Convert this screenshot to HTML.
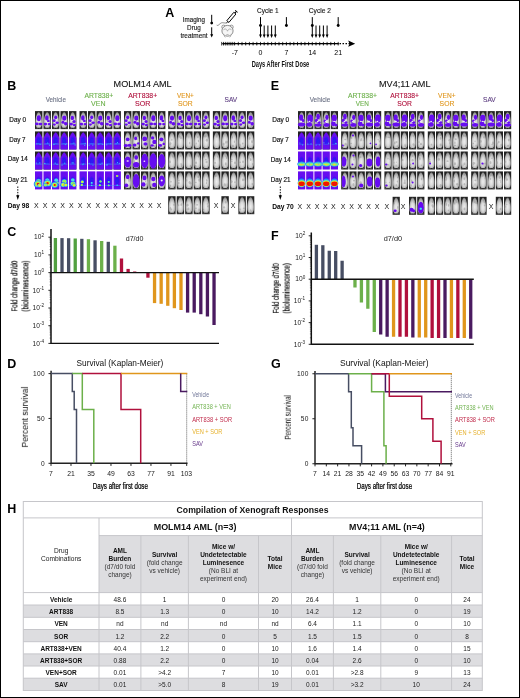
<!DOCTYPE html>
<html><head><meta charset="utf-8"><style>
html,body{margin:0;padding:0;background:#fff;}
svg{display:block;font-family:"Liberation Sans", sans-serif;will-change:transform;}
</style></head><body>
<svg width="520" height="698" viewBox="0 0 520 698">
<defs><radialGradient id="gm" cx="50%" cy="60%" r="60%"><stop offset="0" stop-color="#eeeeee"/><stop offset="0.45" stop-color="#d8d8d8"/><stop offset="0.8" stop-color="#a8a8a8"/><stop offset="1" stop-color="#6a6a6a"/></radialGradient><radialGradient id="gh" cx="50%" cy="50%" r="50%"><stop offset="0" stop-color="#2a1cf2"/><stop offset="0.6" stop-color="#3018f2"/><stop offset="1" stop-color="#3018f2" stop-opacity="0"/></radialGradient><clipPath id="cm"><path d="M3.5,0.8 C4.7,0.8 5.4,3.2 6.0,5.6 C6.6,8.2 6.7,11.5 6.55,13.5 C6.35,15.2 5.6,16.3 4.8,16.6 L2.2,16.6 C1.4,16.3 0.65,15.2 0.45,13.5 C0.3,11.5 0.4,8.2 1.0,5.6 C1.6,3.2 2.3,0.8 3.5,0.8 Z"/></clipPath><filter id="soft" x="-2%" y="-2%" width="104%" height="104%"><feGaussianBlur stdDeviation="0.3"/></filter></defs>
<rect x="0" y="0" width="520" height="698" fill="#fff"/>
<text x="165.20" y="17.40" font-size="12.5" font-weight="bold" fill="#000" >A</text>
<text transform="translate(182.80,21.90) scale(0.8628,1)" font-size="7.2" fill="#1a1a1a" stroke="#1a1a1a" stroke-width="0.15">Imaging</text>
<text transform="translate(187.10,30.20) scale(0.8778,1)" font-size="7.2" fill="#1a1a1a" stroke="#1a1a1a" stroke-width="0.15">Drug</text>
<text transform="translate(180.40,37.60) scale(0.8976,1)" font-size="7.2" fill="#1a1a1a" stroke="#1a1a1a" stroke-width="0.15">treatment</text>
<line x1="211.70" y1="14.80" x2="211.70" y2="23.10" stroke="#000" stroke-width="1.0" />
<circle cx="211.7" cy="23.1" r="1.4" fill="#000"/>
<line x1="211.70" y1="27.30" x2="211.70" y2="35.50" stroke="#000" stroke-width="1.0" />
<path d="M210.2,34.3 L211.7,37.6 L213.2,34.3 Z" fill="#000"/>
<path d="M216.7,25.1 C218.5,26.6 220,22.5 222.5,22.7 C224.5,22.9 225.2,23.2 226.8,22.8" fill="none" stroke="#444" stroke-width="0.6"/>
<circle cx="223.6" cy="27.0" r="1.9" fill="#f4f4f4" stroke="#666" stroke-width="0.6"/><circle cx="231.4" cy="27.0" r="1.9" fill="#f4f4f4" stroke="#666" stroke-width="0.6"/>
<ellipse cx="227.5" cy="30.8" rx="5.6" ry="5.4" fill="#f6f6f6" stroke="#6a6a6a" stroke-width="0.75"/>
<path d="M223.2,30.2 C224.8,28.2 226.6,28.8 227.5,31.2 C228.4,28.8 230.2,28.2 231.8,30.2" fill="none" stroke="#888" stroke-width="0.6"/>
<path d="M223.8,35.6 L225.3,37.4 M231.2,35.6 L229.7,37.4 M226.4,34.6 L228.6,34.6" stroke="#888" stroke-width="0.6"/>
<g transform="translate(226.8,22.8) rotate(-50)"><rect x="1.6" y="-1.35" width="11" height="2.7" fill="#fff" stroke="#000" stroke-width="0.9"/><line x1="-0.5" y1="0" x2="1.6" y2="0" stroke="#000" stroke-width="0.7"/><line x1="12.6" y1="0" x2="15" y2="0" stroke="#000" stroke-width="1"/><line x1="15" y1="-1.6" x2="15" y2="1.6" stroke="#000" stroke-width="0.9"/></g>
<line x1="222.30" y1="43.70" x2="338.00" y2="43.70" stroke="#000" stroke-width="1.2" />
<line x1="339.50" y1="43.70" x2="350.00" y2="43.70" stroke="#000" stroke-width="1.2" stroke-dasharray="1.5,1.5"/>
<path d="M348.2,40.6 L355.2,43.7 L348.2,46.8 L349.5,43.7 Z" fill="#000"/>
<line x1="223.50" y1="41.90" x2="223.50" y2="45.50" stroke="#000" stroke-width="0.75" />
<circle cx="223.50" cy="43.7" r="0.8" fill="#000"/>
<line x1="227.20" y1="41.90" x2="227.20" y2="45.50" stroke="#000" stroke-width="0.75" />
<circle cx="227.20" cy="43.7" r="0.8" fill="#000"/>
<line x1="230.90" y1="41.90" x2="230.90" y2="45.50" stroke="#000" stroke-width="0.75" />
<circle cx="230.90" cy="43.7" r="0.8" fill="#000"/>
<line x1="234.60" y1="41.90" x2="234.60" y2="45.50" stroke="#000" stroke-width="0.75" />
<circle cx="234.60" cy="43.7" r="0.8" fill="#000"/>
<line x1="238.30" y1="41.90" x2="238.30" y2="45.50" stroke="#000" stroke-width="0.75" />
<circle cx="238.30" cy="43.7" r="0.8" fill="#000"/>
<line x1="242.00" y1="41.90" x2="242.00" y2="45.50" stroke="#000" stroke-width="0.75" />
<circle cx="242.00" cy="43.7" r="0.8" fill="#000"/>
<line x1="245.70" y1="41.90" x2="245.70" y2="45.50" stroke="#000" stroke-width="0.75" />
<circle cx="245.70" cy="43.7" r="0.8" fill="#000"/>
<line x1="249.40" y1="41.90" x2="249.40" y2="45.50" stroke="#000" stroke-width="0.75" />
<circle cx="249.40" cy="43.7" r="0.8" fill="#000"/>
<line x1="253.10" y1="41.90" x2="253.10" y2="45.50" stroke="#000" stroke-width="0.75" />
<circle cx="253.10" cy="43.7" r="0.8" fill="#000"/>
<line x1="256.80" y1="41.90" x2="256.80" y2="45.50" stroke="#000" stroke-width="0.75" />
<circle cx="256.80" cy="43.7" r="0.8" fill="#000"/>
<line x1="260.50" y1="41.90" x2="260.50" y2="45.50" stroke="#000" stroke-width="0.75" />
<circle cx="260.50" cy="43.7" r="0.8" fill="#000"/>
<line x1="264.20" y1="41.90" x2="264.20" y2="45.50" stroke="#000" stroke-width="0.75" />
<circle cx="264.20" cy="43.7" r="0.8" fill="#000"/>
<line x1="267.90" y1="41.90" x2="267.90" y2="45.50" stroke="#000" stroke-width="0.75" />
<circle cx="267.90" cy="43.7" r="0.8" fill="#000"/>
<line x1="271.60" y1="41.90" x2="271.60" y2="45.50" stroke="#000" stroke-width="0.75" />
<circle cx="271.60" cy="43.7" r="0.8" fill="#000"/>
<line x1="275.30" y1="41.90" x2="275.30" y2="45.50" stroke="#000" stroke-width="0.75" />
<circle cx="275.30" cy="43.7" r="0.8" fill="#000"/>
<line x1="279.00" y1="41.90" x2="279.00" y2="45.50" stroke="#000" stroke-width="0.75" />
<circle cx="279.00" cy="43.7" r="0.8" fill="#000"/>
<line x1="282.70" y1="41.90" x2="282.70" y2="45.50" stroke="#000" stroke-width="0.75" />
<circle cx="282.70" cy="43.7" r="0.8" fill="#000"/>
<line x1="286.40" y1="41.90" x2="286.40" y2="45.50" stroke="#000" stroke-width="0.75" />
<circle cx="286.40" cy="43.7" r="0.8" fill="#000"/>
<line x1="290.10" y1="41.90" x2="290.10" y2="45.50" stroke="#000" stroke-width="0.75" />
<circle cx="290.10" cy="43.7" r="0.8" fill="#000"/>
<line x1="293.80" y1="41.90" x2="293.80" y2="45.50" stroke="#000" stroke-width="0.75" />
<circle cx="293.80" cy="43.7" r="0.8" fill="#000"/>
<line x1="297.50" y1="41.90" x2="297.50" y2="45.50" stroke="#000" stroke-width="0.75" />
<circle cx="297.50" cy="43.7" r="0.8" fill="#000"/>
<line x1="301.20" y1="41.90" x2="301.20" y2="45.50" stroke="#000" stroke-width="0.75" />
<circle cx="301.20" cy="43.7" r="0.8" fill="#000"/>
<line x1="304.90" y1="41.90" x2="304.90" y2="45.50" stroke="#000" stroke-width="0.75" />
<circle cx="304.90" cy="43.7" r="0.8" fill="#000"/>
<line x1="308.60" y1="41.90" x2="308.60" y2="45.50" stroke="#000" stroke-width="0.75" />
<circle cx="308.60" cy="43.7" r="0.8" fill="#000"/>
<line x1="312.30" y1="41.90" x2="312.30" y2="45.50" stroke="#000" stroke-width="0.75" />
<circle cx="312.30" cy="43.7" r="0.8" fill="#000"/>
<line x1="316.00" y1="41.90" x2="316.00" y2="45.50" stroke="#000" stroke-width="0.75" />
<circle cx="316.00" cy="43.7" r="0.8" fill="#000"/>
<line x1="319.70" y1="41.90" x2="319.70" y2="45.50" stroke="#000" stroke-width="0.75" />
<circle cx="319.70" cy="43.7" r="0.8" fill="#000"/>
<line x1="323.40" y1="41.90" x2="323.40" y2="45.50" stroke="#000" stroke-width="0.75" />
<circle cx="323.40" cy="43.7" r="0.8" fill="#000"/>
<line x1="327.10" y1="41.90" x2="327.10" y2="45.50" stroke="#000" stroke-width="0.75" />
<circle cx="327.10" cy="43.7" r="0.8" fill="#000"/>
<line x1="330.80" y1="41.90" x2="330.80" y2="45.50" stroke="#000" stroke-width="0.75" />
<circle cx="330.80" cy="43.7" r="0.8" fill="#000"/>
<line x1="334.50" y1="41.90" x2="334.50" y2="45.50" stroke="#000" stroke-width="0.75" />
<circle cx="334.50" cy="43.7" r="0.8" fill="#000"/>
<line x1="338.20" y1="41.90" x2="338.20" y2="45.50" stroke="#000" stroke-width="0.75" />
<circle cx="338.20" cy="43.7" r="0.8" fill="#000"/>
<line x1="221.65" y1="41.90" x2="221.65" y2="45.50" stroke="#000" stroke-width="0.75" />
<line x1="225.35" y1="41.90" x2="225.35" y2="45.50" stroke="#000" stroke-width="0.75" />
<line x1="229.05" y1="41.90" x2="229.05" y2="45.50" stroke="#000" stroke-width="0.75" />
<line x1="232.75" y1="41.90" x2="232.75" y2="45.50" stroke="#000" stroke-width="0.75" />
<text x="234.90" y="54.50" font-size="7.0" text-anchor="middle" fill="#000" >-7</text>
<text x="260.50" y="54.50" font-size="7.0" text-anchor="middle" fill="#000" >0</text>
<text x="286.40" y="54.50" font-size="7.0" text-anchor="middle" fill="#000" >7</text>
<text x="312.30" y="54.50" font-size="7.0" text-anchor="middle" fill="#000" >14</text>
<text x="338.20" y="54.50" font-size="7.0" text-anchor="middle" fill="#000" >21</text>
<text x="251.70" y="66.60" font-size="8.8" font-weight="bold" fill="#111" textLength="57.5" lengthAdjust="spacingAndGlyphs" >Days After First Dose</text>
<text transform="translate(257.00,12.90) scale(0.8754,1)" font-size="7.4" fill="#1a1a1a" stroke="#1a1a1a" stroke-width="0.15">Cycle 1</text>
<text transform="translate(308.80,12.90) scale(0.8997,1)" font-size="7.4" fill="#1a1a1a" stroke="#1a1a1a" stroke-width="0.15">Cycle 2</text>
<line x1="260.50" y1="17.10" x2="260.50" y2="25.50" stroke="#000" stroke-width="1.0" />
<circle cx="260.50" cy="25.5" r="1.45" fill="#000"/>
<line x1="286.40" y1="17.10" x2="286.40" y2="25.50" stroke="#000" stroke-width="1.0" />
<circle cx="286.40" cy="25.5" r="1.45" fill="#000"/>
<line x1="312.30" y1="17.10" x2="312.30" y2="25.50" stroke="#000" stroke-width="1.0" />
<circle cx="312.30" cy="25.5" r="1.45" fill="#000"/>
<line x1="338.20" y1="17.10" x2="338.20" y2="25.50" stroke="#000" stroke-width="1.0" />
<circle cx="338.20" cy="25.5" r="1.45" fill="#000"/>
<line x1="260.50" y1="25.50" x2="260.50" y2="35.50" stroke="#000" stroke-width="1.0" />
<path d="M259.05,34.4 L260.50,38.1 L261.95,34.4 Z" fill="#000"/>
<line x1="264.20" y1="25.50" x2="264.20" y2="35.50" stroke="#000" stroke-width="1.0" />
<path d="M262.75,34.4 L264.20,38.1 L265.65,34.4 Z" fill="#000"/>
<line x1="267.90" y1="25.50" x2="267.90" y2="35.50" stroke="#000" stroke-width="1.0" />
<path d="M266.45,34.4 L267.90,38.1 L269.35,34.4 Z" fill="#000"/>
<line x1="271.60" y1="25.50" x2="271.60" y2="35.50" stroke="#000" stroke-width="1.0" />
<path d="M270.15,34.4 L271.60,38.1 L273.05,34.4 Z" fill="#000"/>
<line x1="275.30" y1="25.50" x2="275.30" y2="35.50" stroke="#000" stroke-width="1.0" />
<path d="M273.85,34.4 L275.30,38.1 L276.75,34.4 Z" fill="#000"/>
<line x1="312.30" y1="25.50" x2="312.30" y2="35.50" stroke="#000" stroke-width="1.0" />
<path d="M310.85,34.4 L312.30,38.1 L313.75,34.4 Z" fill="#000"/>
<line x1="316.00" y1="25.50" x2="316.00" y2="35.50" stroke="#000" stroke-width="1.0" />
<path d="M314.55,34.4 L316.00,38.1 L317.45,34.4 Z" fill="#000"/>
<line x1="319.70" y1="25.50" x2="319.70" y2="35.50" stroke="#000" stroke-width="1.0" />
<path d="M318.25,34.4 L319.70,38.1 L321.15,34.4 Z" fill="#000"/>
<line x1="323.40" y1="25.50" x2="323.40" y2="35.50" stroke="#000" stroke-width="1.0" />
<path d="M321.95,34.4 L323.40,38.1 L324.85,34.4 Z" fill="#000"/>
<line x1="327.10" y1="25.50" x2="327.10" y2="35.50" stroke="#000" stroke-width="1.0" />
<path d="M325.65,34.4 L327.10,38.1 L328.55,34.4 Z" fill="#000"/>
<text x="7.30" y="90.10" font-size="12.5" font-weight="bold" fill="#000" >B</text>
<text transform="translate(113.60,86.70) scale(0.9276,1)" font-size="9.8" fill="#111" stroke="#111" stroke-width="0.1">MOLM14 AML</text>
<text transform="translate(45.75,102.10) scale(0.8263,1)" font-size="7.6" fill="#6a7084" stroke="#6a7084" stroke-width="0.12">Vehicle</text>
<text transform="translate(84.40,98.00) scale(0.9011,1)" font-size="7.6" fill="#6cb04a" stroke="#6cb04a" stroke-width="0.12">ART838+</text>
<text transform="translate(91.00,106.00) scale(0.9279,1)" font-size="7.6" fill="#6cb04a" stroke="#6cb04a" stroke-width="0.12">VEN</text>
<text transform="translate(128.20,98.00) scale(0.9011,1)" font-size="7.6" fill="#b0103c" stroke="#b0103c" stroke-width="0.12">ART838+</text>
<text transform="translate(135.00,106.00) scale(0.9351,1)" font-size="7.6" fill="#b0103c" stroke="#b0103c" stroke-width="0.12">SOR</text>
<text transform="translate(176.90,98.00) scale(0.8422,1)" font-size="7.6" fill="#e0961c" stroke="#e0961c" stroke-width="0.12">VEN+</text>
<text transform="translate(178.00,106.00) scale(0.8986,1)" font-size="7.6" fill="#e0961c" stroke="#e0961c" stroke-width="0.12">SOR</text>
<text transform="translate(224.50,102.10) scale(0.8672,1)" font-size="7.6" fill="#5d3e80" stroke="#5d3e80" stroke-width="0.12">SAV</text>
<text transform="translate(9.30,121.60) scale(0.9004,1)" font-size="7.1" fill="#111" stroke="#111" stroke-width="0.18">Day 0</text>
<text transform="translate(9.30,142.30) scale(0.8788,1)" font-size="7.1" fill="#111" stroke="#111" stroke-width="0.18">Day 7</text>
<text transform="translate(7.70,161.10) scale(0.8979,1)" font-size="7.1" fill="#111" stroke="#111" stroke-width="0.18">Day 14</text>
<text transform="translate(7.70,181.50) scale(0.8846,1)" font-size="7.1" fill="#111" stroke="#111" stroke-width="0.18">Day 21</text>
<text transform="translate(7.75,207.60) scale(0.9282,1)" font-size="7.2" font-weight="bold" fill="#000">Day 98</text>
<line x1="17.80" y1="186.50" x2="17.80" y2="196.00" stroke="#000" stroke-width="1.0" stroke-dasharray="1.4,1.3"/>
<path d="M16.2,195.3 L17.8,199.9 L19.4,195.3 Z" fill="#000"/>
<g filter="url(#soft)">
<g transform="translate(35.00,111.10) scale(1.0571,1.0000)"><rect width="7" height="18" fill="#242424"/><path d="M1.6,16.2 L1.0,17.6 M2.6,16.4 L2.4,17.7 M4.4,16.4 L4.6,17.7 M5.4,16.2 L6.0,17.6" stroke="#777" stroke-width="0.45"/><path d="M3.5,0.8 C4.7,0.8 5.4,3.2 6.0,5.6 C6.6,8.2 6.7,11.5 6.55,13.5 C6.35,15.2 5.6,16.3 4.8,16.6 L2.2,16.6 C1.4,16.3 0.65,15.2 0.45,13.5 C0.3,11.5 0.4,8.2 1.0,5.6 C1.6,3.2 2.3,0.8 3.5,0.8 Z" fill="url(#gm)"/><g clip-path="url(#cm)" fill="#8a8a8a" opacity="0.45"><ellipse cx="3.82" cy="13.02" rx="1.00" ry="1.52"/><ellipse cx="3.52" cy="7.70" rx="1.09" ry="1.32"/><ellipse cx="2.42" cy="8.06" rx="0.97" ry="0.95"/></g><ellipse cx="3.6" cy="7.2" rx="1.9" ry="3.0" fill="#6608f0"/><ellipse cx="1.7" cy="12.8" rx="1.7" ry="1.4" fill="#6608f0"/><ellipse cx="5.2" cy="12.9" rx="1.7" ry="1.3" fill="#6608f0"/></g>
<g transform="translate(43.50,111.10) scale(1.0571,1.0000)"><rect width="7" height="18" fill="#242424"/><path d="M1.6,16.2 L1.0,17.6 M2.6,16.4 L2.4,17.7 M4.4,16.4 L4.6,17.7 M5.4,16.2 L6.0,17.6" stroke="#777" stroke-width="0.45"/><path d="M3.5,0.8 C4.7,0.8 5.4,3.2 6.0,5.6 C6.6,8.2 6.7,11.5 6.55,13.5 C6.35,15.2 5.6,16.3 4.8,16.6 L2.2,16.6 C1.4,16.3 0.65,15.2 0.45,13.5 C0.3,11.5 0.4,8.2 1.0,5.6 C1.6,3.2 2.3,0.8 3.5,0.8 Z" fill="url(#gm)"/><g clip-path="url(#cm)" fill="#8a8a8a" opacity="0.45"><ellipse cx="5.59" cy="13.43" rx="0.79" ry="0.70"/><ellipse cx="4.27" cy="3.95" rx="0.94" ry="1.03"/><ellipse cx="5.62" cy="5.46" rx="1.03" ry="1.18"/></g><ellipse cx="3.2" cy="6.8" rx="1.7" ry="2.6" fill="#6608f0"/><ellipse cx="4.6" cy="9.8" rx="1.3" ry="1.2" fill="#6608f0"/><ellipse cx="1.8" cy="13" rx="1.6" ry="1.3" fill="#6608f0"/><ellipse cx="5.4" cy="13" rx="1.5" ry="1.2" fill="#6608f0"/></g>
<g transform="translate(52.00,111.10) scale(1.0571,1.0000)"><rect width="7" height="18" fill="#242424"/><path d="M1.6,16.2 L1.0,17.6 M2.6,16.4 L2.4,17.7 M4.4,16.4 L4.6,17.7 M5.4,16.2 L6.0,17.6" stroke="#777" stroke-width="0.45"/><path d="M3.5,0.8 C4.7,0.8 5.4,3.2 6.0,5.6 C6.6,8.2 6.7,11.5 6.55,13.5 C6.35,15.2 5.6,16.3 4.8,16.6 L2.2,16.6 C1.4,16.3 0.65,15.2 0.45,13.5 C0.3,11.5 0.4,8.2 1.0,5.6 C1.6,3.2 2.3,0.8 3.5,0.8 Z" fill="url(#gm)"/><g clip-path="url(#cm)" fill="#8a8a8a" opacity="0.45"><ellipse cx="1.24" cy="11.95" rx="0.58" ry="1.18"/><ellipse cx="3.26" cy="7.17" rx="0.99" ry="1.01"/><ellipse cx="4.60" cy="12.48" rx="0.54" ry="1.22"/></g><ellipse cx="3.5" cy="6.2" rx="1.4" ry="1.9" fill="#6608f0"/><ellipse cx="2.0" cy="9.6" rx="1.5" ry="1.4" fill="#6608f0"/><ellipse cx="4.9" cy="11.6" rx="1.6" ry="1.3" fill="#6608f0"/><ellipse cx="2.2" cy="13.5" rx="1.5" ry="1.1" fill="#6608f0"/></g>
<g transform="translate(60.50,111.10) scale(1.0571,1.0000)"><rect width="7" height="18" fill="#242424"/><path d="M1.6,16.2 L1.0,17.6 M2.6,16.4 L2.4,17.7 M4.4,16.4 L4.6,17.7 M5.4,16.2 L6.0,17.6" stroke="#777" stroke-width="0.45"/><path d="M3.5,0.8 C4.7,0.8 5.4,3.2 6.0,5.6 C6.6,8.2 6.7,11.5 6.55,13.5 C6.35,15.2 5.6,16.3 4.8,16.6 L2.2,16.6 C1.4,16.3 0.65,15.2 0.45,13.5 C0.3,11.5 0.4,8.2 1.0,5.6 C1.6,3.2 2.3,0.8 3.5,0.8 Z" fill="url(#gm)"/><g clip-path="url(#cm)" fill="#8a8a8a" opacity="0.45"><ellipse cx="3.92" cy="11.28" rx="0.75" ry="0.84"/><ellipse cx="1.24" cy="3.07" rx="1.08" ry="0.62"/><ellipse cx="2.40" cy="9.14" rx="0.63" ry="1.34"/></g><ellipse cx="3.6" cy="7.0" rx="2.0" ry="2.6" fill="#6608f0"/><ellipse cx="2.3" cy="11.2" rx="1.4" ry="1.5" fill="#6608f0"/><ellipse cx="5.0" cy="12.6" rx="1.7" ry="1.7" fill="#6608f0"/></g>
<g transform="translate(69.00,111.10) scale(1.0571,1.0000)"><rect width="7" height="18" fill="#242424"/><path d="M1.6,16.2 L1.0,17.6 M2.6,16.4 L2.4,17.7 M4.4,16.4 L4.6,17.7 M5.4,16.2 L6.0,17.6" stroke="#777" stroke-width="0.45"/><path d="M3.5,0.8 C4.7,0.8 5.4,3.2 6.0,5.6 C6.6,8.2 6.7,11.5 6.55,13.5 C6.35,15.2 5.6,16.3 4.8,16.6 L2.2,16.6 C1.4,16.3 0.65,15.2 0.45,13.5 C0.3,11.5 0.4,8.2 1.0,5.6 C1.6,3.2 2.3,0.8 3.5,0.8 Z" fill="url(#gm)"/><g clip-path="url(#cm)" fill="#8a8a8a" opacity="0.45"><ellipse cx="4.22" cy="12.88" rx="1.06" ry="1.57"/><ellipse cx="3.26" cy="11.43" rx="0.57" ry="1.46"/><ellipse cx="1.88" cy="7.06" rx="0.82" ry="0.75"/></g><ellipse cx="3.2" cy="6.8" rx="1.6" ry="2.2" fill="#6608f0"/><ellipse cx="4.8" cy="10.3" rx="1.5" ry="1.5" fill="#6608f0"/><ellipse cx="2.0" cy="13" rx="1.7" ry="1.3" fill="#6608f0"/><ellipse cx="5.1" cy="14" rx="1.6" ry="1.1" fill="#6608f0"/></g>
<g transform="translate(35.00,131.40) scale(1.0571,1.0000)"><rect width="7" height="18" fill="#242424"/><path d="M3.5,0.8 C4.6,1.2 5.8,3.8 7,6.6 L7,18 L0,18 L0,6.6 C1.2,3.8 2.4,1.2 3.5,0.8 Z" fill="#6608f0"/><ellipse cx="3.5" cy="9.5" rx="2.6" ry="5" fill="url(#gh)"/><circle cx="1.73" cy="12.36" r="0.6" fill="#40b8f8"/><circle cx="4.85" cy="13.12" r="0.6" fill="#40b8f8"/><ellipse cx="3.5" cy="12.5" rx="3.4" ry="0.55" fill="#3a8cf8" opacity="0.85"/></g>
<g transform="translate(43.50,131.40) scale(1.0571,1.0000)"><rect width="7" height="18" fill="#242424"/><path d="M3.5,0.8 C4.6,1.2 5.8,3.8 7,6.6 L7,18 L0,18 L0,6.6 C1.2,3.8 2.4,1.2 3.5,0.8 Z" fill="#6608f0"/><ellipse cx="3.5" cy="9.5" rx="2.6" ry="5" fill="url(#gh)"/><circle cx="3.91" cy="11.58" r="0.6" fill="#40b8f8"/><circle cx="5.83" cy="13.77" r="0.6" fill="#40b8f8"/><ellipse cx="3.5" cy="12.5" rx="3.4" ry="0.55" fill="#3a8cf8" opacity="0.85"/></g>
<g transform="translate(52.00,131.40) scale(1.0571,1.0000)"><rect width="7" height="18" fill="#242424"/><path d="M3.5,0.8 C4.6,1.2 5.8,3.8 7,6.6 L7,18 L0,18 L0,6.6 C1.2,3.8 2.4,1.2 3.5,0.8 Z" fill="#6608f0"/><ellipse cx="3.5" cy="9.5" rx="2.6" ry="5" fill="url(#gh)"/><circle cx="1.74" cy="12.85" r="0.6" fill="#40b8f8"/><circle cx="1.85" cy="13.14" r="0.6" fill="#40b8f8"/><ellipse cx="3.5" cy="12.5" rx="3.4" ry="0.55" fill="#3a8cf8" opacity="0.85"/></g>
<g transform="translate(60.50,131.40) scale(1.0571,1.0000)"><rect width="7" height="18" fill="#242424"/><path d="M3.5,0.8 C4.6,1.2 5.8,3.8 7,6.6 L7,18 L0,18 L0,6.6 C1.2,3.8 2.4,1.2 3.5,0.8 Z" fill="#6608f0"/><ellipse cx="3.5" cy="9.5" rx="2.6" ry="5" fill="url(#gh)"/><circle cx="5.90" cy="12.37" r="0.6" fill="#40b8f8"/><circle cx="4.59" cy="13.20" r="0.6" fill="#40b8f8"/><ellipse cx="3.5" cy="12.5" rx="3.4" ry="0.55" fill="#3a8cf8" opacity="0.85"/></g>
<g transform="translate(69.00,131.40) scale(1.0571,1.0000)"><rect width="7" height="18" fill="#242424"/><path d="M3.5,0.8 C4.6,1.2 5.8,3.8 7,6.6 L7,18 L0,18 L0,6.6 C1.2,3.8 2.4,1.2 3.5,0.8 Z" fill="#6608f0"/><ellipse cx="3.5" cy="9.5" rx="2.6" ry="5" fill="url(#gh)"/><circle cx="5.80" cy="13.62" r="0.6" fill="#40b8f8"/><circle cx="4.66" cy="11.68" r="0.6" fill="#40b8f8"/><ellipse cx="3.5" cy="12.5" rx="3.4" ry="0.55" fill="#3a8cf8" opacity="0.85"/></g>
<g transform="translate(35.00,151.50) scale(1.0571,1.0000)"><rect width="7" height="18" fill="#242424"/><path d="M3.5,0.8 C4.6,1.2 5.8,3.8 7,6.6 L7,18 L0,18 L0,6.6 C1.2,3.8 2.4,1.2 3.5,0.8 Z" fill="#6608f0"/><ellipse cx="3.5" cy="9.5" rx="2.6" ry="5" fill="url(#gh)"/><circle cx="1.23" cy="11.61" r="0.6" fill="#40b8f8"/><circle cx="4.55" cy="11.43" r="0.6" fill="#40b8f8"/><ellipse cx="3.5" cy="12.5" rx="3.4" ry="0.55" fill="#3a8cf8" opacity="0.85"/></g>
<g transform="translate(43.50,151.50) scale(1.0571,1.0000)"><rect width="7" height="18" fill="#242424"/><path d="M3.5,0.8 C4.6,1.2 5.8,3.8 7,6.6 L7,18 L0,18 L0,6.6 C1.2,3.8 2.4,1.2 3.5,0.8 Z" fill="#6608f0"/><ellipse cx="3.5" cy="9.5" rx="2.6" ry="5" fill="url(#gh)"/><circle cx="1.34" cy="11.98" r="0.6" fill="#40b8f8"/><circle cx="1.02" cy="11.85" r="0.6" fill="#40b8f8"/><ellipse cx="3.5" cy="12.5" rx="3.4" ry="0.55" fill="#3a8cf8" opacity="0.85"/></g>
<g transform="translate(52.00,151.50) scale(1.0571,1.0000)"><rect width="7" height="18" fill="#242424"/><path d="M3.5,0.8 C4.6,1.2 5.8,3.8 7,6.6 L7,18 L0,18 L0,6.6 C1.2,3.8 2.4,1.2 3.5,0.8 Z" fill="#6608f0"/><ellipse cx="3.5" cy="9.5" rx="2.6" ry="5" fill="url(#gh)"/><circle cx="4.82" cy="12.93" r="0.6" fill="#40b8f8"/><circle cx="3.05" cy="11.59" r="0.6" fill="#40b8f8"/><ellipse cx="3.5" cy="12.5" rx="3.4" ry="0.55" fill="#3a8cf8" opacity="0.85"/></g>
<g transform="translate(60.50,151.50) scale(1.0571,1.0000)"><rect width="7" height="18" fill="#242424"/><path d="M3.5,0.8 C4.6,1.2 5.8,3.8 7,6.6 L7,18 L0,18 L0,6.6 C1.2,3.8 2.4,1.2 3.5,0.8 Z" fill="#6608f0"/><ellipse cx="3.5" cy="9.5" rx="2.6" ry="5" fill="url(#gh)"/><circle cx="1.45" cy="13.53" r="0.6" fill="#40b8f8"/><circle cx="4.00" cy="11.64" r="0.6" fill="#40b8f8"/><ellipse cx="3.5" cy="12.5" rx="3.4" ry="0.55" fill="#3a8cf8" opacity="0.85"/></g>
<g transform="translate(69.00,151.50) scale(1.0571,1.0000)"><rect width="7" height="18" fill="#242424"/><path d="M3.5,0.8 C4.6,1.2 5.8,3.8 7,6.6 L7,18 L0,18 L0,6.6 C1.2,3.8 2.4,1.2 3.5,0.8 Z" fill="#6608f0"/><ellipse cx="3.5" cy="9.5" rx="2.6" ry="5" fill="url(#gh)"/><circle cx="2.98" cy="11.26" r="0.6" fill="#40b8f8"/><circle cx="3.92" cy="11.40" r="0.6" fill="#40b8f8"/><ellipse cx="3.5" cy="12.5" rx="3.4" ry="0.55" fill="#3a8cf8" opacity="0.85"/></g>
<g transform="translate(35.00,171.40) scale(1.0571,1.0000)"><rect width="7" height="18" fill="#6608f0"/><ellipse cx="3.5" cy="9.5" rx="2.6" ry="5" fill="url(#gh)"/><rect x="0" y="13.8" width="7" height="0.9" fill="#2a7cf8" opacity="0.8"/><ellipse cx="3.4" cy="10.0" rx="2.86" ry="2.60" fill="#2a6cf8"/><ellipse cx="3.4" cy="10.0" rx="2.37" ry="2.16" fill="#48e0e8"/><ellipse cx="3.4" cy="10.0" rx="1.89" ry="1.72" fill="#9cf050"/><ellipse cx="2.8" cy="12.6" rx="3.96" ry="3.60" fill="#2a6cf8"/><ellipse cx="2.8" cy="12.6" rx="3.29" ry="2.99" fill="#48e0e8"/><ellipse cx="2.8" cy="12.6" rx="2.61" ry="2.38" fill="#9cf050"/><ellipse cx="2.8" cy="12.6" rx="1.94" ry="1.76" fill="#f4f020"/><ellipse cx="2.8" cy="12.6" rx="1.27" ry="1.15" fill="#f01400"/><ellipse cx="4.4" cy="14.0" rx="2.20" ry="2.00" fill="#2a6cf8"/><ellipse cx="4.4" cy="14.0" rx="1.83" ry="1.66" fill="#48e0e8"/><ellipse cx="4.4" cy="14.0" rx="1.45" ry="1.32" fill="#9cf050"/><ellipse cx="4.4" cy="14.0" rx="1.08" ry="0.98" fill="#f4f020"/></g>
<g transform="translate(43.50,171.40) scale(1.0571,1.0000)"><rect width="7" height="18" fill="#6608f0"/><ellipse cx="3.5" cy="9.5" rx="2.6" ry="5" fill="url(#gh)"/><rect x="0" y="13.8" width="7" height="0.9" fill="#2a7cf8" opacity="0.8"/><ellipse cx="3.6" cy="9.0" rx="2.42" ry="2.20" fill="#2a6cf8"/><ellipse cx="3.6" cy="9.0" rx="2.01" ry="1.83" fill="#48e0e8"/><ellipse cx="3.8" cy="11.8" rx="3.85" ry="3.50" fill="#2a6cf8"/><ellipse cx="3.8" cy="11.8" rx="3.20" ry="2.90" fill="#48e0e8"/><ellipse cx="3.8" cy="11.8" rx="2.54" ry="2.31" fill="#9cf050"/><ellipse cx="3.8" cy="11.8" rx="1.89" ry="1.71" fill="#f4f020"/><ellipse cx="3.8" cy="11.8" rx="1.23" ry="1.12" fill="#f01400"/><ellipse cx="1.8" cy="13.5" rx="1.98" ry="1.80" fill="#2a6cf8"/><ellipse cx="1.8" cy="13.5" rx="1.64" ry="1.49" fill="#48e0e8"/><ellipse cx="1.8" cy="13.5" rx="1.31" ry="1.19" fill="#9cf050"/></g>
<g transform="translate(52.00,171.40) scale(1.0571,1.0000)"><rect width="7" height="18" fill="#6608f0"/><ellipse cx="3.5" cy="9.5" rx="2.6" ry="5" fill="url(#gh)"/><rect x="0" y="13.8" width="7" height="0.9" fill="#2a7cf8" opacity="0.8"/><ellipse cx="4.0" cy="8.8" rx="2.09" ry="1.90" fill="#2a6cf8"/><ellipse cx="4.0" cy="8.8" rx="1.73" ry="1.58" fill="#48e0e8"/><ellipse cx="4.6" cy="11.6" rx="2.20" ry="2.00" fill="#2a6cf8"/><ellipse cx="4.6" cy="11.6" rx="1.83" ry="1.66" fill="#48e0e8"/><ellipse cx="4.6" cy="11.6" rx="1.45" ry="1.32" fill="#9cf050"/><ellipse cx="2.6" cy="13.6" rx="3.30" ry="3.00" fill="#2a6cf8"/><ellipse cx="2.6" cy="13.6" rx="2.74" ry="2.49" fill="#48e0e8"/><ellipse cx="2.6" cy="13.6" rx="2.18" ry="1.98" fill="#9cf050"/><ellipse cx="2.6" cy="13.6" rx="1.62" ry="1.47" fill="#f4f020"/><ellipse cx="2.6" cy="13.6" rx="1.06" ry="0.96" fill="#f01400"/></g>
<g transform="translate(60.50,171.40) scale(1.0571,1.0000)"><rect width="7" height="18" fill="#6608f0"/><ellipse cx="3.5" cy="9.5" rx="2.6" ry="5" fill="url(#gh)"/><rect x="0" y="13.8" width="7" height="0.9" fill="#2a7cf8" opacity="0.8"/><ellipse cx="3.6" cy="10.0" rx="2.64" ry="2.40" fill="#2a6cf8"/><ellipse cx="3.6" cy="10.0" rx="2.19" ry="1.99" fill="#48e0e8"/><ellipse cx="3.6" cy="10.0" rx="1.74" ry="1.58" fill="#9cf050"/><ellipse cx="2.6" cy="13.4" rx="2.75" ry="2.50" fill="#2a6cf8"/><ellipse cx="2.6" cy="13.4" rx="2.28" ry="2.07" fill="#48e0e8"/><ellipse cx="2.6" cy="13.4" rx="1.81" ry="1.65" fill="#9cf050"/><ellipse cx="2.6" cy="13.4" rx="1.35" ry="1.23" fill="#f4f020"/><ellipse cx="5" cy="13.6" rx="2.09" ry="1.90" fill="#2a6cf8"/><ellipse cx="5" cy="13.6" rx="1.73" ry="1.58" fill="#48e0e8"/><ellipse cx="5" cy="13.6" rx="1.38" ry="1.25" fill="#9cf050"/><ellipse cx="5" cy="13.6" rx="1.02" ry="0.93" fill="#f4f020"/></g>
<g transform="translate(69.00,171.40) scale(1.0571,1.0000)"><rect width="7" height="18" fill="#6608f0"/><ellipse cx="3.5" cy="9.5" rx="2.6" ry="5" fill="url(#gh)"/><rect x="0" y="13.8" width="7" height="0.9" fill="#2a7cf8" opacity="0.8"/><ellipse cx="3.6" cy="8.6" rx="1.98" ry="1.80" fill="#2a6cf8"/><ellipse cx="3.6" cy="8.6" rx="1.64" ry="1.49" fill="#48e0e8"/><ellipse cx="3.8" cy="12.2" rx="2.75" ry="2.50" fill="#2a6cf8"/><ellipse cx="3.8" cy="12.2" rx="2.28" ry="2.07" fill="#48e0e8"/><ellipse cx="3.8" cy="12.2" rx="1.81" ry="1.65" fill="#9cf050"/><ellipse cx="4.8" cy="13.8" rx="1.98" ry="1.80" fill="#2a6cf8"/><ellipse cx="4.8" cy="13.8" rx="1.64" ry="1.49" fill="#48e0e8"/><ellipse cx="4.8" cy="13.8" rx="1.31" ry="1.19" fill="#9cf050"/><ellipse cx="4.8" cy="13.8" rx="0.97" ry="0.88" fill="#f4f020"/></g>
<g transform="translate(79.50,111.10) scale(1.0571,1.0000)"><rect width="7" height="18" fill="#242424"/><path d="M1.6,16.2 L1.0,17.6 M2.6,16.4 L2.4,17.7 M4.4,16.4 L4.6,17.7 M5.4,16.2 L6.0,17.6" stroke="#777" stroke-width="0.45"/><path d="M3.5,0.8 C4.7,0.8 5.4,3.2 6.0,5.6 C6.6,8.2 6.7,11.5 6.55,13.5 C6.35,15.2 5.6,16.3 4.8,16.6 L2.2,16.6 C1.4,16.3 0.65,15.2 0.45,13.5 C0.3,11.5 0.4,8.2 1.0,5.6 C1.6,3.2 2.3,0.8 3.5,0.8 Z" fill="url(#gm)"/><g clip-path="url(#cm)" fill="#8a8a8a" opacity="0.45"><ellipse cx="3.26" cy="14.37" rx="0.78" ry="1.37"/><ellipse cx="4.84" cy="14.21" rx="0.65" ry="1.40"/><ellipse cx="3.84" cy="4.67" rx="0.95" ry="0.79"/></g><ellipse cx="3.2" cy="6.8" rx="1.7" ry="2.6" fill="#6608f0"/><ellipse cx="4.6" cy="9.8" rx="1.3" ry="1.2" fill="#6608f0"/><ellipse cx="1.8" cy="13" rx="1.6" ry="1.3" fill="#6608f0"/><ellipse cx="5.4" cy="13" rx="1.5" ry="1.2" fill="#6608f0"/></g>
<g transform="translate(88.00,111.10) scale(1.0571,1.0000)"><rect width="7" height="18" fill="#242424"/><path d="M1.6,16.2 L1.0,17.6 M2.6,16.4 L2.4,17.7 M4.4,16.4 L4.6,17.7 M5.4,16.2 L6.0,17.6" stroke="#777" stroke-width="0.45"/><path d="M3.5,0.8 C4.7,0.8 5.4,3.2 6.0,5.6 C6.6,8.2 6.7,11.5 6.55,13.5 C6.35,15.2 5.6,16.3 4.8,16.6 L2.2,16.6 C1.4,16.3 0.65,15.2 0.45,13.5 C0.3,11.5 0.4,8.2 1.0,5.6 C1.6,3.2 2.3,0.8 3.5,0.8 Z" fill="url(#gm)"/><g clip-path="url(#cm)" fill="#8a8a8a" opacity="0.45"><ellipse cx="3.85" cy="13.00" rx="0.72" ry="1.07"/><ellipse cx="1.23" cy="3.32" rx="0.91" ry="1.15"/><ellipse cx="3.44" cy="12.06" rx="0.87" ry="1.30"/></g><ellipse cx="3.5" cy="6.2" rx="1.4" ry="1.9" fill="#6608f0"/><ellipse cx="2.0" cy="9.6" rx="1.5" ry="1.4" fill="#6608f0"/><ellipse cx="4.9" cy="11.6" rx="1.6" ry="1.3" fill="#6608f0"/><ellipse cx="2.2" cy="13.5" rx="1.5" ry="1.1" fill="#6608f0"/></g>
<g transform="translate(96.50,111.10) scale(1.0571,1.0000)"><rect width="7" height="18" fill="#242424"/><path d="M1.6,16.2 L1.0,17.6 M2.6,16.4 L2.4,17.7 M4.4,16.4 L4.6,17.7 M5.4,16.2 L6.0,17.6" stroke="#777" stroke-width="0.45"/><path d="M3.5,0.8 C4.7,0.8 5.4,3.2 6.0,5.6 C6.6,8.2 6.7,11.5 6.55,13.5 C6.35,15.2 5.6,16.3 4.8,16.6 L2.2,16.6 C1.4,16.3 0.65,15.2 0.45,13.5 C0.3,11.5 0.4,8.2 1.0,5.6 C1.6,3.2 2.3,0.8 3.5,0.8 Z" fill="url(#gm)"/><g clip-path="url(#cm)" fill="#8a8a8a" opacity="0.45"><ellipse cx="2.01" cy="6.34" rx="0.94" ry="1.37"/><ellipse cx="4.33" cy="10.36" rx="0.79" ry="1.33"/><ellipse cx="1.44" cy="12.46" rx="0.75" ry="1.48"/></g><ellipse cx="3.6" cy="7.0" rx="2.0" ry="2.6" fill="#6608f0"/><ellipse cx="2.3" cy="11.2" rx="1.4" ry="1.5" fill="#6608f0"/><ellipse cx="5.0" cy="12.6" rx="1.7" ry="1.7" fill="#6608f0"/></g>
<g transform="translate(105.00,111.10) scale(1.0571,1.0000)"><rect width="7" height="18" fill="#242424"/><path d="M1.6,16.2 L1.0,17.6 M2.6,16.4 L2.4,17.7 M4.4,16.4 L4.6,17.7 M5.4,16.2 L6.0,17.6" stroke="#777" stroke-width="0.45"/><path d="M3.5,0.8 C4.7,0.8 5.4,3.2 6.0,5.6 C6.6,8.2 6.7,11.5 6.55,13.5 C6.35,15.2 5.6,16.3 4.8,16.6 L2.2,16.6 C1.4,16.3 0.65,15.2 0.45,13.5 C0.3,11.5 0.4,8.2 1.0,5.6 C1.6,3.2 2.3,0.8 3.5,0.8 Z" fill="url(#gm)"/><g clip-path="url(#cm)" fill="#8a8a8a" opacity="0.45"><ellipse cx="2.78" cy="13.86" rx="0.79" ry="0.94"/><ellipse cx="2.49" cy="9.11" rx="0.85" ry="1.55"/><ellipse cx="3.85" cy="7.14" rx="0.95" ry="0.99"/></g><ellipse cx="3.2" cy="6.8" rx="1.6" ry="2.2" fill="#6608f0"/><ellipse cx="4.8" cy="10.3" rx="1.5" ry="1.5" fill="#6608f0"/><ellipse cx="2.0" cy="13" rx="1.7" ry="1.3" fill="#6608f0"/><ellipse cx="5.1" cy="14" rx="1.6" ry="1.1" fill="#6608f0"/></g>
<g transform="translate(113.50,111.10) scale(1.0571,1.0000)"><rect width="7" height="18" fill="#242424"/><path d="M1.6,16.2 L1.0,17.6 M2.6,16.4 L2.4,17.7 M4.4,16.4 L4.6,17.7 M5.4,16.2 L6.0,17.6" stroke="#777" stroke-width="0.45"/><path d="M3.5,0.8 C4.7,0.8 5.4,3.2 6.0,5.6 C6.6,8.2 6.7,11.5 6.55,13.5 C6.35,15.2 5.6,16.3 4.8,16.6 L2.2,16.6 C1.4,16.3 0.65,15.2 0.45,13.5 C0.3,11.5 0.4,8.2 1.0,5.6 C1.6,3.2 2.3,0.8 3.5,0.8 Z" fill="url(#gm)"/><g clip-path="url(#cm)" fill="#8a8a8a" opacity="0.45"><ellipse cx="4.47" cy="5.29" rx="0.56" ry="1.34"/><ellipse cx="5.31" cy="12.09" rx="0.63" ry="0.96"/><ellipse cx="5.65" cy="6.55" rx="0.96" ry="1.46"/></g><ellipse cx="3.6" cy="7.2" rx="1.9" ry="3.0" fill="#6608f0"/><ellipse cx="1.7" cy="12.8" rx="1.7" ry="1.4" fill="#6608f0"/><ellipse cx="5.2" cy="12.9" rx="1.7" ry="1.3" fill="#6608f0"/></g>
<g transform="translate(79.50,131.40) scale(1.0571,1.0000)"><rect width="7" height="18" fill="#242424"/><path d="M3.5,0.8 C4.6,1.2 5.8,3.8 7,6.6 L7,18 L0,18 L0,6.6 C1.2,3.8 2.4,1.2 3.5,0.8 Z" fill="#6608f0"/><ellipse cx="3.5" cy="9.5" rx="2.6" ry="5" fill="url(#gh)"/><circle cx="5.39" cy="12.05" r="0.6" fill="#40b8f8"/><circle cx="4.95" cy="13.85" r="0.6" fill="#40b8f8"/><ellipse cx="3.5" cy="12.5" rx="3.4" ry="0.55" fill="#3a8cf8" opacity="0.85"/></g>
<g transform="translate(88.00,131.40) scale(1.0571,1.0000)"><rect width="7" height="18" fill="#242424"/><path d="M3.5,0.8 C4.6,1.2 5.8,3.8 7,6.6 L7,18 L0,18 L0,6.6 C1.2,3.8 2.4,1.2 3.5,0.8 Z" fill="#6608f0"/><ellipse cx="3.5" cy="9.5" rx="2.6" ry="5" fill="url(#gh)"/><circle cx="4.55" cy="13.70" r="0.6" fill="#40b8f8"/><circle cx="1.08" cy="13.83" r="0.6" fill="#40b8f8"/><ellipse cx="3.5" cy="12.5" rx="3.4" ry="0.55" fill="#3a8cf8" opacity="0.85"/></g>
<g transform="translate(96.50,131.40) scale(1.0571,1.0000)"><rect width="7" height="18" fill="#242424"/><path d="M3.5,0.8 C4.6,1.2 5.8,3.8 7,6.6 L7,18 L0,18 L0,6.6 C1.2,3.8 2.4,1.2 3.5,0.8 Z" fill="#6608f0"/><ellipse cx="3.5" cy="9.5" rx="2.6" ry="5" fill="url(#gh)"/><circle cx="2.23" cy="12.74" r="0.6" fill="#40b8f8"/><circle cx="5.86" cy="12.97" r="0.6" fill="#40b8f8"/><ellipse cx="3.5" cy="12.5" rx="3.4" ry="0.55" fill="#3a8cf8" opacity="0.85"/></g>
<g transform="translate(105.00,131.40) scale(1.0571,1.0000)"><rect width="7" height="18" fill="#242424"/><path d="M3.5,0.8 C4.6,1.2 5.8,3.8 7,6.6 L7,18 L0,18 L0,6.6 C1.2,3.8 2.4,1.2 3.5,0.8 Z" fill="#6608f0"/><ellipse cx="3.5" cy="9.5" rx="2.6" ry="5" fill="url(#gh)"/><circle cx="1.65" cy="13.45" r="0.6" fill="#40b8f8"/><circle cx="5.40" cy="12.16" r="0.6" fill="#40b8f8"/><ellipse cx="3.5" cy="12.5" rx="3.4" ry="0.55" fill="#3a8cf8" opacity="0.85"/></g>
<g transform="translate(113.50,131.40) scale(1.0571,1.0000)"><rect width="7" height="18" fill="#242424"/><path d="M3.5,0.8 C4.6,1.2 5.8,3.8 7,6.6 L7,18 L0,18 L0,6.6 C1.2,3.8 2.4,1.2 3.5,0.8 Z" fill="#6608f0"/><ellipse cx="3.5" cy="9.5" rx="2.6" ry="5" fill="url(#gh)"/><circle cx="2.40" cy="12.38" r="0.6" fill="#40b8f8"/><circle cx="3.74" cy="11.30" r="0.6" fill="#40b8f8"/><ellipse cx="3.5" cy="12.5" rx="3.4" ry="0.55" fill="#3a8cf8" opacity="0.85"/></g>
<g transform="translate(79.50,151.50) scale(1.0571,1.0000)"><rect width="7" height="18" fill="#242424"/><path d="M3.5,0.8 C4.6,1.2 5.8,3.8 7,6.6 L7,18 L0,18 L0,6.6 C1.2,3.8 2.4,1.2 3.5,0.8 Z" fill="#6608f0"/><ellipse cx="3.5" cy="9.5" rx="2.6" ry="5" fill="url(#gh)"/><circle cx="3.17" cy="13.17" r="0.6" fill="#40b8f8"/><circle cx="3.68" cy="12.49" r="0.6" fill="#40b8f8"/><ellipse cx="3.5" cy="12.5" rx="3.4" ry="0.55" fill="#3a8cf8" opacity="0.85"/></g>
<g transform="translate(88.00,151.50) scale(1.0571,1.0000)"><rect width="7" height="18" fill="#242424"/><path d="M3.5,0.8 C4.6,1.2 5.8,3.8 7,6.6 L7,18 L0,18 L0,6.6 C1.2,3.8 2.4,1.2 3.5,0.8 Z" fill="#6608f0"/><ellipse cx="3.5" cy="9.5" rx="2.6" ry="5" fill="url(#gh)"/><circle cx="1.04" cy="11.92" r="0.6" fill="#40b8f8"/><circle cx="4.68" cy="13.53" r="0.6" fill="#40b8f8"/><ellipse cx="3.5" cy="12.5" rx="3.4" ry="0.55" fill="#3a8cf8" opacity="0.85"/></g>
<g transform="translate(96.50,151.50) scale(1.0571,1.0000)"><rect width="7" height="18" fill="#242424"/><path d="M3.5,0.8 C4.6,1.2 5.8,3.8 7,6.6 L7,18 L0,18 L0,6.6 C1.2,3.8 2.4,1.2 3.5,0.8 Z" fill="#6608f0"/><ellipse cx="3.5" cy="9.5" rx="2.6" ry="5" fill="url(#gh)"/><circle cx="3.53" cy="13.01" r="0.6" fill="#40b8f8"/><circle cx="5.27" cy="11.67" r="0.6" fill="#40b8f8"/><ellipse cx="3.5" cy="12.5" rx="3.4" ry="0.55" fill="#3a8cf8" opacity="0.85"/></g>
<g transform="translate(105.00,151.50) scale(1.0571,1.0000)"><rect width="7" height="18" fill="#242424"/><path d="M3.5,0.8 C4.6,1.2 5.8,3.8 7,6.6 L7,18 L0,18 L0,6.6 C1.2,3.8 2.4,1.2 3.5,0.8 Z" fill="#6608f0"/><ellipse cx="3.5" cy="9.5" rx="2.6" ry="5" fill="url(#gh)"/><circle cx="2.40" cy="13.34" r="0.6" fill="#40b8f8"/><circle cx="1.28" cy="13.39" r="0.6" fill="#40b8f8"/><ellipse cx="3.5" cy="12.5" rx="3.4" ry="0.55" fill="#3a8cf8" opacity="0.85"/></g>
<g transform="translate(113.50,151.50) scale(1.0571,1.0000)"><rect width="7" height="18" fill="#242424"/><path d="M3.5,0.8 C4.6,1.2 5.8,3.8 7,6.6 L7,18 L0,18 L0,6.6 C1.2,3.8 2.4,1.2 3.5,0.8 Z" fill="#6608f0"/><ellipse cx="3.5" cy="9.5" rx="2.6" ry="5" fill="url(#gh)"/><circle cx="3.79" cy="11.07" r="0.6" fill="#40b8f8"/><circle cx="5.83" cy="11.86" r="0.6" fill="#40b8f8"/><ellipse cx="3.5" cy="12.5" rx="3.4" ry="0.55" fill="#3a8cf8" opacity="0.85"/></g>
<g transform="translate(79.50,171.40) scale(1.0571,1.0000)"><rect width="7" height="18" fill="#6608f0"/><ellipse cx="3.5" cy="9.5" rx="2.6" ry="5" fill="url(#gh)"/><rect x="0" y="13.8" width="7" height="0.9" fill="#2a7cf8" opacity="0.8"/><ellipse cx="2.6" cy="10.5" rx="1.76" ry="1.60" fill="#2a6cf8"/><ellipse cx="2.6" cy="10.5" rx="1.46" ry="1.33" fill="#48e0e8"/><ellipse cx="2.6" cy="10.5" rx="1.16" ry="1.06" fill="#9cf050"/><ellipse cx="2.6" cy="10.5" rx="0.86" ry="0.78" fill="#f4f020"/><ellipse cx="2.2" cy="13.5" rx="1.32" ry="1.20" fill="#2a6cf8"/><ellipse cx="2.2" cy="13.5" rx="1.10" ry="1.00" fill="#48e0e8"/><ellipse cx="2.2" cy="13.5" rx="0.87" ry="0.79" fill="#9cf050"/><ellipse cx="2.2" cy="13.5" rx="0.65" ry="0.59" fill="#f4f020"/></g>
<g transform="translate(88.00,171.40) scale(1.0571,1.0000)"><rect width="7" height="18" fill="#6608f0"/><ellipse cx="3.5" cy="9.5" rx="2.6" ry="5" fill="url(#gh)"/><rect x="0" y="13.8" width="7" height="0.9" fill="#2a7cf8" opacity="0.8"/><ellipse cx="3.5" cy="11.5" rx="1.10" ry="1.00" fill="#2a6cf8"/><ellipse cx="3.5" cy="11.5" rx="0.91" ry="0.83" fill="#48e0e8"/><ellipse cx="3.5" cy="14" rx="0.88" ry="0.80" fill="#2a6cf8"/><ellipse cx="3.5" cy="14" rx="0.73" ry="0.66" fill="#48e0e8"/></g>
<g transform="translate(96.50,171.40) scale(1.0571,1.0000)"><rect width="7" height="18" fill="#6608f0"/><ellipse cx="3.5" cy="9.5" rx="2.6" ry="5" fill="url(#gh)"/><rect x="0" y="13.8" width="7" height="0.9" fill="#2a7cf8" opacity="0.8"/><ellipse cx="3.8" cy="10" rx="1.32" ry="1.20" fill="#2a6cf8"/><ellipse cx="3.8" cy="10" rx="1.10" ry="1.00" fill="#48e0e8"/><ellipse cx="3.8" cy="10" rx="0.87" ry="0.79" fill="#9cf050"/><ellipse cx="3.2" cy="13.8" rx="1.21" ry="1.10" fill="#2a6cf8"/><ellipse cx="3.2" cy="13.8" rx="1.00" ry="0.91" fill="#48e0e8"/><ellipse cx="3.2" cy="13.8" rx="0.80" ry="0.73" fill="#9cf050"/><ellipse cx="3.2" cy="13.8" rx="0.59" ry="0.54" fill="#f4f020"/></g>
<g transform="translate(105.00,171.40) scale(1.0571,1.0000)"><rect width="7" height="18" fill="#6608f0"/><ellipse cx="3.5" cy="9.5" rx="2.6" ry="5" fill="url(#gh)"/><rect x="0" y="13.8" width="7" height="0.9" fill="#2a7cf8" opacity="0.8"/><ellipse cx="3.5" cy="10.5" rx="1.10" ry="1.00" fill="#2a6cf8"/><ellipse cx="3.5" cy="10.5" rx="0.91" ry="0.83" fill="#48e0e8"/><ellipse cx="3.5" cy="10.5" rx="0.73" ry="0.66" fill="#9cf050"/><ellipse cx="3.5" cy="14" rx="1.10" ry="1.00" fill="#2a6cf8"/><ellipse cx="3.5" cy="14" rx="0.91" ry="0.83" fill="#48e0e8"/><ellipse cx="3.5" cy="14" rx="0.73" ry="0.66" fill="#9cf050"/></g>
<g transform="translate(113.50,171.40) scale(1.0571,1.0000)"><rect width="7" height="18" fill="#6608f0"/><ellipse cx="3.5" cy="9.5" rx="2.6" ry="5" fill="url(#gh)"/><rect x="0" y="13.8" width="7" height="0.9" fill="#2a7cf8" opacity="0.8"/><ellipse cx="3.5" cy="4.5" rx="1.32" ry="1.20" fill="#2a6cf8"/><ellipse cx="3.5" cy="4.5" rx="1.10" ry="1.00" fill="#48e0e8"/><ellipse cx="3.5" cy="4.5" rx="0.87" ry="0.79" fill="#9cf050"/><ellipse cx="3.5" cy="4.5" rx="0.65" ry="0.59" fill="#f4f020"/><ellipse cx="3.5" cy="4.5" rx="0.42" ry="0.38" fill="#f01400"/><ellipse cx="3.5" cy="13.8" rx="0.88" ry="0.80" fill="#2a6cf8"/><ellipse cx="3.5" cy="13.8" rx="0.73" ry="0.66" fill="#48e0e8"/></g>
<g transform="translate(124.00,111.10) scale(1.0571,1.0000)"><rect width="7" height="18" fill="#242424"/><path d="M1.6,16.2 L1.0,17.6 M2.6,16.4 L2.4,17.7 M4.4,16.4 L4.6,17.7 M5.4,16.2 L6.0,17.6" stroke="#777" stroke-width="0.45"/><path d="M3.5,0.8 C4.7,0.8 5.4,3.2 6.0,5.6 C6.6,8.2 6.7,11.5 6.55,13.5 C6.35,15.2 5.6,16.3 4.8,16.6 L2.2,16.6 C1.4,16.3 0.65,15.2 0.45,13.5 C0.3,11.5 0.4,8.2 1.0,5.6 C1.6,3.2 2.3,0.8 3.5,0.8 Z" fill="url(#gm)"/><g clip-path="url(#cm)" fill="#8a8a8a" opacity="0.45"><ellipse cx="4.55" cy="14.82" rx="0.99" ry="1.07"/><ellipse cx="3.67" cy="6.35" rx="0.70" ry="0.73"/><ellipse cx="3.59" cy="7.41" rx="0.91" ry="1.33"/></g><ellipse cx="3.5" cy="6.2" rx="1.4" ry="1.9" fill="#6608f0"/><ellipse cx="2.0" cy="9.6" rx="1.5" ry="1.4" fill="#6608f0"/><ellipse cx="4.9" cy="11.6" rx="1.6" ry="1.3" fill="#6608f0"/><ellipse cx="2.2" cy="13.5" rx="1.5" ry="1.1" fill="#6608f0"/></g>
<g transform="translate(132.50,111.10) scale(1.0571,1.0000)"><rect width="7" height="18" fill="#242424"/><path d="M1.6,16.2 L1.0,17.6 M2.6,16.4 L2.4,17.7 M4.4,16.4 L4.6,17.7 M5.4,16.2 L6.0,17.6" stroke="#777" stroke-width="0.45"/><path d="M3.5,0.8 C4.7,0.8 5.4,3.2 6.0,5.6 C6.6,8.2 6.7,11.5 6.55,13.5 C6.35,15.2 5.6,16.3 4.8,16.6 L2.2,16.6 C1.4,16.3 0.65,15.2 0.45,13.5 C0.3,11.5 0.4,8.2 1.0,5.6 C1.6,3.2 2.3,0.8 3.5,0.8 Z" fill="url(#gm)"/><g clip-path="url(#cm)" fill="#8a8a8a" opacity="0.45"><ellipse cx="5.75" cy="9.02" rx="0.85" ry="1.48"/><ellipse cx="4.32" cy="5.69" rx="0.74" ry="1.42"/><ellipse cx="3.73" cy="10.88" rx="0.72" ry="1.28"/></g><ellipse cx="3.6" cy="7.0" rx="2.0" ry="2.6" fill="#6608f0"/><ellipse cx="2.3" cy="11.2" rx="1.4" ry="1.5" fill="#6608f0"/><ellipse cx="5.0" cy="12.6" rx="1.7" ry="1.7" fill="#6608f0"/></g>
<g transform="translate(141.00,111.10) scale(1.0571,1.0000)"><rect width="7" height="18" fill="#242424"/><path d="M1.6,16.2 L1.0,17.6 M2.6,16.4 L2.4,17.7 M4.4,16.4 L4.6,17.7 M5.4,16.2 L6.0,17.6" stroke="#777" stroke-width="0.45"/><path d="M3.5,0.8 C4.7,0.8 5.4,3.2 6.0,5.6 C6.6,8.2 6.7,11.5 6.55,13.5 C6.35,15.2 5.6,16.3 4.8,16.6 L2.2,16.6 C1.4,16.3 0.65,15.2 0.45,13.5 C0.3,11.5 0.4,8.2 1.0,5.6 C1.6,3.2 2.3,0.8 3.5,0.8 Z" fill="url(#gm)"/><g clip-path="url(#cm)" fill="#8a8a8a" opacity="0.45"><ellipse cx="5.63" cy="6.98" rx="0.72" ry="1.27"/><ellipse cx="5.57" cy="12.08" rx="0.88" ry="0.77"/><ellipse cx="4.84" cy="3.51" rx="0.77" ry="0.72"/></g><ellipse cx="3.2" cy="6.8" rx="1.6" ry="2.2" fill="#6608f0"/><ellipse cx="4.8" cy="10.3" rx="1.5" ry="1.5" fill="#6608f0"/><ellipse cx="2.0" cy="13" rx="1.7" ry="1.3" fill="#6608f0"/><ellipse cx="5.1" cy="14" rx="1.6" ry="1.1" fill="#6608f0"/></g>
<g transform="translate(149.50,111.10) scale(1.0571,1.0000)"><rect width="7" height="18" fill="#242424"/><path d="M1.6,16.2 L1.0,17.6 M2.6,16.4 L2.4,17.7 M4.4,16.4 L4.6,17.7 M5.4,16.2 L6.0,17.6" stroke="#777" stroke-width="0.45"/><path d="M3.5,0.8 C4.7,0.8 5.4,3.2 6.0,5.6 C6.6,8.2 6.7,11.5 6.55,13.5 C6.35,15.2 5.6,16.3 4.8,16.6 L2.2,16.6 C1.4,16.3 0.65,15.2 0.45,13.5 C0.3,11.5 0.4,8.2 1.0,5.6 C1.6,3.2 2.3,0.8 3.5,0.8 Z" fill="url(#gm)"/><g clip-path="url(#cm)" fill="#8a8a8a" opacity="0.45"><ellipse cx="5.29" cy="12.58" rx="0.97" ry="0.66"/><ellipse cx="3.57" cy="3.80" rx="1.00" ry="0.64"/><ellipse cx="2.55" cy="3.45" rx="0.60" ry="1.19"/></g><ellipse cx="3.6" cy="7.2" rx="1.9" ry="3.0" fill="#6608f0"/><ellipse cx="1.7" cy="12.8" rx="1.7" ry="1.4" fill="#6608f0"/><ellipse cx="5.2" cy="12.9" rx="1.7" ry="1.3" fill="#6608f0"/></g>
<g transform="translate(158.00,111.10) scale(1.0571,1.0000)"><rect width="7" height="18" fill="#242424"/><path d="M1.6,16.2 L1.0,17.6 M2.6,16.4 L2.4,17.7 M4.4,16.4 L4.6,17.7 M5.4,16.2 L6.0,17.6" stroke="#777" stroke-width="0.45"/><path d="M3.5,0.8 C4.7,0.8 5.4,3.2 6.0,5.6 C6.6,8.2 6.7,11.5 6.55,13.5 C6.35,15.2 5.6,16.3 4.8,16.6 L2.2,16.6 C1.4,16.3 0.65,15.2 0.45,13.5 C0.3,11.5 0.4,8.2 1.0,5.6 C1.6,3.2 2.3,0.8 3.5,0.8 Z" fill="url(#gm)"/><g clip-path="url(#cm)" fill="#8a8a8a" opacity="0.45"><ellipse cx="5.09" cy="9.39" rx="0.73" ry="0.81"/><ellipse cx="3.92" cy="7.22" rx="0.80" ry="1.46"/><ellipse cx="4.10" cy="4.66" rx="0.86" ry="0.72"/></g><ellipse cx="3.2" cy="6.8" rx="1.7" ry="2.6" fill="#6608f0"/><ellipse cx="4.6" cy="9.8" rx="1.3" ry="1.2" fill="#6608f0"/><ellipse cx="1.8" cy="13" rx="1.6" ry="1.3" fill="#6608f0"/><ellipse cx="5.4" cy="13" rx="1.5" ry="1.2" fill="#6608f0"/></g>
<g transform="translate(124.00,131.40) scale(1.0571,1.0000)"><rect width="7" height="18" fill="#242424"/><path d="M1.6,16.2 L1.0,17.6 M2.6,16.4 L2.4,17.7 M4.4,16.4 L4.6,17.7 M5.4,16.2 L6.0,17.6" stroke="#777" stroke-width="0.45"/><path d="M3.5,0.8 C4.7,0.8 5.4,3.2 6.0,5.6 C6.6,8.2 6.7,11.5 6.55,13.5 C6.35,15.2 5.6,16.3 4.8,16.6 L2.2,16.6 C1.4,16.3 0.65,15.2 0.45,13.5 C0.3,11.5 0.4,8.2 1.0,5.6 C1.6,3.2 2.3,0.8 3.5,0.8 Z" fill="url(#gm)"/><g clip-path="url(#cm)" fill="#8a8a8a" opacity="0.45"><ellipse cx="5.57" cy="11.69" rx="0.70" ry="0.70"/><ellipse cx="4.46" cy="8.19" rx="0.53" ry="1.36"/><ellipse cx="3.77" cy="13.66" rx="0.99" ry="1.32"/></g><ellipse cx="3.5" cy="8" rx="1.8" ry="1.8" fill="#6608f0"/><ellipse cx="1.8" cy="14" rx="1.9" ry="1.5" fill="#6608f0"/><ellipse cx="5.2" cy="14" rx="1.8" ry="1.3" fill="#6608f0"/></g>
<g transform="translate(132.50,131.40) scale(1.0571,1.0000)"><rect width="7" height="18" fill="#242424"/><path d="M1.6,16.2 L1.0,17.6 M2.6,16.4 L2.4,17.7 M4.4,16.4 L4.6,17.7 M5.4,16.2 L6.0,17.6" stroke="#777" stroke-width="0.45"/><path d="M3.5,0.8 C4.7,0.8 5.4,3.2 6.0,5.6 C6.6,8.2 6.7,11.5 6.55,13.5 C6.35,15.2 5.6,16.3 4.8,16.6 L2.2,16.6 C1.4,16.3 0.65,15.2 0.45,13.5 C0.3,11.5 0.4,8.2 1.0,5.6 C1.6,3.2 2.3,0.8 3.5,0.8 Z" fill="url(#gm)"/><g clip-path="url(#cm)" fill="#8a8a8a" opacity="0.45"><ellipse cx="4.44" cy="8.01" rx="0.52" ry="0.72"/><ellipse cx="4.32" cy="5.17" rx="0.90" ry="0.95"/><ellipse cx="4.37" cy="12.34" rx="0.98" ry="0.65"/></g><ellipse cx="3" cy="7" rx="1.4" ry="1.8" fill="#6608f0"/><ellipse cx="2" cy="13.5" rx="1.8" ry="1.5" fill="#6608f0"/><ellipse cx="5.5" cy="12" rx="1.2" ry="1.2" fill="#6608f0"/></g>
<g transform="translate(141.00,131.40) scale(1.0571,1.0000)"><rect width="7" height="18" fill="#242424"/><path d="M1.6,16.2 L1.0,17.6 M2.6,16.4 L2.4,17.7 M4.4,16.4 L4.6,17.7 M5.4,16.2 L6.0,17.6" stroke="#777" stroke-width="0.45"/><path d="M3.5,0.8 C4.7,0.8 5.4,3.2 6.0,5.6 C6.6,8.2 6.7,11.5 6.55,13.5 C6.35,15.2 5.6,16.3 4.8,16.6 L2.2,16.6 C1.4,16.3 0.65,15.2 0.45,13.5 C0.3,11.5 0.4,8.2 1.0,5.6 C1.6,3.2 2.3,0.8 3.5,0.8 Z" fill="url(#gm)"/><g clip-path="url(#cm)" fill="#8a8a8a" opacity="0.45"><ellipse cx="4.35" cy="14.09" rx="0.67" ry="1.54"/><ellipse cx="5.26" cy="12.69" rx="1.04" ry="0.97"/><ellipse cx="5.01" cy="10.20" rx="0.69" ry="0.67"/></g><ellipse cx="3.5" cy="7.5" rx="2.3" ry="2.3" fill="#6608f0"/><ellipse cx="4.2" cy="12.5" rx="1.9" ry="1.7" fill="#6608f0"/></g>
<g transform="translate(149.50,131.40) scale(1.0571,1.0000)"><rect width="7" height="18" fill="#242424"/><path d="M1.6,16.2 L1.0,17.6 M2.6,16.4 L2.4,17.7 M4.4,16.4 L4.6,17.7 M5.4,16.2 L6.0,17.6" stroke="#777" stroke-width="0.45"/><path d="M3.5,0.8 C4.7,0.8 5.4,3.2 6.0,5.6 C6.6,8.2 6.7,11.5 6.55,13.5 C6.35,15.2 5.6,16.3 4.8,16.6 L2.2,16.6 C1.4,16.3 0.65,15.2 0.45,13.5 C0.3,11.5 0.4,8.2 1.0,5.6 C1.6,3.2 2.3,0.8 3.5,0.8 Z" fill="url(#gm)"/><g clip-path="url(#cm)" fill="#8a8a8a" opacity="0.45"><ellipse cx="3.89" cy="11.66" rx="1.03" ry="0.79"/><ellipse cx="4.83" cy="14.79" rx="0.59" ry="1.29"/><ellipse cx="3.54" cy="7.62" rx="0.72" ry="1.38"/></g><ellipse cx="3" cy="6.5" rx="1.6" ry="1.7" fill="#6608f0"/><ellipse cx="4.6" cy="10.5" rx="2.0" ry="2.2" fill="#6608f0"/><ellipse cx="2.5" cy="14" rx="1.6" ry="1.2" fill="#6608f0"/></g>
<g transform="translate(158.00,131.40) scale(1.0571,1.0000)"><rect width="7" height="18" fill="#242424"/><path d="M1.6,16.2 L1.0,17.6 M2.6,16.4 L2.4,17.7 M4.4,16.4 L4.6,17.7 M5.4,16.2 L6.0,17.6" stroke="#777" stroke-width="0.45"/><path d="M3.5,0.8 C4.7,0.8 5.4,3.2 6.0,5.6 C6.6,8.2 6.7,11.5 6.55,13.5 C6.35,15.2 5.6,16.3 4.8,16.6 L2.2,16.6 C1.4,16.3 0.65,15.2 0.45,13.5 C0.3,11.5 0.4,8.2 1.0,5.6 C1.6,3.2 2.3,0.8 3.5,0.8 Z" fill="url(#gm)"/><g clip-path="url(#cm)" fill="#8a8a8a" opacity="0.45"><ellipse cx="3.76" cy="9.78" rx="0.50" ry="0.77"/><ellipse cx="5.72" cy="10.83" rx="0.84" ry="1.42"/><ellipse cx="3.25" cy="14.19" rx="0.94" ry="1.44"/></g><ellipse cx="3.2" cy="8" rx="2.0" ry="1.8" fill="#6608f0"/><ellipse cx="2" cy="14" rx="1.8" ry="1.4" fill="#6608f0"/><ellipse cx="5.4" cy="12.5" rx="1.2" ry="1.2" fill="#6608f0"/></g>
<g transform="translate(124.00,151.50) scale(1.0571,1.0000)"><rect width="7" height="18" fill="#242424"/><path d="M1.6,16.2 L1.0,17.6 M2.6,16.4 L2.4,17.7 M4.4,16.4 L4.6,17.7 M5.4,16.2 L6.0,17.6" stroke="#777" stroke-width="0.45"/><path d="M3.5,0.8 C4.7,0.8 5.4,3.2 6.0,5.6 C6.6,8.2 6.7,11.5 6.55,13.5 C6.35,15.2 5.6,16.3 4.8,16.6 L2.2,16.6 C1.4,16.3 0.65,15.2 0.45,13.5 C0.3,11.5 0.4,8.2 1.0,5.6 C1.6,3.2 2.3,0.8 3.5,0.8 Z" fill="url(#gm)"/><g clip-path="url(#cm)" fill="#8a8a8a" opacity="0.45"><ellipse cx="2.59" cy="14.06" rx="1.01" ry="1.48"/><ellipse cx="3.33" cy="8.57" rx="0.98" ry="0.68"/><ellipse cx="2.15" cy="4.69" rx="0.90" ry="0.90"/></g><ellipse cx="3.5" cy="10.5" rx="3.3" ry="5.5" fill="#6608f0"/><ellipse cx="3.5" cy="9.5" rx="1.2" ry="0.7" fill="#eee"/></g>
<g transform="translate(132.50,151.50) scale(1.0571,1.0000)"><rect width="7" height="18" fill="#242424"/><path d="M1.6,16.2 L1.0,17.6 M2.6,16.4 L2.4,17.7 M4.4,16.4 L4.6,17.7 M5.4,16.2 L6.0,17.6" stroke="#777" stroke-width="0.45"/><path d="M3.5,0.8 C4.7,0.8 5.4,3.2 6.0,5.6 C6.6,8.2 6.7,11.5 6.55,13.5 C6.35,15.2 5.6,16.3 4.8,16.6 L2.2,16.6 C1.4,16.3 0.65,15.2 0.45,13.5 C0.3,11.5 0.4,8.2 1.0,5.6 C1.6,3.2 2.3,0.8 3.5,0.8 Z" fill="url(#gm)"/><g clip-path="url(#cm)" fill="#8a8a8a" opacity="0.45"><ellipse cx="2.27" cy="5.03" rx="1.05" ry="0.72"/><ellipse cx="1.70" cy="9.47" rx="0.85" ry="0.84"/><ellipse cx="1.70" cy="11.38" rx="0.56" ry="1.58"/></g><ellipse cx="3.5" cy="6" rx="1.7" ry="2.3" fill="#6608f0"/><ellipse cx="3.5" cy="13.2" rx="3.0" ry="2.8" fill="#6608f0"/></g>
<g transform="translate(141.00,151.50) scale(1.0571,1.0000)"><rect width="7" height="18" fill="#242424"/><path d="M1.6,16.2 L1.0,17.6 M2.6,16.4 L2.4,17.7 M4.4,16.4 L4.6,17.7 M5.4,16.2 L6.0,17.6" stroke="#777" stroke-width="0.45"/><path d="M3.5,0.8 C4.7,0.8 5.4,3.2 6.0,5.6 C6.6,8.2 6.7,11.5 6.55,13.5 C6.35,15.2 5.6,16.3 4.8,16.6 L2.2,16.6 C1.4,16.3 0.65,15.2 0.45,13.5 C0.3,11.5 0.4,8.2 1.0,5.6 C1.6,3.2 2.3,0.8 3.5,0.8 Z" fill="url(#gm)"/><g clip-path="url(#cm)" fill="#8a8a8a" opacity="0.45"><ellipse cx="3.87" cy="5.98" rx="0.63" ry="0.94"/><ellipse cx="1.88" cy="4.22" rx="1.04" ry="0.62"/><ellipse cx="1.26" cy="14.88" rx="0.58" ry="1.33"/></g><ellipse cx="3.5" cy="9.5" rx="3.4" ry="7.2" fill="#6608f0"/><ellipse cx="3.2" cy="9.8" rx="0.9" ry="0.8" fill="#f0f0f0"/></g>
<g transform="translate(149.50,151.50) scale(1.0571,1.0000)"><rect width="7" height="18" fill="#242424"/><path d="M1.6,16.2 L1.0,17.6 M2.6,16.4 L2.4,17.7 M4.4,16.4 L4.6,17.7 M5.4,16.2 L6.0,17.6" stroke="#777" stroke-width="0.45"/><path d="M3.5,0.8 C4.7,0.8 5.4,3.2 6.0,5.6 C6.6,8.2 6.7,11.5 6.55,13.5 C6.35,15.2 5.6,16.3 4.8,16.6 L2.2,16.6 C1.4,16.3 0.65,15.2 0.45,13.5 C0.3,11.5 0.4,8.2 1.0,5.6 C1.6,3.2 2.3,0.8 3.5,0.8 Z" fill="url(#gm)"/><g clip-path="url(#cm)" fill="#8a8a8a" opacity="0.45"><ellipse cx="4.39" cy="6.58" rx="0.52" ry="0.68"/><ellipse cx="5.56" cy="10.30" rx="1.06" ry="1.05"/><ellipse cx="3.80" cy="4.27" rx="0.89" ry="1.55"/></g><ellipse cx="3.5" cy="9.5" rx="3.45" ry="7.8" fill="#6608f0"/></g>
<g transform="translate(158.00,151.50) scale(1.0571,1.0000)"><rect width="7" height="18" fill="#242424"/><path d="M1.6,16.2 L1.0,17.6 M2.6,16.4 L2.4,17.7 M4.4,16.4 L4.6,17.7 M5.4,16.2 L6.0,17.6" stroke="#777" stroke-width="0.45"/><path d="M3.5,0.8 C4.7,0.8 5.4,3.2 6.0,5.6 C6.6,8.2 6.7,11.5 6.55,13.5 C6.35,15.2 5.6,16.3 4.8,16.6 L2.2,16.6 C1.4,16.3 0.65,15.2 0.45,13.5 C0.3,11.5 0.4,8.2 1.0,5.6 C1.6,3.2 2.3,0.8 3.5,0.8 Z" fill="url(#gm)"/><g clip-path="url(#cm)" fill="#8a8a8a" opacity="0.45"><ellipse cx="3.98" cy="11.67" rx="0.81" ry="0.97"/><ellipse cx="1.26" cy="3.13" rx="0.55" ry="1.54"/><ellipse cx="5.54" cy="9.96" rx="1.00" ry="0.67"/></g><ellipse cx="3.5" cy="9.5" rx="3.3" ry="7.0" fill="#6608f0"/></g>
<g transform="translate(124.00,171.40) scale(1.0571,1.0000)"><rect width="7" height="18" fill="#242424"/><path d="M1.6,16.2 L1.0,17.6 M2.6,16.4 L2.4,17.7 M4.4,16.4 L4.6,17.7 M5.4,16.2 L6.0,17.6" stroke="#777" stroke-width="0.45"/><path d="M3.5,0.8 C4.7,0.8 5.4,3.2 6.0,5.6 C6.6,8.2 6.7,11.5 6.55,13.5 C6.35,15.2 5.6,16.3 4.8,16.6 L2.2,16.6 C1.4,16.3 0.65,15.2 0.45,13.5 C0.3,11.5 0.4,8.2 1.0,5.6 C1.6,3.2 2.3,0.8 3.5,0.8 Z" fill="url(#gm)"/><g clip-path="url(#cm)" fill="#8a8a8a" opacity="0.45"><ellipse cx="4.70" cy="8.23" rx="0.65" ry="1.13"/><ellipse cx="4.28" cy="7.80" rx="0.81" ry="1.02"/><ellipse cx="4.69" cy="9.61" rx="0.61" ry="1.27"/></g><ellipse cx="3.5" cy="5.5" rx="1.7" ry="2.2" fill="#6608f0"/><ellipse cx="2.2" cy="14" rx="1.9" ry="1.8" fill="#6608f0"/></g>
<g transform="translate(132.50,171.40) scale(1.0571,1.0000)"><rect width="7" height="18" fill="#242424"/><path d="M1.6,16.2 L1.0,17.6 M2.6,16.4 L2.4,17.7 M4.4,16.4 L4.6,17.7 M5.4,16.2 L6.0,17.6" stroke="#777" stroke-width="0.45"/><path d="M3.5,0.8 C4.7,0.8 5.4,3.2 6.0,5.6 C6.6,8.2 6.7,11.5 6.55,13.5 C6.35,15.2 5.6,16.3 4.8,16.6 L2.2,16.6 C1.4,16.3 0.65,15.2 0.45,13.5 C0.3,11.5 0.4,8.2 1.0,5.6 C1.6,3.2 2.3,0.8 3.5,0.8 Z" fill="url(#gm)"/><g clip-path="url(#cm)" fill="#8a8a8a" opacity="0.45"><ellipse cx="4.60" cy="14.90" rx="0.73" ry="1.08"/><ellipse cx="5.09" cy="6.58" rx="0.62" ry="0.65"/><ellipse cx="2.81" cy="9.05" rx="0.66" ry="1.04"/></g><ellipse cx="3.5" cy="9.5" rx="3.2" ry="7.0" fill="#6608f0"/></g>
<g transform="translate(141.00,171.40) scale(1.0571,1.0000)"><rect width="7" height="18" fill="#242424"/><path d="M1.6,16.2 L1.0,17.6 M2.6,16.4 L2.4,17.7 M4.4,16.4 L4.6,17.7 M5.4,16.2 L6.0,17.6" stroke="#777" stroke-width="0.45"/><path d="M3.5,0.8 C4.7,0.8 5.4,3.2 6.0,5.6 C6.6,8.2 6.7,11.5 6.55,13.5 C6.35,15.2 5.6,16.3 4.8,16.6 L2.2,16.6 C1.4,16.3 0.65,15.2 0.45,13.5 C0.3,11.5 0.4,8.2 1.0,5.6 C1.6,3.2 2.3,0.8 3.5,0.8 Z" fill="url(#gm)"/><g clip-path="url(#cm)" fill="#8a8a8a" opacity="0.45"><ellipse cx="5.41" cy="12.54" rx="0.57" ry="0.79"/><ellipse cx="5.79" cy="3.58" rx="0.79" ry="0.79"/><ellipse cx="4.26" cy="9.92" rx="0.52" ry="1.13"/></g><ellipse cx="3.3" cy="6.5" rx="1.9" ry="2.3" fill="#6608f0"/><ellipse cx="2.2" cy="13" rx="2.1" ry="2.2" fill="#6608f0"/></g>
<g transform="translate(149.50,171.40) scale(1.0571,1.0000)"><rect width="7" height="18" fill="#242424"/><path d="M1.6,16.2 L1.0,17.6 M2.6,16.4 L2.4,17.7 M4.4,16.4 L4.6,17.7 M5.4,16.2 L6.0,17.6" stroke="#777" stroke-width="0.45"/><path d="M3.5,0.8 C4.7,0.8 5.4,3.2 6.0,5.6 C6.6,8.2 6.7,11.5 6.55,13.5 C6.35,15.2 5.6,16.3 4.8,16.6 L2.2,16.6 C1.4,16.3 0.65,15.2 0.45,13.5 C0.3,11.5 0.4,8.2 1.0,5.6 C1.6,3.2 2.3,0.8 3.5,0.8 Z" fill="url(#gm)"/><g clip-path="url(#cm)" fill="#8a8a8a" opacity="0.45"><ellipse cx="2.41" cy="12.99" rx="0.61" ry="1.06"/><ellipse cx="3.69" cy="9.67" rx="0.72" ry="1.48"/><ellipse cx="2.23" cy="4.42" rx="0.73" ry="0.89"/></g><ellipse cx="3.6" cy="7.5" rx="2.0" ry="2.2" fill="#6608f0"/><ellipse cx="4.6" cy="13.5" rx="2.1" ry="2.2" fill="#6608f0"/></g>
<g transform="translate(158.00,171.40) scale(1.0571,1.0000)"><rect width="7" height="18" fill="#242424"/><path d="M1.6,16.2 L1.0,17.6 M2.6,16.4 L2.4,17.7 M4.4,16.4 L4.6,17.7 M5.4,16.2 L6.0,17.6" stroke="#777" stroke-width="0.45"/><path d="M3.5,0.8 C4.7,0.8 5.4,3.2 6.0,5.6 C6.6,8.2 6.7,11.5 6.55,13.5 C6.35,15.2 5.6,16.3 4.8,16.6 L2.2,16.6 C1.4,16.3 0.65,15.2 0.45,13.5 C0.3,11.5 0.4,8.2 1.0,5.6 C1.6,3.2 2.3,0.8 3.5,0.8 Z" fill="url(#gm)"/><g clip-path="url(#cm)" fill="#8a8a8a" opacity="0.45"><ellipse cx="1.92" cy="10.13" rx="0.95" ry="0.70"/><ellipse cx="4.07" cy="7.08" rx="0.93" ry="0.79"/><ellipse cx="5.47" cy="11.59" rx="1.06" ry="1.30"/></g><ellipse cx="3.5" cy="9.5" rx="3.1" ry="5.5" fill="#6608f0"/><ellipse cx="3.5" cy="9" rx="1.0" ry="1.0" fill="#eee"/></g>
<g transform="translate(168.20,111.10) scale(1.0571,1.0000)"><rect width="7" height="18" fill="#242424"/><path d="M1.6,16.2 L1.0,17.6 M2.6,16.4 L2.4,17.7 M4.4,16.4 L4.6,17.7 M5.4,16.2 L6.0,17.6" stroke="#777" stroke-width="0.45"/><path d="M3.5,0.8 C4.7,0.8 5.4,3.2 6.0,5.6 C6.6,8.2 6.7,11.5 6.55,13.5 C6.35,15.2 5.6,16.3 4.8,16.6 L2.2,16.6 C1.4,16.3 0.65,15.2 0.45,13.5 C0.3,11.5 0.4,8.2 1.0,5.6 C1.6,3.2 2.3,0.8 3.5,0.8 Z" fill="url(#gm)"/><g clip-path="url(#cm)" fill="#8a8a8a" opacity="0.45"><ellipse cx="3.04" cy="13.05" rx="1.07" ry="0.99"/><ellipse cx="3.37" cy="12.43" rx="0.95" ry="1.17"/><ellipse cx="5.39" cy="6.63" rx="0.78" ry="1.28"/></g><ellipse cx="3.6" cy="7.0" rx="2.0" ry="2.6" fill="#6608f0"/><ellipse cx="2.3" cy="11.2" rx="1.4" ry="1.5" fill="#6608f0"/><ellipse cx="5.0" cy="12.6" rx="1.7" ry="1.7" fill="#6608f0"/></g>
<g transform="translate(176.70,111.10) scale(1.0571,1.0000)"><rect width="7" height="18" fill="#242424"/><path d="M1.6,16.2 L1.0,17.6 M2.6,16.4 L2.4,17.7 M4.4,16.4 L4.6,17.7 M5.4,16.2 L6.0,17.6" stroke="#777" stroke-width="0.45"/><path d="M3.5,0.8 C4.7,0.8 5.4,3.2 6.0,5.6 C6.6,8.2 6.7,11.5 6.55,13.5 C6.35,15.2 5.6,16.3 4.8,16.6 L2.2,16.6 C1.4,16.3 0.65,15.2 0.45,13.5 C0.3,11.5 0.4,8.2 1.0,5.6 C1.6,3.2 2.3,0.8 3.5,0.8 Z" fill="url(#gm)"/><g clip-path="url(#cm)" fill="#8a8a8a" opacity="0.45"><ellipse cx="1.48" cy="11.07" rx="0.84" ry="0.71"/><ellipse cx="3.71" cy="5.18" rx="0.99" ry="1.08"/><ellipse cx="3.88" cy="8.04" rx="0.99" ry="0.62"/></g><ellipse cx="3.2" cy="6.8" rx="1.6" ry="2.2" fill="#6608f0"/><ellipse cx="4.8" cy="10.3" rx="1.5" ry="1.5" fill="#6608f0"/><ellipse cx="2.0" cy="13" rx="1.7" ry="1.3" fill="#6608f0"/><ellipse cx="5.1" cy="14" rx="1.6" ry="1.1" fill="#6608f0"/></g>
<g transform="translate(185.20,111.10) scale(1.0571,1.0000)"><rect width="7" height="18" fill="#242424"/><path d="M1.6,16.2 L1.0,17.6 M2.6,16.4 L2.4,17.7 M4.4,16.4 L4.6,17.7 M5.4,16.2 L6.0,17.6" stroke="#777" stroke-width="0.45"/><path d="M3.5,0.8 C4.7,0.8 5.4,3.2 6.0,5.6 C6.6,8.2 6.7,11.5 6.55,13.5 C6.35,15.2 5.6,16.3 4.8,16.6 L2.2,16.6 C1.4,16.3 0.65,15.2 0.45,13.5 C0.3,11.5 0.4,8.2 1.0,5.6 C1.6,3.2 2.3,0.8 3.5,0.8 Z" fill="url(#gm)"/><g clip-path="url(#cm)" fill="#8a8a8a" opacity="0.45"><ellipse cx="4.13" cy="8.56" rx="0.90" ry="0.74"/><ellipse cx="1.76" cy="3.16" rx="0.72" ry="1.25"/><ellipse cx="5.21" cy="10.95" rx="0.97" ry="1.05"/></g><ellipse cx="3.6" cy="7.2" rx="1.9" ry="3.0" fill="#6608f0"/><ellipse cx="1.7" cy="12.8" rx="1.7" ry="1.4" fill="#6608f0"/><ellipse cx="5.2" cy="12.9" rx="1.7" ry="1.3" fill="#6608f0"/></g>
<g transform="translate(193.70,111.10) scale(1.0571,1.0000)"><rect width="7" height="18" fill="#242424"/><path d="M1.6,16.2 L1.0,17.6 M2.6,16.4 L2.4,17.7 M4.4,16.4 L4.6,17.7 M5.4,16.2 L6.0,17.6" stroke="#777" stroke-width="0.45"/><path d="M3.5,0.8 C4.7,0.8 5.4,3.2 6.0,5.6 C6.6,8.2 6.7,11.5 6.55,13.5 C6.35,15.2 5.6,16.3 4.8,16.6 L2.2,16.6 C1.4,16.3 0.65,15.2 0.45,13.5 C0.3,11.5 0.4,8.2 1.0,5.6 C1.6,3.2 2.3,0.8 3.5,0.8 Z" fill="url(#gm)"/><g clip-path="url(#cm)" fill="#8a8a8a" opacity="0.45"><ellipse cx="4.41" cy="12.58" rx="0.68" ry="1.16"/><ellipse cx="2.37" cy="6.84" rx="0.64" ry="0.91"/><ellipse cx="2.34" cy="10.33" rx="0.70" ry="1.42"/></g><ellipse cx="3.2" cy="6.8" rx="1.7" ry="2.6" fill="#6608f0"/><ellipse cx="4.6" cy="9.8" rx="1.3" ry="1.2" fill="#6608f0"/><ellipse cx="1.8" cy="13" rx="1.6" ry="1.3" fill="#6608f0"/><ellipse cx="5.4" cy="13" rx="1.5" ry="1.2" fill="#6608f0"/></g>
<g transform="translate(202.20,111.10) scale(1.0571,1.0000)"><rect width="7" height="18" fill="#242424"/><path d="M1.6,16.2 L1.0,17.6 M2.6,16.4 L2.4,17.7 M4.4,16.4 L4.6,17.7 M5.4,16.2 L6.0,17.6" stroke="#777" stroke-width="0.45"/><path d="M3.5,0.8 C4.7,0.8 5.4,3.2 6.0,5.6 C6.6,8.2 6.7,11.5 6.55,13.5 C6.35,15.2 5.6,16.3 4.8,16.6 L2.2,16.6 C1.4,16.3 0.65,15.2 0.45,13.5 C0.3,11.5 0.4,8.2 1.0,5.6 C1.6,3.2 2.3,0.8 3.5,0.8 Z" fill="url(#gm)"/><g clip-path="url(#cm)" fill="#8a8a8a" opacity="0.45"><ellipse cx="3.43" cy="8.06" rx="0.84" ry="1.00"/><ellipse cx="4.66" cy="8.81" rx="0.56" ry="1.16"/><ellipse cx="5.16" cy="10.31" rx="0.52" ry="1.17"/></g><ellipse cx="3.5" cy="6.2" rx="1.4" ry="1.9" fill="#6608f0"/><ellipse cx="2.0" cy="9.6" rx="1.5" ry="1.4" fill="#6608f0"/><ellipse cx="4.9" cy="11.6" rx="1.6" ry="1.3" fill="#6608f0"/><ellipse cx="2.2" cy="13.5" rx="1.5" ry="1.1" fill="#6608f0"/></g>
<g transform="translate(168.20,131.40) scale(1.0571,1.0000)"><rect width="7" height="18" fill="#242424"/><path d="M1.6,16.2 L1.0,17.6 M2.6,16.4 L2.4,17.7 M4.4,16.4 L4.6,17.7 M5.4,16.2 L6.0,17.6" stroke="#777" stroke-width="0.45"/><path d="M3.5,0.8 C4.7,0.8 5.4,3.2 6.0,5.6 C6.6,8.2 6.7,11.5 6.55,13.5 C6.35,15.2 5.6,16.3 4.8,16.6 L2.2,16.6 C1.4,16.3 0.65,15.2 0.45,13.5 C0.3,11.5 0.4,8.2 1.0,5.6 C1.6,3.2 2.3,0.8 3.5,0.8 Z" fill="url(#gm)"/><g clip-path="url(#cm)" fill="#8a8a8a" opacity="0.45"><ellipse cx="1.47" cy="13.05" rx="1.06" ry="0.92"/><ellipse cx="2.09" cy="12.07" rx="0.95" ry="1.20"/><ellipse cx="3.44" cy="8.41" rx="0.62" ry="1.12"/></g></g>
<g transform="translate(176.70,131.40) scale(1.0571,1.0000)"><rect width="7" height="18" fill="#242424"/><path d="M1.6,16.2 L1.0,17.6 M2.6,16.4 L2.4,17.7 M4.4,16.4 L4.6,17.7 M5.4,16.2 L6.0,17.6" stroke="#777" stroke-width="0.45"/><path d="M3.5,0.8 C4.7,0.8 5.4,3.2 6.0,5.6 C6.6,8.2 6.7,11.5 6.55,13.5 C6.35,15.2 5.6,16.3 4.8,16.6 L2.2,16.6 C1.4,16.3 0.65,15.2 0.45,13.5 C0.3,11.5 0.4,8.2 1.0,5.6 C1.6,3.2 2.3,0.8 3.5,0.8 Z" fill="url(#gm)"/><g clip-path="url(#cm)" fill="#8a8a8a" opacity="0.45"><ellipse cx="4.62" cy="6.66" rx="1.06" ry="0.60"/><ellipse cx="3.77" cy="6.10" rx="0.79" ry="1.60"/><ellipse cx="2.33" cy="4.74" rx="0.97" ry="1.50"/></g></g>
<g transform="translate(185.20,131.40) scale(1.0571,1.0000)"><rect width="7" height="18" fill="#242424"/><path d="M1.6,16.2 L1.0,17.6 M2.6,16.4 L2.4,17.7 M4.4,16.4 L4.6,17.7 M5.4,16.2 L6.0,17.6" stroke="#777" stroke-width="0.45"/><path d="M3.5,0.8 C4.7,0.8 5.4,3.2 6.0,5.6 C6.6,8.2 6.7,11.5 6.55,13.5 C6.35,15.2 5.6,16.3 4.8,16.6 L2.2,16.6 C1.4,16.3 0.65,15.2 0.45,13.5 C0.3,11.5 0.4,8.2 1.0,5.6 C1.6,3.2 2.3,0.8 3.5,0.8 Z" fill="url(#gm)"/><g clip-path="url(#cm)" fill="#8a8a8a" opacity="0.45"><ellipse cx="3.48" cy="5.48" rx="0.55" ry="1.54"/><ellipse cx="4.25" cy="11.59" rx="0.55" ry="1.17"/><ellipse cx="1.38" cy="4.57" rx="0.74" ry="1.29"/></g></g>
<g transform="translate(193.70,131.40) scale(1.0571,1.0000)"><rect width="7" height="18" fill="#242424"/><path d="M1.6,16.2 L1.0,17.6 M2.6,16.4 L2.4,17.7 M4.4,16.4 L4.6,17.7 M5.4,16.2 L6.0,17.6" stroke="#777" stroke-width="0.45"/><path d="M3.5,0.8 C4.7,0.8 5.4,3.2 6.0,5.6 C6.6,8.2 6.7,11.5 6.55,13.5 C6.35,15.2 5.6,16.3 4.8,16.6 L2.2,16.6 C1.4,16.3 0.65,15.2 0.45,13.5 C0.3,11.5 0.4,8.2 1.0,5.6 C1.6,3.2 2.3,0.8 3.5,0.8 Z" fill="url(#gm)"/><g clip-path="url(#cm)" fill="#8a8a8a" opacity="0.45"><ellipse cx="3.89" cy="5.78" rx="0.60" ry="1.14"/><ellipse cx="2.43" cy="12.09" rx="0.54" ry="0.99"/><ellipse cx="4.52" cy="9.61" rx="0.67" ry="1.18"/></g></g>
<g transform="translate(202.20,131.40) scale(1.0571,1.0000)"><rect width="7" height="18" fill="#242424"/><path d="M1.6,16.2 L1.0,17.6 M2.6,16.4 L2.4,17.7 M4.4,16.4 L4.6,17.7 M5.4,16.2 L6.0,17.6" stroke="#777" stroke-width="0.45"/><path d="M3.5,0.8 C4.7,0.8 5.4,3.2 6.0,5.6 C6.6,8.2 6.7,11.5 6.55,13.5 C6.35,15.2 5.6,16.3 4.8,16.6 L2.2,16.6 C1.4,16.3 0.65,15.2 0.45,13.5 C0.3,11.5 0.4,8.2 1.0,5.6 C1.6,3.2 2.3,0.8 3.5,0.8 Z" fill="url(#gm)"/><g clip-path="url(#cm)" fill="#8a8a8a" opacity="0.45"><ellipse cx="4.47" cy="8.74" rx="1.06" ry="1.49"/><ellipse cx="5.24" cy="3.08" rx="0.79" ry="1.42"/><ellipse cx="3.07" cy="4.91" rx="1.07" ry="1.20"/></g></g>
<g transform="translate(168.20,151.50) scale(1.0571,1.0000)"><rect width="7" height="18" fill="#242424"/><path d="M1.6,16.2 L1.0,17.6 M2.6,16.4 L2.4,17.7 M4.4,16.4 L4.6,17.7 M5.4,16.2 L6.0,17.6" stroke="#777" stroke-width="0.45"/><path d="M3.5,0.8 C4.7,0.8 5.4,3.2 6.0,5.6 C6.6,8.2 6.7,11.5 6.55,13.5 C6.35,15.2 5.6,16.3 4.8,16.6 L2.2,16.6 C1.4,16.3 0.65,15.2 0.45,13.5 C0.3,11.5 0.4,8.2 1.0,5.6 C1.6,3.2 2.3,0.8 3.5,0.8 Z" fill="url(#gm)"/><g clip-path="url(#cm)" fill="#8a8a8a" opacity="0.45"><ellipse cx="1.62" cy="10.47" rx="0.98" ry="1.35"/><ellipse cx="4.51" cy="4.61" rx="1.07" ry="1.57"/><ellipse cx="2.67" cy="3.12" rx="0.51" ry="1.04"/></g></g>
<g transform="translate(176.70,151.50) scale(1.0571,1.0000)"><rect width="7" height="18" fill="#242424"/><path d="M1.6,16.2 L1.0,17.6 M2.6,16.4 L2.4,17.7 M4.4,16.4 L4.6,17.7 M5.4,16.2 L6.0,17.6" stroke="#777" stroke-width="0.45"/><path d="M3.5,0.8 C4.7,0.8 5.4,3.2 6.0,5.6 C6.6,8.2 6.7,11.5 6.55,13.5 C6.35,15.2 5.6,16.3 4.8,16.6 L2.2,16.6 C1.4,16.3 0.65,15.2 0.45,13.5 C0.3,11.5 0.4,8.2 1.0,5.6 C1.6,3.2 2.3,0.8 3.5,0.8 Z" fill="url(#gm)"/><g clip-path="url(#cm)" fill="#8a8a8a" opacity="0.45"><ellipse cx="3.61" cy="4.43" rx="0.58" ry="0.67"/><ellipse cx="4.20" cy="12.46" rx="0.85" ry="0.77"/><ellipse cx="4.62" cy="14.18" rx="0.82" ry="1.58"/></g></g>
<g transform="translate(185.20,151.50) scale(1.0571,1.0000)"><rect width="7" height="18" fill="#242424"/><path d="M1.6,16.2 L1.0,17.6 M2.6,16.4 L2.4,17.7 M4.4,16.4 L4.6,17.7 M5.4,16.2 L6.0,17.6" stroke="#777" stroke-width="0.45"/><path d="M3.5,0.8 C4.7,0.8 5.4,3.2 6.0,5.6 C6.6,8.2 6.7,11.5 6.55,13.5 C6.35,15.2 5.6,16.3 4.8,16.6 L2.2,16.6 C1.4,16.3 0.65,15.2 0.45,13.5 C0.3,11.5 0.4,8.2 1.0,5.6 C1.6,3.2 2.3,0.8 3.5,0.8 Z" fill="url(#gm)"/><g clip-path="url(#cm)" fill="#8a8a8a" opacity="0.45"><ellipse cx="4.45" cy="4.23" rx="0.85" ry="1.03"/><ellipse cx="5.24" cy="14.51" rx="0.96" ry="0.94"/><ellipse cx="4.40" cy="3.43" rx="0.78" ry="1.29"/></g></g>
<g transform="translate(193.70,151.50) scale(1.0571,1.0000)"><rect width="7" height="18" fill="#242424"/><path d="M1.6,16.2 L1.0,17.6 M2.6,16.4 L2.4,17.7 M4.4,16.4 L4.6,17.7 M5.4,16.2 L6.0,17.6" stroke="#777" stroke-width="0.45"/><path d="M3.5,0.8 C4.7,0.8 5.4,3.2 6.0,5.6 C6.6,8.2 6.7,11.5 6.55,13.5 C6.35,15.2 5.6,16.3 4.8,16.6 L2.2,16.6 C1.4,16.3 0.65,15.2 0.45,13.5 C0.3,11.5 0.4,8.2 1.0,5.6 C1.6,3.2 2.3,0.8 3.5,0.8 Z" fill="url(#gm)"/><g clip-path="url(#cm)" fill="#8a8a8a" opacity="0.45"><ellipse cx="4.63" cy="4.50" rx="1.01" ry="1.46"/><ellipse cx="1.81" cy="14.39" rx="0.73" ry="1.18"/><ellipse cx="2.18" cy="11.32" rx="0.99" ry="1.29"/></g></g>
<g transform="translate(202.20,151.50) scale(1.0571,1.0000)"><rect width="7" height="18" fill="#242424"/><path d="M1.6,16.2 L1.0,17.6 M2.6,16.4 L2.4,17.7 M4.4,16.4 L4.6,17.7 M5.4,16.2 L6.0,17.6" stroke="#777" stroke-width="0.45"/><path d="M3.5,0.8 C4.7,0.8 5.4,3.2 6.0,5.6 C6.6,8.2 6.7,11.5 6.55,13.5 C6.35,15.2 5.6,16.3 4.8,16.6 L2.2,16.6 C1.4,16.3 0.65,15.2 0.45,13.5 C0.3,11.5 0.4,8.2 1.0,5.6 C1.6,3.2 2.3,0.8 3.5,0.8 Z" fill="url(#gm)"/><g clip-path="url(#cm)" fill="#8a8a8a" opacity="0.45"><ellipse cx="1.62" cy="4.94" rx="0.81" ry="1.04"/><ellipse cx="4.13" cy="10.52" rx="1.06" ry="1.24"/><ellipse cx="3.45" cy="8.07" rx="0.83" ry="0.84"/></g></g>
<g transform="translate(168.20,171.40) scale(1.0571,1.0000)"><rect width="7" height="18" fill="#242424"/><path d="M1.6,16.2 L1.0,17.6 M2.6,16.4 L2.4,17.7 M4.4,16.4 L4.6,17.7 M5.4,16.2 L6.0,17.6" stroke="#777" stroke-width="0.45"/><path d="M3.5,0.8 C4.7,0.8 5.4,3.2 6.0,5.6 C6.6,8.2 6.7,11.5 6.55,13.5 C6.35,15.2 5.6,16.3 4.8,16.6 L2.2,16.6 C1.4,16.3 0.65,15.2 0.45,13.5 C0.3,11.5 0.4,8.2 1.0,5.6 C1.6,3.2 2.3,0.8 3.5,0.8 Z" fill="url(#gm)"/><g clip-path="url(#cm)" fill="#8a8a8a" opacity="0.45"><ellipse cx="2.02" cy="14.35" rx="0.78" ry="0.90"/><ellipse cx="2.64" cy="10.33" rx="0.87" ry="0.86"/><ellipse cx="5.35" cy="4.89" rx="0.91" ry="1.41"/></g></g>
<g transform="translate(176.70,171.40) scale(1.0571,1.0000)"><rect width="7" height="18" fill="#242424"/><path d="M1.6,16.2 L1.0,17.6 M2.6,16.4 L2.4,17.7 M4.4,16.4 L4.6,17.7 M5.4,16.2 L6.0,17.6" stroke="#777" stroke-width="0.45"/><path d="M3.5,0.8 C4.7,0.8 5.4,3.2 6.0,5.6 C6.6,8.2 6.7,11.5 6.55,13.5 C6.35,15.2 5.6,16.3 4.8,16.6 L2.2,16.6 C1.4,16.3 0.65,15.2 0.45,13.5 C0.3,11.5 0.4,8.2 1.0,5.6 C1.6,3.2 2.3,0.8 3.5,0.8 Z" fill="url(#gm)"/><g clip-path="url(#cm)" fill="#8a8a8a" opacity="0.45"><ellipse cx="2.08" cy="8.94" rx="0.76" ry="0.96"/><ellipse cx="1.90" cy="11.52" rx="0.91" ry="0.99"/><ellipse cx="1.20" cy="6.84" rx="0.62" ry="0.95"/></g></g>
<g transform="translate(185.20,171.40) scale(1.0571,1.0000)"><rect width="7" height="18" fill="#242424"/><path d="M1.6,16.2 L1.0,17.6 M2.6,16.4 L2.4,17.7 M4.4,16.4 L4.6,17.7 M5.4,16.2 L6.0,17.6" stroke="#777" stroke-width="0.45"/><path d="M3.5,0.8 C4.7,0.8 5.4,3.2 6.0,5.6 C6.6,8.2 6.7,11.5 6.55,13.5 C6.35,15.2 5.6,16.3 4.8,16.6 L2.2,16.6 C1.4,16.3 0.65,15.2 0.45,13.5 C0.3,11.5 0.4,8.2 1.0,5.6 C1.6,3.2 2.3,0.8 3.5,0.8 Z" fill="url(#gm)"/><g clip-path="url(#cm)" fill="#8a8a8a" opacity="0.45"><ellipse cx="4.15" cy="11.06" rx="1.01" ry="1.37"/><ellipse cx="1.42" cy="9.09" rx="0.60" ry="1.38"/><ellipse cx="5.03" cy="11.85" rx="0.98" ry="1.30"/></g></g>
<g transform="translate(193.70,171.40) scale(1.0571,1.0000)"><rect width="7" height="18" fill="#242424"/><path d="M1.6,16.2 L1.0,17.6 M2.6,16.4 L2.4,17.7 M4.4,16.4 L4.6,17.7 M5.4,16.2 L6.0,17.6" stroke="#777" stroke-width="0.45"/><path d="M3.5,0.8 C4.7,0.8 5.4,3.2 6.0,5.6 C6.6,8.2 6.7,11.5 6.55,13.5 C6.35,15.2 5.6,16.3 4.8,16.6 L2.2,16.6 C1.4,16.3 0.65,15.2 0.45,13.5 C0.3,11.5 0.4,8.2 1.0,5.6 C1.6,3.2 2.3,0.8 3.5,0.8 Z" fill="url(#gm)"/><g clip-path="url(#cm)" fill="#8a8a8a" opacity="0.45"><ellipse cx="4.44" cy="5.33" rx="1.01" ry="1.53"/><ellipse cx="5.30" cy="8.69" rx="1.02" ry="1.59"/><ellipse cx="1.88" cy="10.98" rx="0.96" ry="0.74"/></g></g>
<g transform="translate(202.20,171.40) scale(1.0571,1.0000)"><rect width="7" height="18" fill="#242424"/><path d="M1.6,16.2 L1.0,17.6 M2.6,16.4 L2.4,17.7 M4.4,16.4 L4.6,17.7 M5.4,16.2 L6.0,17.6" stroke="#777" stroke-width="0.45"/><path d="M3.5,0.8 C4.7,0.8 5.4,3.2 6.0,5.6 C6.6,8.2 6.7,11.5 6.55,13.5 C6.35,15.2 5.6,16.3 4.8,16.6 L2.2,16.6 C1.4,16.3 0.65,15.2 0.45,13.5 C0.3,11.5 0.4,8.2 1.0,5.6 C1.6,3.2 2.3,0.8 3.5,0.8 Z" fill="url(#gm)"/><g clip-path="url(#cm)" fill="#8a8a8a" opacity="0.45"><ellipse cx="4.10" cy="11.57" rx="0.55" ry="1.19"/><ellipse cx="4.20" cy="8.79" rx="0.57" ry="1.25"/><ellipse cx="4.50" cy="9.31" rx="0.62" ry="0.74"/></g></g>
<g transform="translate(212.90,111.10) scale(1.0571,1.0000)"><rect width="7" height="18" fill="#242424"/><path d="M1.6,16.2 L1.0,17.6 M2.6,16.4 L2.4,17.7 M4.4,16.4 L4.6,17.7 M5.4,16.2 L6.0,17.6" stroke="#777" stroke-width="0.45"/><path d="M3.5,0.8 C4.7,0.8 5.4,3.2 6.0,5.6 C6.6,8.2 6.7,11.5 6.55,13.5 C6.35,15.2 5.6,16.3 4.8,16.6 L2.2,16.6 C1.4,16.3 0.65,15.2 0.45,13.5 C0.3,11.5 0.4,8.2 1.0,5.6 C1.6,3.2 2.3,0.8 3.5,0.8 Z" fill="url(#gm)"/><g clip-path="url(#cm)" fill="#8a8a8a" opacity="0.45"><ellipse cx="2.94" cy="13.12" rx="0.94" ry="0.67"/><ellipse cx="5.77" cy="9.32" rx="1.04" ry="1.51"/><ellipse cx="5.52" cy="11.72" rx="0.99" ry="1.39"/></g><ellipse cx="3.2" cy="6.8" rx="1.6" ry="2.2" fill="#6608f0"/><ellipse cx="4.8" cy="10.3" rx="1.5" ry="1.5" fill="#6608f0"/><ellipse cx="2.0" cy="13" rx="1.7" ry="1.3" fill="#6608f0"/><ellipse cx="5.1" cy="14" rx="1.6" ry="1.1" fill="#6608f0"/></g>
<g transform="translate(221.40,111.10) scale(1.0571,1.0000)"><rect width="7" height="18" fill="#242424"/><path d="M1.6,16.2 L1.0,17.6 M2.6,16.4 L2.4,17.7 M4.4,16.4 L4.6,17.7 M5.4,16.2 L6.0,17.6" stroke="#777" stroke-width="0.45"/><path d="M3.5,0.8 C4.7,0.8 5.4,3.2 6.0,5.6 C6.6,8.2 6.7,11.5 6.55,13.5 C6.35,15.2 5.6,16.3 4.8,16.6 L2.2,16.6 C1.4,16.3 0.65,15.2 0.45,13.5 C0.3,11.5 0.4,8.2 1.0,5.6 C1.6,3.2 2.3,0.8 3.5,0.8 Z" fill="url(#gm)"/><g clip-path="url(#cm)" fill="#8a8a8a" opacity="0.45"><ellipse cx="3.84" cy="6.81" rx="1.06" ry="0.79"/><ellipse cx="3.35" cy="9.97" rx="0.78" ry="0.66"/><ellipse cx="4.04" cy="11.89" rx="0.67" ry="1.10"/></g><ellipse cx="3.6" cy="7.2" rx="1.9" ry="3.0" fill="#6608f0"/><ellipse cx="1.7" cy="12.8" rx="1.7" ry="1.4" fill="#6608f0"/><ellipse cx="5.2" cy="12.9" rx="1.7" ry="1.3" fill="#6608f0"/></g>
<g transform="translate(229.90,111.10) scale(1.0571,1.0000)"><rect width="7" height="18" fill="#242424"/><path d="M1.6,16.2 L1.0,17.6 M2.6,16.4 L2.4,17.7 M4.4,16.4 L4.6,17.7 M5.4,16.2 L6.0,17.6" stroke="#777" stroke-width="0.45"/><path d="M3.5,0.8 C4.7,0.8 5.4,3.2 6.0,5.6 C6.6,8.2 6.7,11.5 6.55,13.5 C6.35,15.2 5.6,16.3 4.8,16.6 L2.2,16.6 C1.4,16.3 0.65,15.2 0.45,13.5 C0.3,11.5 0.4,8.2 1.0,5.6 C1.6,3.2 2.3,0.8 3.5,0.8 Z" fill="url(#gm)"/><g clip-path="url(#cm)" fill="#8a8a8a" opacity="0.45"><ellipse cx="3.35" cy="8.80" rx="1.04" ry="0.62"/><ellipse cx="4.00" cy="7.72" rx="1.01" ry="0.67"/><ellipse cx="2.26" cy="13.11" rx="0.84" ry="1.34"/></g><ellipse cx="3.2" cy="6.8" rx="1.7" ry="2.6" fill="#6608f0"/><ellipse cx="4.6" cy="9.8" rx="1.3" ry="1.2" fill="#6608f0"/><ellipse cx="1.8" cy="13" rx="1.6" ry="1.3" fill="#6608f0"/><ellipse cx="5.4" cy="13" rx="1.5" ry="1.2" fill="#6608f0"/></g>
<g transform="translate(238.40,111.10) scale(1.0571,1.0000)"><rect width="7" height="18" fill="#242424"/><path d="M1.6,16.2 L1.0,17.6 M2.6,16.4 L2.4,17.7 M4.4,16.4 L4.6,17.7 M5.4,16.2 L6.0,17.6" stroke="#777" stroke-width="0.45"/><path d="M3.5,0.8 C4.7,0.8 5.4,3.2 6.0,5.6 C6.6,8.2 6.7,11.5 6.55,13.5 C6.35,15.2 5.6,16.3 4.8,16.6 L2.2,16.6 C1.4,16.3 0.65,15.2 0.45,13.5 C0.3,11.5 0.4,8.2 1.0,5.6 C1.6,3.2 2.3,0.8 3.5,0.8 Z" fill="url(#gm)"/><g clip-path="url(#cm)" fill="#8a8a8a" opacity="0.45"><ellipse cx="1.37" cy="6.09" rx="0.79" ry="1.51"/><ellipse cx="2.29" cy="8.52" rx="0.89" ry="0.81"/><ellipse cx="2.58" cy="12.36" rx="0.94" ry="1.07"/></g><ellipse cx="3.5" cy="6.2" rx="1.4" ry="1.9" fill="#6608f0"/><ellipse cx="2.0" cy="9.6" rx="1.5" ry="1.4" fill="#6608f0"/><ellipse cx="4.9" cy="11.6" rx="1.6" ry="1.3" fill="#6608f0"/><ellipse cx="2.2" cy="13.5" rx="1.5" ry="1.1" fill="#6608f0"/></g>
<g transform="translate(246.90,111.10) scale(1.0571,1.0000)"><rect width="7" height="18" fill="#242424"/><path d="M1.6,16.2 L1.0,17.6 M2.6,16.4 L2.4,17.7 M4.4,16.4 L4.6,17.7 M5.4,16.2 L6.0,17.6" stroke="#777" stroke-width="0.45"/><path d="M3.5,0.8 C4.7,0.8 5.4,3.2 6.0,5.6 C6.6,8.2 6.7,11.5 6.55,13.5 C6.35,15.2 5.6,16.3 4.8,16.6 L2.2,16.6 C1.4,16.3 0.65,15.2 0.45,13.5 C0.3,11.5 0.4,8.2 1.0,5.6 C1.6,3.2 2.3,0.8 3.5,0.8 Z" fill="url(#gm)"/><g clip-path="url(#cm)" fill="#8a8a8a" opacity="0.45"><ellipse cx="4.60" cy="13.92" rx="0.79" ry="1.52"/><ellipse cx="4.07" cy="14.96" rx="0.89" ry="1.02"/><ellipse cx="4.30" cy="3.43" rx="1.07" ry="1.27"/></g><ellipse cx="3.6" cy="7.0" rx="2.0" ry="2.6" fill="#6608f0"/><ellipse cx="2.3" cy="11.2" rx="1.4" ry="1.5" fill="#6608f0"/><ellipse cx="5.0" cy="12.6" rx="1.7" ry="1.7" fill="#6608f0"/></g>
<g transform="translate(212.90,131.40) scale(1.0571,1.0000)"><rect width="7" height="18" fill="#242424"/><path d="M1.6,16.2 L1.0,17.6 M2.6,16.4 L2.4,17.7 M4.4,16.4 L4.6,17.7 M5.4,16.2 L6.0,17.6" stroke="#777" stroke-width="0.45"/><path d="M3.5,0.8 C4.7,0.8 5.4,3.2 6.0,5.6 C6.6,8.2 6.7,11.5 6.55,13.5 C6.35,15.2 5.6,16.3 4.8,16.6 L2.2,16.6 C1.4,16.3 0.65,15.2 0.45,13.5 C0.3,11.5 0.4,8.2 1.0,5.6 C1.6,3.2 2.3,0.8 3.5,0.8 Z" fill="url(#gm)"/><g clip-path="url(#cm)" fill="#8a8a8a" opacity="0.45"><ellipse cx="4.01" cy="3.36" rx="0.89" ry="0.85"/><ellipse cx="3.67" cy="4.86" rx="0.67" ry="1.50"/><ellipse cx="3.80" cy="3.32" rx="0.89" ry="0.90"/></g></g>
<g transform="translate(221.40,131.40) scale(1.0571,1.0000)"><rect width="7" height="18" fill="#242424"/><path d="M1.6,16.2 L1.0,17.6 M2.6,16.4 L2.4,17.7 M4.4,16.4 L4.6,17.7 M5.4,16.2 L6.0,17.6" stroke="#777" stroke-width="0.45"/><path d="M3.5,0.8 C4.7,0.8 5.4,3.2 6.0,5.6 C6.6,8.2 6.7,11.5 6.55,13.5 C6.35,15.2 5.6,16.3 4.8,16.6 L2.2,16.6 C1.4,16.3 0.65,15.2 0.45,13.5 C0.3,11.5 0.4,8.2 1.0,5.6 C1.6,3.2 2.3,0.8 3.5,0.8 Z" fill="url(#gm)"/><g clip-path="url(#cm)" fill="#8a8a8a" opacity="0.45"><ellipse cx="2.03" cy="12.71" rx="0.95" ry="1.29"/><ellipse cx="4.33" cy="10.81" rx="0.79" ry="1.59"/><ellipse cx="5.65" cy="10.70" rx="0.86" ry="1.38"/></g></g>
<g transform="translate(229.90,131.40) scale(1.0571,1.0000)"><rect width="7" height="18" fill="#242424"/><path d="M1.6,16.2 L1.0,17.6 M2.6,16.4 L2.4,17.7 M4.4,16.4 L4.6,17.7 M5.4,16.2 L6.0,17.6" stroke="#777" stroke-width="0.45"/><path d="M3.5,0.8 C4.7,0.8 5.4,3.2 6.0,5.6 C6.6,8.2 6.7,11.5 6.55,13.5 C6.35,15.2 5.6,16.3 4.8,16.6 L2.2,16.6 C1.4,16.3 0.65,15.2 0.45,13.5 C0.3,11.5 0.4,8.2 1.0,5.6 C1.6,3.2 2.3,0.8 3.5,0.8 Z" fill="url(#gm)"/><g clip-path="url(#cm)" fill="#8a8a8a" opacity="0.45"><ellipse cx="4.25" cy="10.31" rx="0.62" ry="1.33"/><ellipse cx="2.22" cy="5.93" rx="0.57" ry="1.32"/><ellipse cx="2.81" cy="14.77" rx="1.01" ry="1.49"/></g></g>
<g transform="translate(238.40,131.40) scale(1.0571,1.0000)"><rect width="7" height="18" fill="#242424"/><path d="M1.6,16.2 L1.0,17.6 M2.6,16.4 L2.4,17.7 M4.4,16.4 L4.6,17.7 M5.4,16.2 L6.0,17.6" stroke="#777" stroke-width="0.45"/><path d="M3.5,0.8 C4.7,0.8 5.4,3.2 6.0,5.6 C6.6,8.2 6.7,11.5 6.55,13.5 C6.35,15.2 5.6,16.3 4.8,16.6 L2.2,16.6 C1.4,16.3 0.65,15.2 0.45,13.5 C0.3,11.5 0.4,8.2 1.0,5.6 C1.6,3.2 2.3,0.8 3.5,0.8 Z" fill="url(#gm)"/><g clip-path="url(#cm)" fill="#8a8a8a" opacity="0.45"><ellipse cx="4.11" cy="12.07" rx="0.78" ry="1.00"/><ellipse cx="1.27" cy="13.63" rx="0.75" ry="1.56"/><ellipse cx="1.57" cy="3.43" rx="1.08" ry="1.32"/></g></g>
<g transform="translate(246.90,131.40) scale(1.0571,1.0000)"><rect width="7" height="18" fill="#242424"/><path d="M1.6,16.2 L1.0,17.6 M2.6,16.4 L2.4,17.7 M4.4,16.4 L4.6,17.7 M5.4,16.2 L6.0,17.6" stroke="#777" stroke-width="0.45"/><path d="M3.5,0.8 C4.7,0.8 5.4,3.2 6.0,5.6 C6.6,8.2 6.7,11.5 6.55,13.5 C6.35,15.2 5.6,16.3 4.8,16.6 L2.2,16.6 C1.4,16.3 0.65,15.2 0.45,13.5 C0.3,11.5 0.4,8.2 1.0,5.6 C1.6,3.2 2.3,0.8 3.5,0.8 Z" fill="url(#gm)"/><g clip-path="url(#cm)" fill="#8a8a8a" opacity="0.45"><ellipse cx="4.98" cy="10.37" rx="1.02" ry="1.42"/><ellipse cx="2.68" cy="6.92" rx="0.76" ry="1.47"/><ellipse cx="2.17" cy="7.50" rx="0.65" ry="0.72"/></g></g>
<g transform="translate(212.90,151.50) scale(1.0571,1.0000)"><rect width="7" height="18" fill="#242424"/><path d="M1.6,16.2 L1.0,17.6 M2.6,16.4 L2.4,17.7 M4.4,16.4 L4.6,17.7 M5.4,16.2 L6.0,17.6" stroke="#777" stroke-width="0.45"/><path d="M3.5,0.8 C4.7,0.8 5.4,3.2 6.0,5.6 C6.6,8.2 6.7,11.5 6.55,13.5 C6.35,15.2 5.6,16.3 4.8,16.6 L2.2,16.6 C1.4,16.3 0.65,15.2 0.45,13.5 C0.3,11.5 0.4,8.2 1.0,5.6 C1.6,3.2 2.3,0.8 3.5,0.8 Z" fill="url(#gm)"/><g clip-path="url(#cm)" fill="#8a8a8a" opacity="0.45"><ellipse cx="2.05" cy="11.38" rx="0.92" ry="0.80"/><ellipse cx="1.50" cy="7.34" rx="0.55" ry="0.61"/><ellipse cx="4.61" cy="5.24" rx="0.53" ry="0.87"/></g></g>
<g transform="translate(221.40,151.50) scale(1.0571,1.0000)"><rect width="7" height="18" fill="#242424"/><path d="M1.6,16.2 L1.0,17.6 M2.6,16.4 L2.4,17.7 M4.4,16.4 L4.6,17.7 M5.4,16.2 L6.0,17.6" stroke="#777" stroke-width="0.45"/><path d="M3.5,0.8 C4.7,0.8 5.4,3.2 6.0,5.6 C6.6,8.2 6.7,11.5 6.55,13.5 C6.35,15.2 5.6,16.3 4.8,16.6 L2.2,16.6 C1.4,16.3 0.65,15.2 0.45,13.5 C0.3,11.5 0.4,8.2 1.0,5.6 C1.6,3.2 2.3,0.8 3.5,0.8 Z" fill="url(#gm)"/><g clip-path="url(#cm)" fill="#8a8a8a" opacity="0.45"><ellipse cx="5.16" cy="6.27" rx="1.01" ry="1.35"/><ellipse cx="4.13" cy="12.41" rx="0.90" ry="1.56"/><ellipse cx="4.04" cy="4.64" rx="0.58" ry="0.61"/></g></g>
<g transform="translate(229.90,151.50) scale(1.0571,1.0000)"><rect width="7" height="18" fill="#242424"/><path d="M1.6,16.2 L1.0,17.6 M2.6,16.4 L2.4,17.7 M4.4,16.4 L4.6,17.7 M5.4,16.2 L6.0,17.6" stroke="#777" stroke-width="0.45"/><path d="M3.5,0.8 C4.7,0.8 5.4,3.2 6.0,5.6 C6.6,8.2 6.7,11.5 6.55,13.5 C6.35,15.2 5.6,16.3 4.8,16.6 L2.2,16.6 C1.4,16.3 0.65,15.2 0.45,13.5 C0.3,11.5 0.4,8.2 1.0,5.6 C1.6,3.2 2.3,0.8 3.5,0.8 Z" fill="url(#gm)"/><g clip-path="url(#cm)" fill="#8a8a8a" opacity="0.45"><ellipse cx="1.70" cy="8.07" rx="0.83" ry="0.76"/><ellipse cx="1.77" cy="9.93" rx="0.74" ry="0.69"/><ellipse cx="4.86" cy="11.33" rx="1.02" ry="1.28"/></g></g>
<g transform="translate(238.40,151.50) scale(1.0571,1.0000)"><rect width="7" height="18" fill="#242424"/><path d="M1.6,16.2 L1.0,17.6 M2.6,16.4 L2.4,17.7 M4.4,16.4 L4.6,17.7 M5.4,16.2 L6.0,17.6" stroke="#777" stroke-width="0.45"/><path d="M3.5,0.8 C4.7,0.8 5.4,3.2 6.0,5.6 C6.6,8.2 6.7,11.5 6.55,13.5 C6.35,15.2 5.6,16.3 4.8,16.6 L2.2,16.6 C1.4,16.3 0.65,15.2 0.45,13.5 C0.3,11.5 0.4,8.2 1.0,5.6 C1.6,3.2 2.3,0.8 3.5,0.8 Z" fill="url(#gm)"/><g clip-path="url(#cm)" fill="#8a8a8a" opacity="0.45"><ellipse cx="4.32" cy="10.28" rx="0.93" ry="1.37"/><ellipse cx="1.61" cy="10.84" rx="0.91" ry="0.83"/><ellipse cx="1.94" cy="3.73" rx="0.61" ry="0.75"/></g></g>
<g transform="translate(246.90,151.50) scale(1.0571,1.0000)"><rect width="7" height="18" fill="#242424"/><path d="M1.6,16.2 L1.0,17.6 M2.6,16.4 L2.4,17.7 M4.4,16.4 L4.6,17.7 M5.4,16.2 L6.0,17.6" stroke="#777" stroke-width="0.45"/><path d="M3.5,0.8 C4.7,0.8 5.4,3.2 6.0,5.6 C6.6,8.2 6.7,11.5 6.55,13.5 C6.35,15.2 5.6,16.3 4.8,16.6 L2.2,16.6 C1.4,16.3 0.65,15.2 0.45,13.5 C0.3,11.5 0.4,8.2 1.0,5.6 C1.6,3.2 2.3,0.8 3.5,0.8 Z" fill="url(#gm)"/><g clip-path="url(#cm)" fill="#8a8a8a" opacity="0.45"><ellipse cx="3.53" cy="8.03" rx="0.83" ry="1.54"/><ellipse cx="5.58" cy="12.62" rx="0.73" ry="1.10"/><ellipse cx="1.93" cy="6.43" rx="0.57" ry="1.34"/></g></g>
<g transform="translate(212.90,171.40) scale(1.0571,1.0000)"><rect width="7" height="18" fill="#242424"/><path d="M1.6,16.2 L1.0,17.6 M2.6,16.4 L2.4,17.7 M4.4,16.4 L4.6,17.7 M5.4,16.2 L6.0,17.6" stroke="#777" stroke-width="0.45"/><path d="M3.5,0.8 C4.7,0.8 5.4,3.2 6.0,5.6 C6.6,8.2 6.7,11.5 6.55,13.5 C6.35,15.2 5.6,16.3 4.8,16.6 L2.2,16.6 C1.4,16.3 0.65,15.2 0.45,13.5 C0.3,11.5 0.4,8.2 1.0,5.6 C1.6,3.2 2.3,0.8 3.5,0.8 Z" fill="url(#gm)"/><g clip-path="url(#cm)" fill="#8a8a8a" opacity="0.45"><ellipse cx="1.74" cy="4.47" rx="0.90" ry="0.79"/><ellipse cx="2.68" cy="4.14" rx="0.99" ry="1.58"/><ellipse cx="5.54" cy="14.93" rx="0.90" ry="1.47"/></g></g>
<g transform="translate(221.40,171.40) scale(1.0571,1.0000)"><rect width="7" height="18" fill="#242424"/><path d="M1.6,16.2 L1.0,17.6 M2.6,16.4 L2.4,17.7 M4.4,16.4 L4.6,17.7 M5.4,16.2 L6.0,17.6" stroke="#777" stroke-width="0.45"/><path d="M3.5,0.8 C4.7,0.8 5.4,3.2 6.0,5.6 C6.6,8.2 6.7,11.5 6.55,13.5 C6.35,15.2 5.6,16.3 4.8,16.6 L2.2,16.6 C1.4,16.3 0.65,15.2 0.45,13.5 C0.3,11.5 0.4,8.2 1.0,5.6 C1.6,3.2 2.3,0.8 3.5,0.8 Z" fill="url(#gm)"/><g clip-path="url(#cm)" fill="#8a8a8a" opacity="0.45"><ellipse cx="3.15" cy="12.77" rx="0.87" ry="0.84"/><ellipse cx="5.43" cy="13.35" rx="0.54" ry="1.44"/><ellipse cx="3.50" cy="13.80" rx="0.79" ry="1.17"/></g></g>
<g transform="translate(229.90,171.40) scale(1.0571,1.0000)"><rect width="7" height="18" fill="#242424"/><path d="M1.6,16.2 L1.0,17.6 M2.6,16.4 L2.4,17.7 M4.4,16.4 L4.6,17.7 M5.4,16.2 L6.0,17.6" stroke="#777" stroke-width="0.45"/><path d="M3.5,0.8 C4.7,0.8 5.4,3.2 6.0,5.6 C6.6,8.2 6.7,11.5 6.55,13.5 C6.35,15.2 5.6,16.3 4.8,16.6 L2.2,16.6 C1.4,16.3 0.65,15.2 0.45,13.5 C0.3,11.5 0.4,8.2 1.0,5.6 C1.6,3.2 2.3,0.8 3.5,0.8 Z" fill="url(#gm)"/><g clip-path="url(#cm)" fill="#8a8a8a" opacity="0.45"><ellipse cx="2.05" cy="10.22" rx="0.60" ry="0.87"/><ellipse cx="4.76" cy="10.89" rx="0.78" ry="1.02"/><ellipse cx="1.42" cy="10.25" rx="0.76" ry="1.57"/></g></g>
<g transform="translate(238.40,171.40) scale(1.0571,1.0000)"><rect width="7" height="18" fill="#242424"/><path d="M1.6,16.2 L1.0,17.6 M2.6,16.4 L2.4,17.7 M4.4,16.4 L4.6,17.7 M5.4,16.2 L6.0,17.6" stroke="#777" stroke-width="0.45"/><path d="M3.5,0.8 C4.7,0.8 5.4,3.2 6.0,5.6 C6.6,8.2 6.7,11.5 6.55,13.5 C6.35,15.2 5.6,16.3 4.8,16.6 L2.2,16.6 C1.4,16.3 0.65,15.2 0.45,13.5 C0.3,11.5 0.4,8.2 1.0,5.6 C1.6,3.2 2.3,0.8 3.5,0.8 Z" fill="url(#gm)"/><g clip-path="url(#cm)" fill="#8a8a8a" opacity="0.45"><ellipse cx="4.08" cy="8.50" rx="0.69" ry="1.29"/><ellipse cx="5.12" cy="8.55" rx="0.99" ry="0.94"/><ellipse cx="5.47" cy="7.64" rx="0.71" ry="0.75"/></g></g>
<g transform="translate(246.90,171.40) scale(1.0571,1.0000)"><rect width="7" height="18" fill="#242424"/><path d="M1.6,16.2 L1.0,17.6 M2.6,16.4 L2.4,17.7 M4.4,16.4 L4.6,17.7 M5.4,16.2 L6.0,17.6" stroke="#777" stroke-width="0.45"/><path d="M3.5,0.8 C4.7,0.8 5.4,3.2 6.0,5.6 C6.6,8.2 6.7,11.5 6.55,13.5 C6.35,15.2 5.6,16.3 4.8,16.6 L2.2,16.6 C1.4,16.3 0.65,15.2 0.45,13.5 C0.3,11.5 0.4,8.2 1.0,5.6 C1.6,3.2 2.3,0.8 3.5,0.8 Z" fill="url(#gm)"/><g clip-path="url(#cm)" fill="#8a8a8a" opacity="0.45"><ellipse cx="5.12" cy="12.58" rx="0.70" ry="0.99"/><ellipse cx="3.56" cy="4.69" rx="0.88" ry="0.70"/><ellipse cx="3.51" cy="6.72" rx="0.99" ry="1.43"/></g></g>
</g>
<text x="36.40" y="207.60" font-size="7.0" text-anchor="middle" fill="#111" >X</text>
<text x="45.16" y="207.60" font-size="7.0" text-anchor="middle" fill="#111" >X</text>
<text x="53.92" y="207.60" font-size="7.0" text-anchor="middle" fill="#111" >X</text>
<text x="62.68" y="207.60" font-size="7.0" text-anchor="middle" fill="#111" >X</text>
<text x="71.44" y="207.60" font-size="7.0" text-anchor="middle" fill="#111" >X</text>
<text x="80.20" y="207.60" font-size="7.0" text-anchor="middle" fill="#111" >X</text>
<text x="88.96" y="207.60" font-size="7.0" text-anchor="middle" fill="#111" >X</text>
<text x="97.72" y="207.60" font-size="7.0" text-anchor="middle" fill="#111" >X</text>
<text x="106.48" y="207.60" font-size="7.0" text-anchor="middle" fill="#111" >X</text>
<text x="115.24" y="207.60" font-size="7.0" text-anchor="middle" fill="#111" >X</text>
<text x="124.00" y="207.60" font-size="7.0" text-anchor="middle" fill="#111" >X</text>
<text x="132.76" y="207.60" font-size="7.0" text-anchor="middle" fill="#111" >X</text>
<text x="141.52" y="207.60" font-size="7.0" text-anchor="middle" fill="#111" >X</text>
<text x="150.28" y="207.60" font-size="7.0" text-anchor="middle" fill="#111" >X</text>
<text x="159.04" y="207.60" font-size="7.0" text-anchor="middle" fill="#111" >X</text>
<g transform="translate(168.20,196.20) scale(1.0571,1.0000)"><rect width="7" height="18" fill="#242424"/><path d="M1.6,16.2 L1.0,17.6 M2.6,16.4 L2.4,17.7 M4.4,16.4 L4.6,17.7 M5.4,16.2 L6.0,17.6" stroke="#777" stroke-width="0.45"/><path d="M3.5,0.8 C4.7,0.8 5.4,3.2 6.0,5.6 C6.6,8.2 6.7,11.5 6.55,13.5 C6.35,15.2 5.6,16.3 4.8,16.6 L2.2,16.6 C1.4,16.3 0.65,15.2 0.45,13.5 C0.3,11.5 0.4,8.2 1.0,5.6 C1.6,3.2 2.3,0.8 3.5,0.8 Z" fill="url(#gm)"/><g clip-path="url(#cm)" fill="#8a8a8a" opacity="0.45"><ellipse cx="5.61" cy="8.61" rx="1.08" ry="0.84"/><ellipse cx="2.12" cy="12.17" rx="0.68" ry="1.41"/><ellipse cx="2.89" cy="13.41" rx="0.82" ry="0.99"/></g></g>
<g transform="translate(176.70,196.20) scale(1.0571,1.0000)"><rect width="7" height="18" fill="#242424"/><path d="M1.6,16.2 L1.0,17.6 M2.6,16.4 L2.4,17.7 M4.4,16.4 L4.6,17.7 M5.4,16.2 L6.0,17.6" stroke="#777" stroke-width="0.45"/><path d="M3.5,0.8 C4.7,0.8 5.4,3.2 6.0,5.6 C6.6,8.2 6.7,11.5 6.55,13.5 C6.35,15.2 5.6,16.3 4.8,16.6 L2.2,16.6 C1.4,16.3 0.65,15.2 0.45,13.5 C0.3,11.5 0.4,8.2 1.0,5.6 C1.6,3.2 2.3,0.8 3.5,0.8 Z" fill="url(#gm)"/><g clip-path="url(#cm)" fill="#8a8a8a" opacity="0.45"><ellipse cx="4.36" cy="8.69" rx="0.91" ry="0.85"/><ellipse cx="1.63" cy="9.06" rx="0.87" ry="1.04"/><ellipse cx="4.55" cy="7.80" rx="0.69" ry="0.63"/></g></g>
<g transform="translate(185.20,196.20) scale(1.0571,1.0000)"><rect width="7" height="18" fill="#242424"/><path d="M1.6,16.2 L1.0,17.6 M2.6,16.4 L2.4,17.7 M4.4,16.4 L4.6,17.7 M5.4,16.2 L6.0,17.6" stroke="#777" stroke-width="0.45"/><path d="M3.5,0.8 C4.7,0.8 5.4,3.2 6.0,5.6 C6.6,8.2 6.7,11.5 6.55,13.5 C6.35,15.2 5.6,16.3 4.8,16.6 L2.2,16.6 C1.4,16.3 0.65,15.2 0.45,13.5 C0.3,11.5 0.4,8.2 1.0,5.6 C1.6,3.2 2.3,0.8 3.5,0.8 Z" fill="url(#gm)"/><g clip-path="url(#cm)" fill="#8a8a8a" opacity="0.45"><ellipse cx="3.09" cy="12.69" rx="0.95" ry="1.27"/><ellipse cx="2.11" cy="8.99" rx="1.10" ry="1.33"/><ellipse cx="1.74" cy="12.97" rx="0.68" ry="0.66"/></g></g>
<g transform="translate(193.70,196.20) scale(1.0571,1.0000)"><rect width="7" height="18" fill="#242424"/><path d="M1.6,16.2 L1.0,17.6 M2.6,16.4 L2.4,17.7 M4.4,16.4 L4.6,17.7 M5.4,16.2 L6.0,17.6" stroke="#777" stroke-width="0.45"/><path d="M3.5,0.8 C4.7,0.8 5.4,3.2 6.0,5.6 C6.6,8.2 6.7,11.5 6.55,13.5 C6.35,15.2 5.6,16.3 4.8,16.6 L2.2,16.6 C1.4,16.3 0.65,15.2 0.45,13.5 C0.3,11.5 0.4,8.2 1.0,5.6 C1.6,3.2 2.3,0.8 3.5,0.8 Z" fill="url(#gm)"/><g clip-path="url(#cm)" fill="#8a8a8a" opacity="0.45"><ellipse cx="3.27" cy="8.54" rx="0.98" ry="0.84"/><ellipse cx="5.08" cy="13.45" rx="0.74" ry="1.26"/><ellipse cx="2.10" cy="12.04" rx="0.89" ry="0.74"/></g></g>
<g transform="translate(202.20,196.20) scale(1.0571,1.0000)"><rect width="7" height="18" fill="#242424"/><path d="M1.6,16.2 L1.0,17.6 M2.6,16.4 L2.4,17.7 M4.4,16.4 L4.6,17.7 M5.4,16.2 L6.0,17.6" stroke="#777" stroke-width="0.45"/><path d="M3.5,0.8 C4.7,0.8 5.4,3.2 6.0,5.6 C6.6,8.2 6.7,11.5 6.55,13.5 C6.35,15.2 5.6,16.3 4.8,16.6 L2.2,16.6 C1.4,16.3 0.65,15.2 0.45,13.5 C0.3,11.5 0.4,8.2 1.0,5.6 C1.6,3.2 2.3,0.8 3.5,0.8 Z" fill="url(#gm)"/><g clip-path="url(#cm)" fill="#8a8a8a" opacity="0.45"><ellipse cx="5.68" cy="10.00" rx="1.08" ry="1.32"/><ellipse cx="5.02" cy="7.87" rx="0.73" ry="0.80"/><ellipse cx="1.29" cy="13.21" rx="0.61" ry="0.76"/></g></g>
<text x="216.00" y="207.60" font-size="7.0" text-anchor="middle" fill="#111" >X</text>
<g transform="translate(221.40,196.20) scale(1.0571,1.0000)"><rect width="7" height="18" fill="#242424"/><path d="M1.6,16.2 L1.0,17.6 M2.6,16.4 L2.4,17.7 M4.4,16.4 L4.6,17.7 M5.4,16.2 L6.0,17.6" stroke="#777" stroke-width="0.45"/><path d="M3.5,0.8 C4.7,0.8 5.4,3.2 6.0,5.6 C6.6,8.2 6.7,11.5 6.55,13.5 C6.35,15.2 5.6,16.3 4.8,16.6 L2.2,16.6 C1.4,16.3 0.65,15.2 0.45,13.5 C0.3,11.5 0.4,8.2 1.0,5.6 C1.6,3.2 2.3,0.8 3.5,0.8 Z" fill="url(#gm)"/><g clip-path="url(#cm)" fill="#8a8a8a" opacity="0.45"><ellipse cx="4.03" cy="6.08" rx="0.81" ry="1.21"/><ellipse cx="2.58" cy="11.24" rx="1.05" ry="1.14"/><ellipse cx="3.21" cy="14.95" rx="0.70" ry="1.52"/></g></g>
<text x="233.00" y="207.60" font-size="7.0" text-anchor="middle" fill="#111" >X</text>
<g transform="translate(238.40,196.20) scale(1.0571,1.0000)"><rect width="7" height="18" fill="#242424"/><path d="M1.6,16.2 L1.0,17.6 M2.6,16.4 L2.4,17.7 M4.4,16.4 L4.6,17.7 M5.4,16.2 L6.0,17.6" stroke="#777" stroke-width="0.45"/><path d="M3.5,0.8 C4.7,0.8 5.4,3.2 6.0,5.6 C6.6,8.2 6.7,11.5 6.55,13.5 C6.35,15.2 5.6,16.3 4.8,16.6 L2.2,16.6 C1.4,16.3 0.65,15.2 0.45,13.5 C0.3,11.5 0.4,8.2 1.0,5.6 C1.6,3.2 2.3,0.8 3.5,0.8 Z" fill="url(#gm)"/><g clip-path="url(#cm)" fill="#8a8a8a" opacity="0.45"><ellipse cx="1.37" cy="4.09" rx="0.74" ry="1.42"/><ellipse cx="1.47" cy="13.00" rx="1.04" ry="0.62"/><ellipse cx="5.33" cy="11.99" rx="1.10" ry="0.75"/></g></g>
<g transform="translate(246.90,196.20) scale(1.0571,1.0000)"><rect width="7" height="18" fill="#242424"/><path d="M1.6,16.2 L1.0,17.6 M2.6,16.4 L2.4,17.7 M4.4,16.4 L4.6,17.7 M5.4,16.2 L6.0,17.6" stroke="#777" stroke-width="0.45"/><path d="M3.5,0.8 C4.7,0.8 5.4,3.2 6.0,5.6 C6.6,8.2 6.7,11.5 6.55,13.5 C6.35,15.2 5.6,16.3 4.8,16.6 L2.2,16.6 C1.4,16.3 0.65,15.2 0.45,13.5 C0.3,11.5 0.4,8.2 1.0,5.6 C1.6,3.2 2.3,0.8 3.5,0.8 Z" fill="url(#gm)"/><g clip-path="url(#cm)" fill="#8a8a8a" opacity="0.45"><ellipse cx="1.20" cy="3.04" rx="0.88" ry="0.71"/><ellipse cx="4.23" cy="15.00" rx="0.51" ry="0.82"/><ellipse cx="3.55" cy="14.26" rx="0.56" ry="1.33"/></g></g>
<text x="270.80" y="90.10" font-size="12.5" font-weight="bold" fill="#000" >E</text>
<text transform="translate(379.00,86.70) scale(0.9299,1)" font-size="9.8" fill="#111" stroke="#111" stroke-width="0.1">MV4;11 AML</text>
<text transform="translate(309.70,102.10) scale(0.8446,1)" font-size="7.6" fill="#6a7084" stroke="#6a7084" stroke-width="0.12">Vehicle</text>
<text transform="translate(348.00,98.00) scale(0.9011,1)" font-size="7.6" fill="#6cb04a" stroke="#6cb04a" stroke-width="0.12">ART838+</text>
<text transform="translate(355.80,106.00) scale(0.8447,1)" font-size="7.6" fill="#6cb04a" stroke="#6cb04a" stroke-width="0.12">VEN</text>
<text transform="translate(390.30,98.00) scale(0.8887,1)" font-size="7.6" fill="#b0103c" stroke="#b0103c" stroke-width="0.12">ART838+</text>
<text transform="translate(397.30,106.00) scale(0.8926,1)" font-size="7.6" fill="#b0103c" stroke="#b0103c" stroke-width="0.12">SOR</text>
<text transform="translate(438.10,98.00) scale(0.8671,1)" font-size="7.6" fill="#e0961c" stroke="#e0961c" stroke-width="0.12">VEN+</text>
<text transform="translate(439.60,106.00) scale(0.8986,1)" font-size="7.6" fill="#e0961c" stroke="#e0961c" stroke-width="0.12">SOR</text>
<text transform="translate(483.00,102.10) scale(0.8672,1)" font-size="7.6" fill="#5d3e80" stroke="#5d3e80" stroke-width="0.12">SAV</text>
<text transform="translate(272.30,122.40) scale(0.9112,1)" font-size="7.1" fill="#111" stroke="#111" stroke-width="0.18">Day 0</text>
<text transform="translate(272.30,142.30) scale(0.8896,1)" font-size="7.1" fill="#111" stroke="#111" stroke-width="0.18">Day 7</text>
<text transform="translate(270.70,162.00) scale(0.8979,1)" font-size="7.1" fill="#111" stroke="#111" stroke-width="0.18">Day 14</text>
<text transform="translate(270.70,182.00) scale(0.8846,1)" font-size="7.1" fill="#111" stroke="#111" stroke-width="0.18">Day 21</text>
<text transform="translate(272.20,208.60) scale(0.9303,1)" font-size="7.2" font-weight="bold" fill="#000">Day 70</text>
<line x1="280.30" y1="186.50" x2="280.30" y2="196.00" stroke="#000" stroke-width="1.0" stroke-dasharray="1.4,1.3"/>
<path d="M278.7,195.3 L280.3,199.9 L281.9,195.3 Z" fill="#000"/>
<g filter="url(#soft)">
<g transform="translate(298.00,111.10) scale(1.0286,1.0000)"><rect width="7" height="18" fill="#242424"/><path d="M1.6,16.2 L1.0,17.6 M2.6,16.4 L2.4,17.7 M4.4,16.4 L4.6,17.7 M5.4,16.2 L6.0,17.6" stroke="#777" stroke-width="0.45"/><path d="M3.5,0.8 C4.7,0.8 5.4,3.2 6.0,5.6 C6.6,8.2 6.7,11.5 6.55,13.5 C6.35,15.2 5.6,16.3 4.8,16.6 L2.2,16.6 C1.4,16.3 0.65,15.2 0.45,13.5 C0.3,11.5 0.4,8.2 1.0,5.6 C1.6,3.2 2.3,0.8 3.5,0.8 Z" fill="url(#gm)"/><g clip-path="url(#cm)" fill="#8a8a8a" opacity="0.45"><ellipse cx="5.67" cy="9.08" rx="0.75" ry="1.12"/><ellipse cx="3.44" cy="4.88" rx="0.87" ry="0.77"/><ellipse cx="1.56" cy="11.57" rx="1.07" ry="0.65"/></g><ellipse cx="3.0" cy="6.5" rx="2.0" ry="3.2" fill="#6608f0"/><ellipse cx="4.8" cy="9.5" rx="1.5" ry="1.6" fill="#6608f0"/><ellipse cx="3.5" cy="13.5" rx="3.6" ry="2.0" fill="#6608f0"/><ellipse cx="3.2" cy="10.2" rx="1.0" ry="0.6" fill="#f4f4f4"/></g>
<g transform="translate(306.20,111.10) scale(1.0286,1.0000)"><rect width="7" height="18" fill="#242424"/><path d="M1.6,16.2 L1.0,17.6 M2.6,16.4 L2.4,17.7 M4.4,16.4 L4.6,17.7 M5.4,16.2 L6.0,17.6" stroke="#777" stroke-width="0.45"/><path d="M3.5,0.8 C4.7,0.8 5.4,3.2 6.0,5.6 C6.6,8.2 6.7,11.5 6.55,13.5 C6.35,15.2 5.6,16.3 4.8,16.6 L2.2,16.6 C1.4,16.3 0.65,15.2 0.45,13.5 C0.3,11.5 0.4,8.2 1.0,5.6 C1.6,3.2 2.3,0.8 3.5,0.8 Z" fill="url(#gm)"/><g clip-path="url(#cm)" fill="#8a8a8a" opacity="0.45"><ellipse cx="1.31" cy="3.49" rx="1.07" ry="1.28"/><ellipse cx="1.77" cy="12.83" rx="1.08" ry="0.75"/><ellipse cx="2.19" cy="3.97" rx="0.86" ry="1.56"/></g><ellipse cx="3.8" cy="7.5" rx="2.8" ry="4.2" fill="#6608f0"/><ellipse cx="3.0" cy="13.5" rx="2.8" ry="2.2" fill="#6608f0"/><ellipse cx="3.2" cy="10.2" rx="1.0" ry="0.6" fill="#f4f4f4"/></g>
<g transform="translate(314.40,111.10) scale(1.0286,1.0000)"><rect width="7" height="18" fill="#242424"/><path d="M1.6,16.2 L1.0,17.6 M2.6,16.4 L2.4,17.7 M4.4,16.4 L4.6,17.7 M5.4,16.2 L6.0,17.6" stroke="#777" stroke-width="0.45"/><path d="M3.5,0.8 C4.7,0.8 5.4,3.2 6.0,5.6 C6.6,8.2 6.7,11.5 6.55,13.5 C6.35,15.2 5.6,16.3 4.8,16.6 L2.2,16.6 C1.4,16.3 0.65,15.2 0.45,13.5 C0.3,11.5 0.4,8.2 1.0,5.6 C1.6,3.2 2.3,0.8 3.5,0.8 Z" fill="url(#gm)"/><g clip-path="url(#cm)" fill="#8a8a8a" opacity="0.45"><ellipse cx="3.08" cy="13.13" rx="1.06" ry="1.51"/><ellipse cx="4.99" cy="7.87" rx="0.53" ry="1.47"/><ellipse cx="3.26" cy="7.65" rx="0.59" ry="1.46"/></g><ellipse cx="3.6" cy="5.5" rx="1.8" ry="2.8" fill="#6608f0"/><ellipse cx="2.0" cy="9.5" rx="1.6" ry="1.8" fill="#6608f0"/><ellipse cx="4.6" cy="11.5" rx="1.5" ry="1.4" fill="#6608f0"/><ellipse cx="3.5" cy="14.0" rx="3.4" ry="1.6" fill="#6608f0"/><ellipse cx="3.2" cy="10.2" rx="1.0" ry="0.6" fill="#f4f4f4"/></g>
<g transform="translate(322.60,111.10) scale(1.0286,1.0000)"><rect width="7" height="18" fill="#242424"/><path d="M1.6,16.2 L1.0,17.6 M2.6,16.4 L2.4,17.7 M4.4,16.4 L4.6,17.7 M5.4,16.2 L6.0,17.6" stroke="#777" stroke-width="0.45"/><path d="M3.5,0.8 C4.7,0.8 5.4,3.2 6.0,5.6 C6.6,8.2 6.7,11.5 6.55,13.5 C6.35,15.2 5.6,16.3 4.8,16.6 L2.2,16.6 C1.4,16.3 0.65,15.2 0.45,13.5 C0.3,11.5 0.4,8.2 1.0,5.6 C1.6,3.2 2.3,0.8 3.5,0.8 Z" fill="url(#gm)"/><g clip-path="url(#cm)" fill="#8a8a8a" opacity="0.45"><ellipse cx="5.55" cy="13.07" rx="0.86" ry="0.74"/><ellipse cx="1.98" cy="10.06" rx="0.57" ry="1.05"/><ellipse cx="1.80" cy="7.57" rx="0.58" ry="1.23"/></g><ellipse cx="4.2" cy="6.2" rx="1.6" ry="2.6" fill="#6608f0"/><ellipse cx="2.2" cy="10.0" rx="1.4" ry="1.6" fill="#6608f0"/><ellipse cx="3.8" cy="13.8" rx="3.0" ry="1.8" fill="#6608f0"/><ellipse cx="3.2" cy="10.2" rx="1.0" ry="0.6" fill="#f4f4f4"/></g>
<g transform="translate(330.80,111.10) scale(1.0286,1.0000)"><rect width="7" height="18" fill="#242424"/><path d="M1.6,16.2 L1.0,17.6 M2.6,16.4 L2.4,17.7 M4.4,16.4 L4.6,17.7 M5.4,16.2 L6.0,17.6" stroke="#777" stroke-width="0.45"/><path d="M3.5,0.8 C4.7,0.8 5.4,3.2 6.0,5.6 C6.6,8.2 6.7,11.5 6.55,13.5 C6.35,15.2 5.6,16.3 4.8,16.6 L2.2,16.6 C1.4,16.3 0.65,15.2 0.45,13.5 C0.3,11.5 0.4,8.2 1.0,5.6 C1.6,3.2 2.3,0.8 3.5,0.8 Z" fill="url(#gm)"/><g clip-path="url(#cm)" fill="#8a8a8a" opacity="0.45"><ellipse cx="5.45" cy="7.02" rx="0.60" ry="1.31"/><ellipse cx="3.74" cy="3.78" rx="1.02" ry="1.50"/><ellipse cx="5.75" cy="4.77" rx="0.65" ry="0.82"/></g><ellipse cx="3.3" cy="7.0" rx="2.6" ry="3.4" fill="#6608f0"/><ellipse cx="2.5" cy="12.5" rx="2.2" ry="2.6" fill="#6608f0"/><ellipse cx="5.0" cy="14.0" rx="1.6" ry="1.4" fill="#6608f0"/><ellipse cx="3.2" cy="10.2" rx="1.0" ry="0.6" fill="#f4f4f4"/></g>
<g transform="translate(298.00,131.40) scale(1.0286,1.0000)"><rect width="7" height="18" fill="#242424"/><path d="M3.5,0.8 C4.6,1.2 5.8,3.8 7,6.6 L7,18 L0,18 L0,6.6 C1.2,3.8 2.4,1.2 3.5,0.8 Z" fill="#6608f0"/><ellipse cx="3.5" cy="9.5" rx="2.6" ry="5" fill="url(#gh)"/><circle cx="1.83" cy="11.58" r="0.6" fill="#40b8f8"/><circle cx="4.50" cy="13.50" r="0.6" fill="#40b8f8"/><ellipse cx="3.5" cy="12.8" rx="3.3" ry="0.5" fill="#3a7cf8" opacity="0.6"/></g>
<g transform="translate(306.20,131.40) scale(1.0286,1.0000)"><rect width="7" height="18" fill="#242424"/><path d="M3.5,0.8 C4.6,1.2 5.8,3.8 7,6.6 L7,18 L0,18 L0,6.6 C1.2,3.8 2.4,1.2 3.5,0.8 Z" fill="#6608f0"/><ellipse cx="3.5" cy="9.5" rx="2.6" ry="5" fill="url(#gh)"/><circle cx="4.74" cy="12.50" r="0.6" fill="#40b8f8"/><circle cx="1.56" cy="12.65" r="0.6" fill="#40b8f8"/><ellipse cx="3.5" cy="12.8" rx="3.3" ry="0.5" fill="#3a7cf8" opacity="0.6"/></g>
<g transform="translate(314.40,131.40) scale(1.0286,1.0000)"><rect width="7" height="18" fill="#242424"/><path d="M3.5,0.8 C4.6,1.2 5.8,3.8 7,6.6 L7,18 L0,18 L0,6.6 C1.2,3.8 2.4,1.2 3.5,0.8 Z" fill="#6608f0"/><ellipse cx="3.5" cy="9.5" rx="2.6" ry="5" fill="url(#gh)"/><circle cx="4.83" cy="13.38" r="0.6" fill="#40b8f8"/><circle cx="1.68" cy="13.68" r="0.6" fill="#40b8f8"/><ellipse cx="3.5" cy="12.8" rx="3.3" ry="0.5" fill="#3a7cf8" opacity="0.6"/></g>
<g transform="translate(322.60,131.40) scale(1.0286,1.0000)"><rect width="7" height="18" fill="#242424"/><path d="M3.5,0.8 C4.6,1.2 5.8,3.8 7,6.6 L7,18 L0,18 L0,6.6 C1.2,3.8 2.4,1.2 3.5,0.8 Z" fill="#6608f0"/><ellipse cx="3.5" cy="9.5" rx="2.6" ry="5" fill="url(#gh)"/><circle cx="1.25" cy="11.46" r="0.6" fill="#40b8f8"/><circle cx="5.86" cy="11.75" r="0.6" fill="#40b8f8"/><ellipse cx="3.5" cy="12.8" rx="3.3" ry="0.5" fill="#3a7cf8" opacity="0.6"/></g>
<g transform="translate(330.80,131.40) scale(1.0286,1.0000)"><rect width="7" height="18" fill="#242424"/><path d="M3.5,0.8 C4.6,1.2 5.8,3.8 7,6.6 L7,18 L0,18 L0,6.6 C1.2,3.8 2.4,1.2 3.5,0.8 Z" fill="#6608f0"/><ellipse cx="3.5" cy="9.5" rx="2.6" ry="5" fill="url(#gh)"/><circle cx="5.20" cy="12.12" r="0.6" fill="#40b8f8"/><circle cx="4.70" cy="11.92" r="0.6" fill="#40b8f8"/><ellipse cx="3.5" cy="12.8" rx="3.3" ry="0.5" fill="#3a7cf8" opacity="0.6"/></g>
<g transform="translate(298.00,151.50) scale(1.0286,1.0000)"><rect width="7" height="18" fill="#6608f0"/><ellipse cx="3.5" cy="9.5" rx="2.6" ry="5" fill="url(#gh)"/><ellipse cx="3.5" cy="12.6" rx="4.2" ry="2.6" fill="#2a8cf8"/><ellipse cx="3.5" cy="12.8" rx="3.8" ry="1.7" fill="#60e8b0"/><ellipse cx="3.4" cy="13.0" rx="3.0" ry="1.1" fill="#b8f040"/><ellipse cx="3.2" cy="13.1" rx="1.8" ry="0.6" fill="#f0e020"/><circle cx="3.99" cy="12.03" r="0.6" fill="#40b8f8"/><circle cx="1.01" cy="12.04" r="0.6" fill="#40b8f8"/></g>
<g transform="translate(306.20,151.50) scale(1.0286,1.0000)"><rect width="7" height="18" fill="#6608f0"/><ellipse cx="3.5" cy="9.5" rx="2.6" ry="5" fill="url(#gh)"/><ellipse cx="3.5" cy="12.6" rx="4.2" ry="2.6" fill="#2a8cf8"/><ellipse cx="3.5" cy="12.8" rx="3.8" ry="1.7" fill="#60e8b0"/><ellipse cx="3.4" cy="13.0" rx="3.0" ry="1.1" fill="#b8f040"/><ellipse cx="3.2" cy="13.1" rx="1.8" ry="0.6" fill="#f0e020"/><circle cx="2.99" cy="13.40" r="0.6" fill="#40b8f8"/><circle cx="3.47" cy="12.38" r="0.6" fill="#40b8f8"/></g>
<g transform="translate(314.40,151.50) scale(1.0286,1.0000)"><rect width="7" height="18" fill="#6608f0"/><ellipse cx="3.5" cy="9.5" rx="2.6" ry="5" fill="url(#gh)"/><ellipse cx="3.5" cy="12.6" rx="4.2" ry="2.6" fill="#2a8cf8"/><ellipse cx="3.5" cy="12.8" rx="3.8" ry="1.7" fill="#60e8b0"/><ellipse cx="3.4" cy="13.0" rx="3.0" ry="1.1" fill="#b8f040"/><ellipse cx="3.2" cy="13.1" rx="1.8" ry="0.6" fill="#f0e020"/><circle cx="5.83" cy="12.62" r="0.6" fill="#40b8f8"/><circle cx="3.77" cy="12.42" r="0.6" fill="#40b8f8"/></g>
<g transform="translate(322.60,151.50) scale(1.0286,1.0000)"><rect width="7" height="18" fill="#6608f0"/><ellipse cx="3.5" cy="9.5" rx="2.6" ry="5" fill="url(#gh)"/><ellipse cx="3.5" cy="12.6" rx="4.2" ry="2.6" fill="#2a8cf8"/><ellipse cx="3.5" cy="12.8" rx="3.8" ry="1.7" fill="#60e8b0"/><ellipse cx="3.4" cy="13.0" rx="3.0" ry="1.1" fill="#b8f040"/><ellipse cx="3.2" cy="13.1" rx="1.8" ry="0.6" fill="#f0e020"/><circle cx="1.16" cy="13.91" r="0.6" fill="#40b8f8"/><circle cx="1.97" cy="13.98" r="0.6" fill="#40b8f8"/></g>
<g transform="translate(330.80,151.50) scale(1.0286,1.0000)"><rect width="7" height="18" fill="#6608f0"/><ellipse cx="3.5" cy="9.5" rx="2.6" ry="5" fill="url(#gh)"/><ellipse cx="3.5" cy="12.6" rx="4.2" ry="2.6" fill="#2a8cf8"/><ellipse cx="3.5" cy="12.8" rx="3.8" ry="1.7" fill="#60e8b0"/><ellipse cx="3.4" cy="13.0" rx="3.0" ry="1.1" fill="#b8f040"/><ellipse cx="3.2" cy="13.1" rx="1.8" ry="0.6" fill="#f0e020"/><circle cx="1.67" cy="12.28" r="0.6" fill="#40b8f8"/><circle cx="5.26" cy="12.35" r="0.6" fill="#40b8f8"/></g>
<g transform="translate(298.00,171.40) scale(1.0286,1.0000)"><rect width="7" height="18" fill="#6608f0"/><ellipse cx="3.5" cy="9.5" rx="2.6" ry="5" fill="url(#gh)"/><ellipse cx="3.5" cy="11.5" rx="3.8" ry="4.5" fill="#2a8cf8"/><ellipse cx="3.5" cy="12" rx="3.6" ry="3.4" fill="#60e8b0"/><ellipse cx="3.5" cy="12.2" rx="3.4" ry="2.8" fill="#e8f028"/><ellipse cx="3.5" cy="12.4" rx="3.1" ry="2.3" fill="#f01400"/></g>
<g transform="translate(306.20,171.40) scale(1.0286,1.0000)"><rect width="7" height="18" fill="#6608f0"/><ellipse cx="3.5" cy="9.5" rx="2.6" ry="5" fill="url(#gh)"/><ellipse cx="3.5" cy="11.5" rx="3.8" ry="4.5" fill="#2a8cf8"/><ellipse cx="3.5" cy="12" rx="3.6" ry="3.4" fill="#60e8b0"/><ellipse cx="3.5" cy="12.2" rx="3.4" ry="2.8" fill="#e8f028"/><ellipse cx="3.5" cy="12.4" rx="3.1" ry="2.3" fill="#f01400"/></g>
<g transform="translate(314.40,171.40) scale(1.0286,1.0000)"><rect width="7" height="18" fill="#6608f0"/><ellipse cx="3.5" cy="9.5" rx="2.6" ry="5" fill="url(#gh)"/><ellipse cx="3.5" cy="11.5" rx="3.8" ry="4.5" fill="#2a8cf8"/><ellipse cx="3.5" cy="12" rx="3.6" ry="3.4" fill="#60e8b0"/><ellipse cx="3.5" cy="12.2" rx="3.4" ry="2.8" fill="#e8f028"/><ellipse cx="3.5" cy="12.4" rx="3.1" ry="2.3" fill="#f01400"/></g>
<g transform="translate(322.60,171.40) scale(1.0286,1.0000)"><rect width="7" height="18" fill="#6608f0"/><ellipse cx="3.5" cy="9.5" rx="2.6" ry="5" fill="url(#gh)"/><ellipse cx="3.5" cy="11.5" rx="3.8" ry="4.5" fill="#2a8cf8"/><ellipse cx="3.5" cy="12" rx="3.6" ry="3.4" fill="#60e8b0"/><ellipse cx="3.5" cy="12.2" rx="3.4" ry="2.8" fill="#e8f028"/><ellipse cx="3.5" cy="12.4" rx="3.1" ry="2.3" fill="#f01400"/></g>
<g transform="translate(330.80,171.40) scale(1.0286,1.0000)"><rect width="7" height="18" fill="#6608f0"/><ellipse cx="3.5" cy="9.5" rx="2.6" ry="5" fill="url(#gh)"/><ellipse cx="3.5" cy="11.5" rx="3.8" ry="4.5" fill="#2a8cf8"/><ellipse cx="3.5" cy="12" rx="3.6" ry="3.4" fill="#60e8b0"/><ellipse cx="3.5" cy="12.2" rx="3.4" ry="2.8" fill="#e8f028"/><ellipse cx="3.5" cy="12.4" rx="3.1" ry="2.3" fill="#f01400"/></g>
<g transform="translate(341.20,111.10) scale(1.0286,1.0000)"><rect width="7" height="18" fill="#242424"/><path d="M1.6,16.2 L1.0,17.6 M2.6,16.4 L2.4,17.7 M4.4,16.4 L4.6,17.7 M5.4,16.2 L6.0,17.6" stroke="#777" stroke-width="0.45"/><path d="M3.5,0.8 C4.7,0.8 5.4,3.2 6.0,5.6 C6.6,8.2 6.7,11.5 6.55,13.5 C6.35,15.2 5.6,16.3 4.8,16.6 L2.2,16.6 C1.4,16.3 0.65,15.2 0.45,13.5 C0.3,11.5 0.4,8.2 1.0,5.6 C1.6,3.2 2.3,0.8 3.5,0.8 Z" fill="url(#gm)"/><g clip-path="url(#cm)" fill="#8a8a8a" opacity="0.45"><ellipse cx="3.79" cy="4.34" rx="0.82" ry="1.16"/><ellipse cx="5.29" cy="3.62" rx="0.97" ry="0.93"/><ellipse cx="3.04" cy="7.77" rx="1.09" ry="1.43"/></g><ellipse cx="3.6" cy="5.5" rx="1.8" ry="2.8" fill="#6608f0"/><ellipse cx="2.0" cy="9.5" rx="1.6" ry="1.8" fill="#6608f0"/><ellipse cx="4.6" cy="11.5" rx="1.5" ry="1.4" fill="#6608f0"/><ellipse cx="3.5" cy="14.0" rx="3.4" ry="1.6" fill="#6608f0"/><ellipse cx="3.2" cy="10.2" rx="1.0" ry="0.6" fill="#f4f4f4"/></g>
<g transform="translate(349.40,111.10) scale(1.0286,1.0000)"><rect width="7" height="18" fill="#242424"/><path d="M1.6,16.2 L1.0,17.6 M2.6,16.4 L2.4,17.7 M4.4,16.4 L4.6,17.7 M5.4,16.2 L6.0,17.6" stroke="#777" stroke-width="0.45"/><path d="M3.5,0.8 C4.7,0.8 5.4,3.2 6.0,5.6 C6.6,8.2 6.7,11.5 6.55,13.5 C6.35,15.2 5.6,16.3 4.8,16.6 L2.2,16.6 C1.4,16.3 0.65,15.2 0.45,13.5 C0.3,11.5 0.4,8.2 1.0,5.6 C1.6,3.2 2.3,0.8 3.5,0.8 Z" fill="url(#gm)"/><g clip-path="url(#cm)" fill="#8a8a8a" opacity="0.45"><ellipse cx="3.48" cy="10.92" rx="0.67" ry="1.00"/><ellipse cx="2.97" cy="11.94" rx="0.63" ry="1.25"/><ellipse cx="4.10" cy="13.15" rx="0.78" ry="1.04"/></g><ellipse cx="4.2" cy="6.2" rx="1.6" ry="2.6" fill="#6608f0"/><ellipse cx="2.2" cy="10.0" rx="1.4" ry="1.6" fill="#6608f0"/><ellipse cx="3.8" cy="13.8" rx="3.0" ry="1.8" fill="#6608f0"/><ellipse cx="3.2" cy="10.2" rx="1.0" ry="0.6" fill="#f4f4f4"/></g>
<g transform="translate(357.60,111.10) scale(1.0286,1.0000)"><rect width="7" height="18" fill="#242424"/><path d="M1.6,16.2 L1.0,17.6 M2.6,16.4 L2.4,17.7 M4.4,16.4 L4.6,17.7 M5.4,16.2 L6.0,17.6" stroke="#777" stroke-width="0.45"/><path d="M3.5,0.8 C4.7,0.8 5.4,3.2 6.0,5.6 C6.6,8.2 6.7,11.5 6.55,13.5 C6.35,15.2 5.6,16.3 4.8,16.6 L2.2,16.6 C1.4,16.3 0.65,15.2 0.45,13.5 C0.3,11.5 0.4,8.2 1.0,5.6 C1.6,3.2 2.3,0.8 3.5,0.8 Z" fill="url(#gm)"/><g clip-path="url(#cm)" fill="#8a8a8a" opacity="0.45"><ellipse cx="2.86" cy="14.84" rx="0.98" ry="0.66"/><ellipse cx="1.75" cy="10.44" rx="0.54" ry="0.92"/><ellipse cx="2.79" cy="5.90" rx="1.09" ry="1.48"/></g><ellipse cx="3.3" cy="7.0" rx="2.6" ry="3.4" fill="#6608f0"/><ellipse cx="2.5" cy="12.5" rx="2.2" ry="2.6" fill="#6608f0"/><ellipse cx="5.0" cy="14.0" rx="1.6" ry="1.4" fill="#6608f0"/><ellipse cx="3.2" cy="10.2" rx="1.0" ry="0.6" fill="#f4f4f4"/></g>
<g transform="translate(365.80,111.10) scale(1.0286,1.0000)"><rect width="7" height="18" fill="#242424"/><path d="M1.6,16.2 L1.0,17.6 M2.6,16.4 L2.4,17.7 M4.4,16.4 L4.6,17.7 M5.4,16.2 L6.0,17.6" stroke="#777" stroke-width="0.45"/><path d="M3.5,0.8 C4.7,0.8 5.4,3.2 6.0,5.6 C6.6,8.2 6.7,11.5 6.55,13.5 C6.35,15.2 5.6,16.3 4.8,16.6 L2.2,16.6 C1.4,16.3 0.65,15.2 0.45,13.5 C0.3,11.5 0.4,8.2 1.0,5.6 C1.6,3.2 2.3,0.8 3.5,0.8 Z" fill="url(#gm)"/><g clip-path="url(#cm)" fill="#8a8a8a" opacity="0.45"><ellipse cx="3.39" cy="7.26" rx="0.81" ry="1.38"/><ellipse cx="3.04" cy="8.38" rx="0.50" ry="1.26"/><ellipse cx="4.64" cy="5.99" rx="0.92" ry="1.21"/></g><ellipse cx="3.0" cy="6.5" rx="2.0" ry="3.2" fill="#6608f0"/><ellipse cx="4.8" cy="9.5" rx="1.5" ry="1.6" fill="#6608f0"/><ellipse cx="3.5" cy="13.5" rx="3.6" ry="2.0" fill="#6608f0"/><ellipse cx="3.2" cy="10.2" rx="1.0" ry="0.6" fill="#f4f4f4"/></g>
<g transform="translate(374.00,111.10) scale(1.0286,1.0000)"><rect width="7" height="18" fill="#242424"/><path d="M1.6,16.2 L1.0,17.6 M2.6,16.4 L2.4,17.7 M4.4,16.4 L4.6,17.7 M5.4,16.2 L6.0,17.6" stroke="#777" stroke-width="0.45"/><path d="M3.5,0.8 C4.7,0.8 5.4,3.2 6.0,5.6 C6.6,8.2 6.7,11.5 6.55,13.5 C6.35,15.2 5.6,16.3 4.8,16.6 L2.2,16.6 C1.4,16.3 0.65,15.2 0.45,13.5 C0.3,11.5 0.4,8.2 1.0,5.6 C1.6,3.2 2.3,0.8 3.5,0.8 Z" fill="url(#gm)"/><g clip-path="url(#cm)" fill="#8a8a8a" opacity="0.45"><ellipse cx="3.78" cy="9.37" rx="0.55" ry="0.70"/><ellipse cx="5.04" cy="6.51" rx="0.70" ry="1.58"/><ellipse cx="3.68" cy="5.84" rx="0.90" ry="1.24"/></g><ellipse cx="3.8" cy="7.5" rx="2.8" ry="4.2" fill="#6608f0"/><ellipse cx="3.0" cy="13.5" rx="2.8" ry="2.2" fill="#6608f0"/><ellipse cx="3.2" cy="10.2" rx="1.0" ry="0.6" fill="#f4f4f4"/></g>
<g transform="translate(341.20,131.40) scale(1.0286,1.0000)"><rect width="7" height="18" fill="#242424"/><path d="M1.6,16.2 L1.0,17.6 M2.6,16.4 L2.4,17.7 M4.4,16.4 L4.6,17.7 M5.4,16.2 L6.0,17.6" stroke="#777" stroke-width="0.45"/><path d="M3.5,0.8 C4.7,0.8 5.4,3.2 6.0,5.6 C6.6,8.2 6.7,11.5 6.55,13.5 C6.35,15.2 5.6,16.3 4.8,16.6 L2.2,16.6 C1.4,16.3 0.65,15.2 0.45,13.5 C0.3,11.5 0.4,8.2 1.0,5.6 C1.6,3.2 2.3,0.8 3.5,0.8 Z" fill="url(#gm)"/><g clip-path="url(#cm)" fill="#8a8a8a" opacity="0.45"><ellipse cx="4.26" cy="12.75" rx="1.08" ry="1.35"/><ellipse cx="3.93" cy="8.05" rx="1.01" ry="0.69"/><ellipse cx="2.77" cy="14.05" rx="1.01" ry="0.65"/></g><g clip-path="url(#cm)"><ellipse cx="1.5" cy="14" rx="1" ry="1" fill="#6608f0"/></g></g>
<g transform="translate(349.40,131.40) scale(1.0286,1.0000)"><rect width="7" height="18" fill="#242424"/><path d="M1.6,16.2 L1.0,17.6 M2.6,16.4 L2.4,17.7 M4.4,16.4 L4.6,17.7 M5.4,16.2 L6.0,17.6" stroke="#777" stroke-width="0.45"/><path d="M3.5,0.8 C4.7,0.8 5.4,3.2 6.0,5.6 C6.6,8.2 6.7,11.5 6.55,13.5 C6.35,15.2 5.6,16.3 4.8,16.6 L2.2,16.6 C1.4,16.3 0.65,15.2 0.45,13.5 C0.3,11.5 0.4,8.2 1.0,5.6 C1.6,3.2 2.3,0.8 3.5,0.8 Z" fill="url(#gm)"/><g clip-path="url(#cm)" fill="#8a8a8a" opacity="0.45"><ellipse cx="1.97" cy="6.57" rx="0.95" ry="1.08"/><ellipse cx="2.22" cy="3.96" rx="0.91" ry="1.17"/><ellipse cx="1.64" cy="12.06" rx="0.99" ry="0.63"/></g><g clip-path="url(#cm)"><ellipse cx="3.5" cy="4" rx="1" ry="1" fill="#6608f0"/></g></g>
<g transform="translate(357.60,131.40) scale(1.0286,1.0000)"><rect width="7" height="18" fill="#242424"/><path d="M1.6,16.2 L1.0,17.6 M2.6,16.4 L2.4,17.7 M4.4,16.4 L4.6,17.7 M5.4,16.2 L6.0,17.6" stroke="#777" stroke-width="0.45"/><path d="M3.5,0.8 C4.7,0.8 5.4,3.2 6.0,5.6 C6.6,8.2 6.7,11.5 6.55,13.5 C6.35,15.2 5.6,16.3 4.8,16.6 L2.2,16.6 C1.4,16.3 0.65,15.2 0.45,13.5 C0.3,11.5 0.4,8.2 1.0,5.6 C1.6,3.2 2.3,0.8 3.5,0.8 Z" fill="url(#gm)"/><g clip-path="url(#cm)" fill="#8a8a8a" opacity="0.45"><ellipse cx="3.28" cy="8.87" rx="1.02" ry="1.11"/><ellipse cx="5.53" cy="8.95" rx="0.58" ry="0.83"/><ellipse cx="3.58" cy="7.69" rx="0.67" ry="1.07"/></g></g>
<g transform="translate(365.80,131.40) scale(1.0286,1.0000)"><rect width="7" height="18" fill="#242424"/><path d="M1.6,16.2 L1.0,17.6 M2.6,16.4 L2.4,17.7 M4.4,16.4 L4.6,17.7 M5.4,16.2 L6.0,17.6" stroke="#777" stroke-width="0.45"/><path d="M3.5,0.8 C4.7,0.8 5.4,3.2 6.0,5.6 C6.6,8.2 6.7,11.5 6.55,13.5 C6.35,15.2 5.6,16.3 4.8,16.6 L2.2,16.6 C1.4,16.3 0.65,15.2 0.45,13.5 C0.3,11.5 0.4,8.2 1.0,5.6 C1.6,3.2 2.3,0.8 3.5,0.8 Z" fill="url(#gm)"/><g clip-path="url(#cm)" fill="#8a8a8a" opacity="0.45"><ellipse cx="4.10" cy="3.86" rx="0.68" ry="1.10"/><ellipse cx="4.18" cy="9.56" rx="0.62" ry="0.61"/><ellipse cx="5.36" cy="5.87" rx="0.70" ry="1.12"/></g><g clip-path="url(#cm)"><ellipse cx="4.5" cy="12" rx="0.8" ry="0.8" fill="#6608f0"/></g></g>
<g transform="translate(374.00,131.40) scale(1.0286,1.0000)"><rect width="7" height="18" fill="#242424"/><path d="M1.6,16.2 L1.0,17.6 M2.6,16.4 L2.4,17.7 M4.4,16.4 L4.6,17.7 M5.4,16.2 L6.0,17.6" stroke="#777" stroke-width="0.45"/><path d="M3.5,0.8 C4.7,0.8 5.4,3.2 6.0,5.6 C6.6,8.2 6.7,11.5 6.55,13.5 C6.35,15.2 5.6,16.3 4.8,16.6 L2.2,16.6 C1.4,16.3 0.65,15.2 0.45,13.5 C0.3,11.5 0.4,8.2 1.0,5.6 C1.6,3.2 2.3,0.8 3.5,0.8 Z" fill="url(#gm)"/><g clip-path="url(#cm)" fill="#8a8a8a" opacity="0.45"><ellipse cx="5.71" cy="10.07" rx="1.07" ry="1.13"/><ellipse cx="5.50" cy="14.54" rx="0.85" ry="1.59"/><ellipse cx="4.03" cy="8.36" rx="0.61" ry="0.75"/></g><g clip-path="url(#cm)"><ellipse cx="2" cy="13" rx="0.8" ry="0.8" fill="#6608f0"/></g></g>
<g transform="translate(341.20,151.50) scale(1.0286,1.0000)"><rect width="7" height="18" fill="#242424"/><path d="M1.6,16.2 L1.0,17.6 M2.6,16.4 L2.4,17.7 M4.4,16.4 L4.6,17.7 M5.4,16.2 L6.0,17.6" stroke="#777" stroke-width="0.45"/><path d="M3.5,0.8 C4.7,0.8 5.4,3.2 6.0,5.6 C6.6,8.2 6.7,11.5 6.55,13.5 C6.35,15.2 5.6,16.3 4.8,16.6 L2.2,16.6 C1.4,16.3 0.65,15.2 0.45,13.5 C0.3,11.5 0.4,8.2 1.0,5.6 C1.6,3.2 2.3,0.8 3.5,0.8 Z" fill="url(#gm)"/><g clip-path="url(#cm)" fill="#8a8a8a" opacity="0.45"><ellipse cx="4.88" cy="8.59" rx="0.89" ry="1.07"/><ellipse cx="1.47" cy="8.74" rx="0.58" ry="0.73"/><ellipse cx="2.41" cy="14.63" rx="0.94" ry="1.18"/></g><g clip-path="url(#cm)"><ellipse cx="2.5" cy="10" rx="2.5" ry="5" fill="#6608f0"/></g></g>
<g transform="translate(349.40,151.50) scale(1.0286,1.0000)"><rect width="7" height="18" fill="#242424"/><path d="M1.6,16.2 L1.0,17.6 M2.6,16.4 L2.4,17.7 M4.4,16.4 L4.6,17.7 M5.4,16.2 L6.0,17.6" stroke="#777" stroke-width="0.45"/><path d="M3.5,0.8 C4.7,0.8 5.4,3.2 6.0,5.6 C6.6,8.2 6.7,11.5 6.55,13.5 C6.35,15.2 5.6,16.3 4.8,16.6 L2.2,16.6 C1.4,16.3 0.65,15.2 0.45,13.5 C0.3,11.5 0.4,8.2 1.0,5.6 C1.6,3.2 2.3,0.8 3.5,0.8 Z" fill="url(#gm)"/><g clip-path="url(#cm)" fill="#8a8a8a" opacity="0.45"><ellipse cx="3.03" cy="4.30" rx="0.55" ry="0.81"/><ellipse cx="4.25" cy="5.82" rx="0.68" ry="1.28"/><ellipse cx="4.40" cy="8.08" rx="0.58" ry="1.06"/></g><g clip-path="url(#cm)"><ellipse cx="4" cy="4" rx="1" ry="1" fill="#6608f0"/><ellipse cx="3" cy="13" rx="1" ry="1" fill="#6608f0"/></g></g>
<g transform="translate(357.60,151.50) scale(1.0286,1.0000)"><rect width="7" height="18" fill="#242424"/><path d="M1.6,16.2 L1.0,17.6 M2.6,16.4 L2.4,17.7 M4.4,16.4 L4.6,17.7 M5.4,16.2 L6.0,17.6" stroke="#777" stroke-width="0.45"/><path d="M3.5,0.8 C4.7,0.8 5.4,3.2 6.0,5.6 C6.6,8.2 6.7,11.5 6.55,13.5 C6.35,15.2 5.6,16.3 4.8,16.6 L2.2,16.6 C1.4,16.3 0.65,15.2 0.45,13.5 C0.3,11.5 0.4,8.2 1.0,5.6 C1.6,3.2 2.3,0.8 3.5,0.8 Z" fill="url(#gm)"/><g clip-path="url(#cm)" fill="#8a8a8a" opacity="0.45"><ellipse cx="3.56" cy="14.33" rx="0.50" ry="0.60"/><ellipse cx="3.09" cy="5.70" rx="0.85" ry="1.14"/><ellipse cx="1.35" cy="5.80" rx="0.64" ry="1.42"/></g><g clip-path="url(#cm)"><ellipse cx="3" cy="14" rx="1.5" ry="1.5" fill="#6608f0"/></g></g>
<g transform="translate(365.80,151.50) scale(1.0286,1.0000)"><rect width="7" height="18" fill="#242424"/><path d="M1.6,16.2 L1.0,17.6 M2.6,16.4 L2.4,17.7 M4.4,16.4 L4.6,17.7 M5.4,16.2 L6.0,17.6" stroke="#777" stroke-width="0.45"/><path d="M3.5,0.8 C4.7,0.8 5.4,3.2 6.0,5.6 C6.6,8.2 6.7,11.5 6.55,13.5 C6.35,15.2 5.6,16.3 4.8,16.6 L2.2,16.6 C1.4,16.3 0.65,15.2 0.45,13.5 C0.3,11.5 0.4,8.2 1.0,5.6 C1.6,3.2 2.3,0.8 3.5,0.8 Z" fill="url(#gm)"/><g clip-path="url(#cm)" fill="#8a8a8a" opacity="0.45"><ellipse cx="5.78" cy="12.58" rx="0.88" ry="0.84"/><ellipse cx="4.33" cy="4.19" rx="1.04" ry="0.91"/><ellipse cx="3.24" cy="9.02" rx="0.83" ry="0.92"/></g><g clip-path="url(#cm)"><ellipse cx="3.5" cy="11" rx="3" ry="4" fill="#6608f0"/></g></g>
<g transform="translate(374.00,151.50) scale(1.0286,1.0000)"><rect width="7" height="18" fill="#242424"/><path d="M1.6,16.2 L1.0,17.6 M2.6,16.4 L2.4,17.7 M4.4,16.4 L4.6,17.7 M5.4,16.2 L6.0,17.6" stroke="#777" stroke-width="0.45"/><path d="M3.5,0.8 C4.7,0.8 5.4,3.2 6.0,5.6 C6.6,8.2 6.7,11.5 6.55,13.5 C6.35,15.2 5.6,16.3 4.8,16.6 L2.2,16.6 C1.4,16.3 0.65,15.2 0.45,13.5 C0.3,11.5 0.4,8.2 1.0,5.6 C1.6,3.2 2.3,0.8 3.5,0.8 Z" fill="url(#gm)"/><g clip-path="url(#cm)" fill="#8a8a8a" opacity="0.45"><ellipse cx="4.34" cy="10.00" rx="0.61" ry="1.44"/><ellipse cx="3.98" cy="12.77" rx="0.77" ry="1.21"/><ellipse cx="2.24" cy="5.37" rx="0.88" ry="1.28"/></g><g clip-path="url(#cm)"><ellipse cx="4" cy="10" rx="2.2" ry="5" fill="#6608f0"/></g></g>
<g transform="translate(341.20,171.40) scale(1.0286,1.0000)"><rect width="7" height="18" fill="#242424"/><path d="M1.6,16.2 L1.0,17.6 M2.6,16.4 L2.4,17.7 M4.4,16.4 L4.6,17.7 M5.4,16.2 L6.0,17.6" stroke="#777" stroke-width="0.45"/><path d="M3.5,0.8 C4.7,0.8 5.4,3.2 6.0,5.6 C6.6,8.2 6.7,11.5 6.55,13.5 C6.35,15.2 5.6,16.3 4.8,16.6 L2.2,16.6 C1.4,16.3 0.65,15.2 0.45,13.5 C0.3,11.5 0.4,8.2 1.0,5.6 C1.6,3.2 2.3,0.8 3.5,0.8 Z" fill="url(#gm)"/><g clip-path="url(#cm)" fill="#8a8a8a" opacity="0.45"><ellipse cx="5.78" cy="14.56" rx="0.54" ry="0.92"/><ellipse cx="3.89" cy="11.46" rx="0.60" ry="1.42"/><ellipse cx="2.81" cy="13.36" rx="1.05" ry="1.50"/></g><g clip-path="url(#cm)"><ellipse cx="2.2" cy="10" rx="2.2" ry="6" fill="#6608f0"/></g></g>
<g transform="translate(349.40,171.40) scale(1.0286,1.0000)"><rect width="7" height="18" fill="#242424"/><path d="M1.6,16.2 L1.0,17.6 M2.6,16.4 L2.4,17.7 M4.4,16.4 L4.6,17.7 M5.4,16.2 L6.0,17.6" stroke="#777" stroke-width="0.45"/><path d="M3.5,0.8 C4.7,0.8 5.4,3.2 6.0,5.6 C6.6,8.2 6.7,11.5 6.55,13.5 C6.35,15.2 5.6,16.3 4.8,16.6 L2.2,16.6 C1.4,16.3 0.65,15.2 0.45,13.5 C0.3,11.5 0.4,8.2 1.0,5.6 C1.6,3.2 2.3,0.8 3.5,0.8 Z" fill="url(#gm)"/><g clip-path="url(#cm)" fill="#8a8a8a" opacity="0.45"><ellipse cx="3.78" cy="13.27" rx="0.89" ry="1.58"/><ellipse cx="4.44" cy="9.22" rx="1.00" ry="0.91"/><ellipse cx="1.79" cy="4.79" rx="1.08" ry="1.30"/></g><g clip-path="url(#cm)"><ellipse cx="3.5" cy="5" rx="1" ry="1" fill="#6608f0"/></g></g>
<g transform="translate(357.60,171.40) scale(1.0286,1.0000)"><rect width="7" height="18" fill="#242424"/><path d="M1.6,16.2 L1.0,17.6 M2.6,16.4 L2.4,17.7 M4.4,16.4 L4.6,17.7 M5.4,16.2 L6.0,17.6" stroke="#777" stroke-width="0.45"/><path d="M3.5,0.8 C4.7,0.8 5.4,3.2 6.0,5.6 C6.6,8.2 6.7,11.5 6.55,13.5 C6.35,15.2 5.6,16.3 4.8,16.6 L2.2,16.6 C1.4,16.3 0.65,15.2 0.45,13.5 C0.3,11.5 0.4,8.2 1.0,5.6 C1.6,3.2 2.3,0.8 3.5,0.8 Z" fill="url(#gm)"/><g clip-path="url(#cm)" fill="#8a8a8a" opacity="0.45"><ellipse cx="3.25" cy="11.06" rx="0.86" ry="1.30"/><ellipse cx="3.04" cy="11.50" rx="0.86" ry="1.06"/><ellipse cx="2.62" cy="11.48" rx="0.96" ry="1.03"/></g><g clip-path="url(#cm)"><ellipse cx="3.5" cy="14" rx="2" ry="2" fill="#6608f0"/></g></g>
<g transform="translate(365.80,171.40) scale(1.0286,1.0000)"><rect width="7" height="18" fill="#242424"/><path d="M1.6,16.2 L1.0,17.6 M2.6,16.4 L2.4,17.7 M4.4,16.4 L4.6,17.7 M5.4,16.2 L6.0,17.6" stroke="#777" stroke-width="0.45"/><path d="M3.5,0.8 C4.7,0.8 5.4,3.2 6.0,5.6 C6.6,8.2 6.7,11.5 6.55,13.5 C6.35,15.2 5.6,16.3 4.8,16.6 L2.2,16.6 C1.4,16.3 0.65,15.2 0.45,13.5 C0.3,11.5 0.4,8.2 1.0,5.6 C1.6,3.2 2.3,0.8 3.5,0.8 Z" fill="url(#gm)"/><g clip-path="url(#cm)" fill="#8a8a8a" opacity="0.45"><ellipse cx="1.81" cy="8.29" rx="0.84" ry="1.25"/><ellipse cx="5.27" cy="10.51" rx="0.60" ry="1.28"/><ellipse cx="5.78" cy="8.81" rx="0.67" ry="0.90"/></g><g clip-path="url(#cm)"><ellipse cx="3.8" cy="10" rx="2.8" ry="5" fill="#6608f0"/></g></g>
<g transform="translate(374.00,171.40) scale(1.0286,1.0000)"><rect width="7" height="18" fill="#242424"/><path d="M1.6,16.2 L1.0,17.6 M2.6,16.4 L2.4,17.7 M4.4,16.4 L4.6,17.7 M5.4,16.2 L6.0,17.6" stroke="#777" stroke-width="0.45"/><path d="M3.5,0.8 C4.7,0.8 5.4,3.2 6.0,5.6 C6.6,8.2 6.7,11.5 6.55,13.5 C6.35,15.2 5.6,16.3 4.8,16.6 L2.2,16.6 C1.4,16.3 0.65,15.2 0.45,13.5 C0.3,11.5 0.4,8.2 1.0,5.6 C1.6,3.2 2.3,0.8 3.5,0.8 Z" fill="url(#gm)"/><g clip-path="url(#cm)" fill="#8a8a8a" opacity="0.45"><ellipse cx="3.25" cy="13.76" rx="1.02" ry="0.87"/><ellipse cx="2.91" cy="5.46" rx="0.77" ry="1.23"/><ellipse cx="5.75" cy="10.35" rx="0.83" ry="1.26"/></g><g clip-path="url(#cm)"><ellipse cx="3.5" cy="11" rx="2.5" ry="5" fill="#6608f0"/></g></g>
<g transform="translate(384.40,111.10) scale(1.0286,1.0000)"><rect width="7" height="18" fill="#242424"/><path d="M1.6,16.2 L1.0,17.6 M2.6,16.4 L2.4,17.7 M4.4,16.4 L4.6,17.7 M5.4,16.2 L6.0,17.6" stroke="#777" stroke-width="0.45"/><path d="M3.5,0.8 C4.7,0.8 5.4,3.2 6.0,5.6 C6.6,8.2 6.7,11.5 6.55,13.5 C6.35,15.2 5.6,16.3 4.8,16.6 L2.2,16.6 C1.4,16.3 0.65,15.2 0.45,13.5 C0.3,11.5 0.4,8.2 1.0,5.6 C1.6,3.2 2.3,0.8 3.5,0.8 Z" fill="url(#gm)"/><g clip-path="url(#cm)" fill="#8a8a8a" opacity="0.45"><ellipse cx="2.46" cy="11.53" rx="0.52" ry="1.59"/><ellipse cx="4.35" cy="8.78" rx="0.59" ry="0.65"/><ellipse cx="5.60" cy="13.87" rx="0.74" ry="1.16"/></g><ellipse cx="3.3" cy="7.0" rx="2.6" ry="3.4" fill="#6608f0"/><ellipse cx="2.5" cy="12.5" rx="2.2" ry="2.6" fill="#6608f0"/><ellipse cx="5.0" cy="14.0" rx="1.6" ry="1.4" fill="#6608f0"/><ellipse cx="3.2" cy="10.2" rx="1.0" ry="0.6" fill="#f4f4f4"/></g>
<g transform="translate(392.60,111.10) scale(1.0286,1.0000)"><rect width="7" height="18" fill="#242424"/><path d="M1.6,16.2 L1.0,17.6 M2.6,16.4 L2.4,17.7 M4.4,16.4 L4.6,17.7 M5.4,16.2 L6.0,17.6" stroke="#777" stroke-width="0.45"/><path d="M3.5,0.8 C4.7,0.8 5.4,3.2 6.0,5.6 C6.6,8.2 6.7,11.5 6.55,13.5 C6.35,15.2 5.6,16.3 4.8,16.6 L2.2,16.6 C1.4,16.3 0.65,15.2 0.45,13.5 C0.3,11.5 0.4,8.2 1.0,5.6 C1.6,3.2 2.3,0.8 3.5,0.8 Z" fill="url(#gm)"/><g clip-path="url(#cm)" fill="#8a8a8a" opacity="0.45"><ellipse cx="4.19" cy="12.93" rx="0.65" ry="0.82"/><ellipse cx="1.61" cy="4.60" rx="0.57" ry="1.37"/><ellipse cx="3.60" cy="11.82" rx="0.77" ry="0.99"/></g><ellipse cx="3.0" cy="6.5" rx="2.0" ry="3.2" fill="#6608f0"/><ellipse cx="4.8" cy="9.5" rx="1.5" ry="1.6" fill="#6608f0"/><ellipse cx="3.5" cy="13.5" rx="3.6" ry="2.0" fill="#6608f0"/><ellipse cx="3.2" cy="10.2" rx="1.0" ry="0.6" fill="#f4f4f4"/></g>
<g transform="translate(400.80,111.10) scale(1.0286,1.0000)"><rect width="7" height="18" fill="#242424"/><path d="M1.6,16.2 L1.0,17.6 M2.6,16.4 L2.4,17.7 M4.4,16.4 L4.6,17.7 M5.4,16.2 L6.0,17.6" stroke="#777" stroke-width="0.45"/><path d="M3.5,0.8 C4.7,0.8 5.4,3.2 6.0,5.6 C6.6,8.2 6.7,11.5 6.55,13.5 C6.35,15.2 5.6,16.3 4.8,16.6 L2.2,16.6 C1.4,16.3 0.65,15.2 0.45,13.5 C0.3,11.5 0.4,8.2 1.0,5.6 C1.6,3.2 2.3,0.8 3.5,0.8 Z" fill="url(#gm)"/><g clip-path="url(#cm)" fill="#8a8a8a" opacity="0.45"><ellipse cx="2.02" cy="6.87" rx="1.01" ry="0.91"/><ellipse cx="2.81" cy="14.61" rx="0.89" ry="1.21"/><ellipse cx="3.32" cy="8.63" rx="0.74" ry="1.39"/></g><ellipse cx="3.8" cy="7.5" rx="2.8" ry="4.2" fill="#6608f0"/><ellipse cx="3.0" cy="13.5" rx="2.8" ry="2.2" fill="#6608f0"/><ellipse cx="3.2" cy="10.2" rx="1.0" ry="0.6" fill="#f4f4f4"/></g>
<g transform="translate(409.00,111.10) scale(1.0286,1.0000)"><rect width="7" height="18" fill="#242424"/><path d="M1.6,16.2 L1.0,17.6 M2.6,16.4 L2.4,17.7 M4.4,16.4 L4.6,17.7 M5.4,16.2 L6.0,17.6" stroke="#777" stroke-width="0.45"/><path d="M3.5,0.8 C4.7,0.8 5.4,3.2 6.0,5.6 C6.6,8.2 6.7,11.5 6.55,13.5 C6.35,15.2 5.6,16.3 4.8,16.6 L2.2,16.6 C1.4,16.3 0.65,15.2 0.45,13.5 C0.3,11.5 0.4,8.2 1.0,5.6 C1.6,3.2 2.3,0.8 3.5,0.8 Z" fill="url(#gm)"/><g clip-path="url(#cm)" fill="#8a8a8a" opacity="0.45"><ellipse cx="4.24" cy="8.20" rx="0.55" ry="1.43"/><ellipse cx="4.48" cy="9.08" rx="0.68" ry="1.03"/><ellipse cx="3.81" cy="9.57" rx="0.83" ry="1.22"/></g><ellipse cx="3.6" cy="5.5" rx="1.8" ry="2.8" fill="#6608f0"/><ellipse cx="2.0" cy="9.5" rx="1.6" ry="1.8" fill="#6608f0"/><ellipse cx="4.6" cy="11.5" rx="1.5" ry="1.4" fill="#6608f0"/><ellipse cx="3.5" cy="14.0" rx="3.4" ry="1.6" fill="#6608f0"/><ellipse cx="3.2" cy="10.2" rx="1.0" ry="0.6" fill="#f4f4f4"/></g>
<g transform="translate(417.20,111.10) scale(1.0286,1.0000)"><rect width="7" height="18" fill="#242424"/><path d="M1.6,16.2 L1.0,17.6 M2.6,16.4 L2.4,17.7 M4.4,16.4 L4.6,17.7 M5.4,16.2 L6.0,17.6" stroke="#777" stroke-width="0.45"/><path d="M3.5,0.8 C4.7,0.8 5.4,3.2 6.0,5.6 C6.6,8.2 6.7,11.5 6.55,13.5 C6.35,15.2 5.6,16.3 4.8,16.6 L2.2,16.6 C1.4,16.3 0.65,15.2 0.45,13.5 C0.3,11.5 0.4,8.2 1.0,5.6 C1.6,3.2 2.3,0.8 3.5,0.8 Z" fill="url(#gm)"/><g clip-path="url(#cm)" fill="#8a8a8a" opacity="0.45"><ellipse cx="5.01" cy="4.88" rx="0.52" ry="0.85"/><ellipse cx="4.88" cy="14.74" rx="0.66" ry="0.97"/><ellipse cx="2.83" cy="3.66" rx="0.79" ry="1.11"/></g><ellipse cx="4.2" cy="6.2" rx="1.6" ry="2.6" fill="#6608f0"/><ellipse cx="2.2" cy="10.0" rx="1.4" ry="1.6" fill="#6608f0"/><ellipse cx="3.8" cy="13.8" rx="3.0" ry="1.8" fill="#6608f0"/><ellipse cx="3.2" cy="10.2" rx="1.0" ry="0.6" fill="#f4f4f4"/></g>
<g transform="translate(384.40,131.40) scale(1.0286,1.0000)"><rect width="7" height="18" fill="#242424"/><path d="M1.6,16.2 L1.0,17.6 M2.6,16.4 L2.4,17.7 M4.4,16.4 L4.6,17.7 M5.4,16.2 L6.0,17.6" stroke="#777" stroke-width="0.45"/><path d="M3.5,0.8 C4.7,0.8 5.4,3.2 6.0,5.6 C6.6,8.2 6.7,11.5 6.55,13.5 C6.35,15.2 5.6,16.3 4.8,16.6 L2.2,16.6 C1.4,16.3 0.65,15.2 0.45,13.5 C0.3,11.5 0.4,8.2 1.0,5.6 C1.6,3.2 2.3,0.8 3.5,0.8 Z" fill="url(#gm)"/><g clip-path="url(#cm)" fill="#8a8a8a" opacity="0.45"><ellipse cx="3.59" cy="5.75" rx="0.68" ry="0.84"/><ellipse cx="1.37" cy="5.38" rx="0.86" ry="1.22"/><ellipse cx="4.59" cy="6.02" rx="0.82" ry="0.66"/></g></g>
<g transform="translate(392.60,131.40) scale(1.0286,1.0000)"><rect width="7" height="18" fill="#242424"/><path d="M1.6,16.2 L1.0,17.6 M2.6,16.4 L2.4,17.7 M4.4,16.4 L4.6,17.7 M5.4,16.2 L6.0,17.6" stroke="#777" stroke-width="0.45"/><path d="M3.5,0.8 C4.7,0.8 5.4,3.2 6.0,5.6 C6.6,8.2 6.7,11.5 6.55,13.5 C6.35,15.2 5.6,16.3 4.8,16.6 L2.2,16.6 C1.4,16.3 0.65,15.2 0.45,13.5 C0.3,11.5 0.4,8.2 1.0,5.6 C1.6,3.2 2.3,0.8 3.5,0.8 Z" fill="url(#gm)"/><g clip-path="url(#cm)" fill="#8a8a8a" opacity="0.45"><ellipse cx="3.77" cy="10.67" rx="1.01" ry="1.15"/><ellipse cx="2.11" cy="11.53" rx="0.82" ry="1.48"/><ellipse cx="4.48" cy="14.63" rx="0.96" ry="0.65"/></g></g>
<g transform="translate(400.80,131.40) scale(1.0286,1.0000)"><rect width="7" height="18" fill="#242424"/><path d="M1.6,16.2 L1.0,17.6 M2.6,16.4 L2.4,17.7 M4.4,16.4 L4.6,17.7 M5.4,16.2 L6.0,17.6" stroke="#777" stroke-width="0.45"/><path d="M3.5,0.8 C4.7,0.8 5.4,3.2 6.0,5.6 C6.6,8.2 6.7,11.5 6.55,13.5 C6.35,15.2 5.6,16.3 4.8,16.6 L2.2,16.6 C1.4,16.3 0.65,15.2 0.45,13.5 C0.3,11.5 0.4,8.2 1.0,5.6 C1.6,3.2 2.3,0.8 3.5,0.8 Z" fill="url(#gm)"/><g clip-path="url(#cm)" fill="#8a8a8a" opacity="0.45"><ellipse cx="4.89" cy="6.47" rx="0.76" ry="0.88"/><ellipse cx="4.32" cy="14.71" rx="0.79" ry="1.11"/><ellipse cx="4.15" cy="13.55" rx="0.55" ry="1.10"/></g></g>
<g transform="translate(409.00,131.40) scale(1.0286,1.0000)"><rect width="7" height="18" fill="#242424"/><path d="M1.6,16.2 L1.0,17.6 M2.6,16.4 L2.4,17.7 M4.4,16.4 L4.6,17.7 M5.4,16.2 L6.0,17.6" stroke="#777" stroke-width="0.45"/><path d="M3.5,0.8 C4.7,0.8 5.4,3.2 6.0,5.6 C6.6,8.2 6.7,11.5 6.55,13.5 C6.35,15.2 5.6,16.3 4.8,16.6 L2.2,16.6 C1.4,16.3 0.65,15.2 0.45,13.5 C0.3,11.5 0.4,8.2 1.0,5.6 C1.6,3.2 2.3,0.8 3.5,0.8 Z" fill="url(#gm)"/><g clip-path="url(#cm)" fill="#8a8a8a" opacity="0.45"><ellipse cx="4.23" cy="13.09" rx="0.82" ry="1.24"/><ellipse cx="4.16" cy="4.51" rx="0.78" ry="0.80"/><ellipse cx="4.97" cy="13.70" rx="0.64" ry="0.73"/></g></g>
<g transform="translate(417.20,131.40) scale(1.0286,1.0000)"><rect width="7" height="18" fill="#242424"/><path d="M1.6,16.2 L1.0,17.6 M2.6,16.4 L2.4,17.7 M4.4,16.4 L4.6,17.7 M5.4,16.2 L6.0,17.6" stroke="#777" stroke-width="0.45"/><path d="M3.5,0.8 C4.7,0.8 5.4,3.2 6.0,5.6 C6.6,8.2 6.7,11.5 6.55,13.5 C6.35,15.2 5.6,16.3 4.8,16.6 L2.2,16.6 C1.4,16.3 0.65,15.2 0.45,13.5 C0.3,11.5 0.4,8.2 1.0,5.6 C1.6,3.2 2.3,0.8 3.5,0.8 Z" fill="url(#gm)"/><g clip-path="url(#cm)" fill="#8a8a8a" opacity="0.45"><ellipse cx="1.69" cy="10.58" rx="0.82" ry="0.84"/><ellipse cx="3.68" cy="12.41" rx="0.83" ry="1.11"/><ellipse cx="3.66" cy="12.96" rx="1.03" ry="0.88"/></g></g>
<g transform="translate(384.40,151.50) scale(1.0286,1.0000)"><rect width="7" height="18" fill="#242424"/><path d="M1.6,16.2 L1.0,17.6 M2.6,16.4 L2.4,17.7 M4.4,16.4 L4.6,17.7 M5.4,16.2 L6.0,17.6" stroke="#777" stroke-width="0.45"/><path d="M3.5,0.8 C4.7,0.8 5.4,3.2 6.0,5.6 C6.6,8.2 6.7,11.5 6.55,13.5 C6.35,15.2 5.6,16.3 4.8,16.6 L2.2,16.6 C1.4,16.3 0.65,15.2 0.45,13.5 C0.3,11.5 0.4,8.2 1.0,5.6 C1.6,3.2 2.3,0.8 3.5,0.8 Z" fill="url(#gm)"/><g clip-path="url(#cm)" fill="#8a8a8a" opacity="0.45"><ellipse cx="5.47" cy="7.59" rx="0.67" ry="0.70"/><ellipse cx="3.46" cy="7.10" rx="0.71" ry="1.00"/><ellipse cx="3.65" cy="13.33" rx="1.05" ry="0.89"/></g><g clip-path="url(#cm)"><ellipse cx="1.8" cy="13" rx="1.2" ry="1" fill="#6608f0"/></g></g>
<g transform="translate(392.60,151.50) scale(1.0286,1.0000)"><rect width="7" height="18" fill="#242424"/><path d="M1.6,16.2 L1.0,17.6 M2.6,16.4 L2.4,17.7 M4.4,16.4 L4.6,17.7 M5.4,16.2 L6.0,17.6" stroke="#777" stroke-width="0.45"/><path d="M3.5,0.8 C4.7,0.8 5.4,3.2 6.0,5.6 C6.6,8.2 6.7,11.5 6.55,13.5 C6.35,15.2 5.6,16.3 4.8,16.6 L2.2,16.6 C1.4,16.3 0.65,15.2 0.45,13.5 C0.3,11.5 0.4,8.2 1.0,5.6 C1.6,3.2 2.3,0.8 3.5,0.8 Z" fill="url(#gm)"/><g clip-path="url(#cm)" fill="#8a8a8a" opacity="0.45"><ellipse cx="3.48" cy="14.25" rx="0.69" ry="1.15"/><ellipse cx="1.29" cy="11.19" rx="0.75" ry="1.11"/><ellipse cx="3.73" cy="10.63" rx="0.57" ry="0.68"/></g></g>
<g transform="translate(400.80,151.50) scale(1.0286,1.0000)"><rect width="7" height="18" fill="#242424"/><path d="M1.6,16.2 L1.0,17.6 M2.6,16.4 L2.4,17.7 M4.4,16.4 L4.6,17.7 M5.4,16.2 L6.0,17.6" stroke="#777" stroke-width="0.45"/><path d="M3.5,0.8 C4.7,0.8 5.4,3.2 6.0,5.6 C6.6,8.2 6.7,11.5 6.55,13.5 C6.35,15.2 5.6,16.3 4.8,16.6 L2.2,16.6 C1.4,16.3 0.65,15.2 0.45,13.5 C0.3,11.5 0.4,8.2 1.0,5.6 C1.6,3.2 2.3,0.8 3.5,0.8 Z" fill="url(#gm)"/><g clip-path="url(#cm)" fill="#8a8a8a" opacity="0.45"><ellipse cx="1.81" cy="8.45" rx="0.78" ry="0.95"/><ellipse cx="2.08" cy="4.16" rx="1.04" ry="1.04"/><ellipse cx="3.08" cy="3.17" rx="0.65" ry="0.70"/></g></g>
<g transform="translate(409.00,151.50) scale(1.0286,1.0000)"><rect width="7" height="18" fill="#242424"/><path d="M1.6,16.2 L1.0,17.6 M2.6,16.4 L2.4,17.7 M4.4,16.4 L4.6,17.7 M5.4,16.2 L6.0,17.6" stroke="#777" stroke-width="0.45"/><path d="M3.5,0.8 C4.7,0.8 5.4,3.2 6.0,5.6 C6.6,8.2 6.7,11.5 6.55,13.5 C6.35,15.2 5.6,16.3 4.8,16.6 L2.2,16.6 C1.4,16.3 0.65,15.2 0.45,13.5 C0.3,11.5 0.4,8.2 1.0,5.6 C1.6,3.2 2.3,0.8 3.5,0.8 Z" fill="url(#gm)"/><g clip-path="url(#cm)" fill="#8a8a8a" opacity="0.45"><ellipse cx="3.54" cy="4.43" rx="0.63" ry="0.97"/><ellipse cx="1.45" cy="13.05" rx="0.81" ry="1.01"/><ellipse cx="3.50" cy="8.67" rx="0.93" ry="1.21"/></g><g clip-path="url(#cm)"><ellipse cx="4" cy="12" rx="0.9" ry="0.9" fill="#6608f0"/></g></g>
<g transform="translate(417.20,151.50) scale(1.0286,1.0000)"><rect width="7" height="18" fill="#242424"/><path d="M1.6,16.2 L1.0,17.6 M2.6,16.4 L2.4,17.7 M4.4,16.4 L4.6,17.7 M5.4,16.2 L6.0,17.6" stroke="#777" stroke-width="0.45"/><path d="M3.5,0.8 C4.7,0.8 5.4,3.2 6.0,5.6 C6.6,8.2 6.7,11.5 6.55,13.5 C6.35,15.2 5.6,16.3 4.8,16.6 L2.2,16.6 C1.4,16.3 0.65,15.2 0.45,13.5 C0.3,11.5 0.4,8.2 1.0,5.6 C1.6,3.2 2.3,0.8 3.5,0.8 Z" fill="url(#gm)"/><g clip-path="url(#cm)" fill="#8a8a8a" opacity="0.45"><ellipse cx="2.29" cy="3.61" rx="1.00" ry="0.85"/><ellipse cx="4.01" cy="13.87" rx="0.64" ry="0.82"/><ellipse cx="2.63" cy="7.06" rx="0.71" ry="1.60"/></g></g>
<g transform="translate(384.40,171.40) scale(1.0286,1.0000)"><rect width="7" height="18" fill="#242424"/><path d="M1.6,16.2 L1.0,17.6 M2.6,16.4 L2.4,17.7 M4.4,16.4 L4.6,17.7 M5.4,16.2 L6.0,17.6" stroke="#777" stroke-width="0.45"/><path d="M3.5,0.8 C4.7,0.8 5.4,3.2 6.0,5.6 C6.6,8.2 6.7,11.5 6.55,13.5 C6.35,15.2 5.6,16.3 4.8,16.6 L2.2,16.6 C1.4,16.3 0.65,15.2 0.45,13.5 C0.3,11.5 0.4,8.2 1.0,5.6 C1.6,3.2 2.3,0.8 3.5,0.8 Z" fill="url(#gm)"/><g clip-path="url(#cm)" fill="#8a8a8a" opacity="0.45"><ellipse cx="4.86" cy="11.11" rx="0.53" ry="0.74"/><ellipse cx="1.48" cy="10.96" rx="0.77" ry="0.70"/><ellipse cx="2.00" cy="14.20" rx="0.84" ry="1.02"/></g><g clip-path="url(#cm)"><ellipse cx="2" cy="14" rx="1.2" ry="1" fill="#6608f0"/></g></g>
<g transform="translate(392.60,171.40) scale(1.0286,1.0000)"><rect width="7" height="18" fill="#242424"/><path d="M1.6,16.2 L1.0,17.6 M2.6,16.4 L2.4,17.7 M4.4,16.4 L4.6,17.7 M5.4,16.2 L6.0,17.6" stroke="#777" stroke-width="0.45"/><path d="M3.5,0.8 C4.7,0.8 5.4,3.2 6.0,5.6 C6.6,8.2 6.7,11.5 6.55,13.5 C6.35,15.2 5.6,16.3 4.8,16.6 L2.2,16.6 C1.4,16.3 0.65,15.2 0.45,13.5 C0.3,11.5 0.4,8.2 1.0,5.6 C1.6,3.2 2.3,0.8 3.5,0.8 Z" fill="url(#gm)"/><g clip-path="url(#cm)" fill="#8a8a8a" opacity="0.45"><ellipse cx="5.02" cy="6.04" rx="0.86" ry="0.85"/><ellipse cx="3.58" cy="13.86" rx="0.64" ry="1.27"/><ellipse cx="4.66" cy="10.10" rx="0.66" ry="0.98"/></g></g>
<g transform="translate(400.80,171.40) scale(1.0286,1.0000)"><rect width="7" height="18" fill="#242424"/><path d="M1.6,16.2 L1.0,17.6 M2.6,16.4 L2.4,17.7 M4.4,16.4 L4.6,17.7 M5.4,16.2 L6.0,17.6" stroke="#777" stroke-width="0.45"/><path d="M3.5,0.8 C4.7,0.8 5.4,3.2 6.0,5.6 C6.6,8.2 6.7,11.5 6.55,13.5 C6.35,15.2 5.6,16.3 4.8,16.6 L2.2,16.6 C1.4,16.3 0.65,15.2 0.45,13.5 C0.3,11.5 0.4,8.2 1.0,5.6 C1.6,3.2 2.3,0.8 3.5,0.8 Z" fill="url(#gm)"/><g clip-path="url(#cm)" fill="#8a8a8a" opacity="0.45"><ellipse cx="3.76" cy="11.48" rx="1.06" ry="1.22"/><ellipse cx="3.88" cy="9.49" rx="0.67" ry="1.59"/><ellipse cx="4.24" cy="3.19" rx="1.02" ry="0.79"/></g></g>
<g transform="translate(409.00,171.40) scale(1.0286,1.0000)"><rect width="7" height="18" fill="#242424"/><path d="M1.6,16.2 L1.0,17.6 M2.6,16.4 L2.4,17.7 M4.4,16.4 L4.6,17.7 M5.4,16.2 L6.0,17.6" stroke="#777" stroke-width="0.45"/><path d="M3.5,0.8 C4.7,0.8 5.4,3.2 6.0,5.6 C6.6,8.2 6.7,11.5 6.55,13.5 C6.35,15.2 5.6,16.3 4.8,16.6 L2.2,16.6 C1.4,16.3 0.65,15.2 0.45,13.5 C0.3,11.5 0.4,8.2 1.0,5.6 C1.6,3.2 2.3,0.8 3.5,0.8 Z" fill="url(#gm)"/><g clip-path="url(#cm)" fill="#8a8a8a" opacity="0.45"><ellipse cx="2.68" cy="9.48" rx="0.79" ry="1.40"/><ellipse cx="1.28" cy="4.15" rx="0.54" ry="1.58"/><ellipse cx="2.17" cy="13.94" rx="0.57" ry="1.00"/></g><g clip-path="url(#cm)"><ellipse cx="3.5" cy="11" rx="1" ry="1" fill="#6608f0"/></g></g>
<g transform="translate(417.20,171.40) scale(1.0286,1.0000)"><rect width="7" height="18" fill="#242424"/><path d="M1.6,16.2 L1.0,17.6 M2.6,16.4 L2.4,17.7 M4.4,16.4 L4.6,17.7 M5.4,16.2 L6.0,17.6" stroke="#777" stroke-width="0.45"/><path d="M3.5,0.8 C4.7,0.8 5.4,3.2 6.0,5.6 C6.6,8.2 6.7,11.5 6.55,13.5 C6.35,15.2 5.6,16.3 4.8,16.6 L2.2,16.6 C1.4,16.3 0.65,15.2 0.45,13.5 C0.3,11.5 0.4,8.2 1.0,5.6 C1.6,3.2 2.3,0.8 3.5,0.8 Z" fill="url(#gm)"/><g clip-path="url(#cm)" fill="#8a8a8a" opacity="0.45"><ellipse cx="4.24" cy="7.51" rx="0.73" ry="1.29"/><ellipse cx="2.52" cy="14.24" rx="0.51" ry="0.79"/><ellipse cx="5.24" cy="13.73" rx="0.62" ry="0.98"/></g></g>
<g transform="translate(427.80,111.10) scale(1.0286,1.0000)"><rect width="7" height="18" fill="#242424"/><path d="M1.6,16.2 L1.0,17.6 M2.6,16.4 L2.4,17.7 M4.4,16.4 L4.6,17.7 M5.4,16.2 L6.0,17.6" stroke="#777" stroke-width="0.45"/><path d="M3.5,0.8 C4.7,0.8 5.4,3.2 6.0,5.6 C6.6,8.2 6.7,11.5 6.55,13.5 C6.35,15.2 5.6,16.3 4.8,16.6 L2.2,16.6 C1.4,16.3 0.65,15.2 0.45,13.5 C0.3,11.5 0.4,8.2 1.0,5.6 C1.6,3.2 2.3,0.8 3.5,0.8 Z" fill="url(#gm)"/><g clip-path="url(#cm)" fill="#8a8a8a" opacity="0.45"><ellipse cx="5.57" cy="14.94" rx="0.52" ry="0.65"/><ellipse cx="1.91" cy="8.53" rx="0.57" ry="0.77"/><ellipse cx="5.11" cy="9.44" rx="0.71" ry="1.54"/></g><ellipse cx="3.8" cy="7.5" rx="2.8" ry="4.2" fill="#6608f0"/><ellipse cx="3.0" cy="13.5" rx="2.8" ry="2.2" fill="#6608f0"/><ellipse cx="3.2" cy="10.2" rx="1.0" ry="0.6" fill="#f4f4f4"/></g>
<g transform="translate(436.00,111.10) scale(1.0286,1.0000)"><rect width="7" height="18" fill="#242424"/><path d="M1.6,16.2 L1.0,17.6 M2.6,16.4 L2.4,17.7 M4.4,16.4 L4.6,17.7 M5.4,16.2 L6.0,17.6" stroke="#777" stroke-width="0.45"/><path d="M3.5,0.8 C4.7,0.8 5.4,3.2 6.0,5.6 C6.6,8.2 6.7,11.5 6.55,13.5 C6.35,15.2 5.6,16.3 4.8,16.6 L2.2,16.6 C1.4,16.3 0.65,15.2 0.45,13.5 C0.3,11.5 0.4,8.2 1.0,5.6 C1.6,3.2 2.3,0.8 3.5,0.8 Z" fill="url(#gm)"/><g clip-path="url(#cm)" fill="#8a8a8a" opacity="0.45"><ellipse cx="3.69" cy="12.02" rx="0.95" ry="0.84"/><ellipse cx="5.69" cy="13.16" rx="0.65" ry="0.95"/><ellipse cx="1.26" cy="10.06" rx="1.10" ry="0.77"/></g><ellipse cx="3.6" cy="5.5" rx="1.8" ry="2.8" fill="#6608f0"/><ellipse cx="2.0" cy="9.5" rx="1.6" ry="1.8" fill="#6608f0"/><ellipse cx="4.6" cy="11.5" rx="1.5" ry="1.4" fill="#6608f0"/><ellipse cx="3.5" cy="14.0" rx="3.4" ry="1.6" fill="#6608f0"/><ellipse cx="3.2" cy="10.2" rx="1.0" ry="0.6" fill="#f4f4f4"/></g>
<g transform="translate(444.20,111.10) scale(1.0286,1.0000)"><rect width="7" height="18" fill="#242424"/><path d="M1.6,16.2 L1.0,17.6 M2.6,16.4 L2.4,17.7 M4.4,16.4 L4.6,17.7 M5.4,16.2 L6.0,17.6" stroke="#777" stroke-width="0.45"/><path d="M3.5,0.8 C4.7,0.8 5.4,3.2 6.0,5.6 C6.6,8.2 6.7,11.5 6.55,13.5 C6.35,15.2 5.6,16.3 4.8,16.6 L2.2,16.6 C1.4,16.3 0.65,15.2 0.45,13.5 C0.3,11.5 0.4,8.2 1.0,5.6 C1.6,3.2 2.3,0.8 3.5,0.8 Z" fill="url(#gm)"/><g clip-path="url(#cm)" fill="#8a8a8a" opacity="0.45"><ellipse cx="1.85" cy="3.72" rx="0.96" ry="0.69"/><ellipse cx="2.79" cy="10.44" rx="0.69" ry="1.53"/><ellipse cx="5.66" cy="11.78" rx="0.70" ry="1.35"/></g><ellipse cx="4.2" cy="6.2" rx="1.6" ry="2.6" fill="#6608f0"/><ellipse cx="2.2" cy="10.0" rx="1.4" ry="1.6" fill="#6608f0"/><ellipse cx="3.8" cy="13.8" rx="3.0" ry="1.8" fill="#6608f0"/><ellipse cx="3.2" cy="10.2" rx="1.0" ry="0.6" fill="#f4f4f4"/></g>
<g transform="translate(452.40,111.10) scale(1.0286,1.0000)"><rect width="7" height="18" fill="#242424"/><path d="M1.6,16.2 L1.0,17.6 M2.6,16.4 L2.4,17.7 M4.4,16.4 L4.6,17.7 M5.4,16.2 L6.0,17.6" stroke="#777" stroke-width="0.45"/><path d="M3.5,0.8 C4.7,0.8 5.4,3.2 6.0,5.6 C6.6,8.2 6.7,11.5 6.55,13.5 C6.35,15.2 5.6,16.3 4.8,16.6 L2.2,16.6 C1.4,16.3 0.65,15.2 0.45,13.5 C0.3,11.5 0.4,8.2 1.0,5.6 C1.6,3.2 2.3,0.8 3.5,0.8 Z" fill="url(#gm)"/><g clip-path="url(#cm)" fill="#8a8a8a" opacity="0.45"><ellipse cx="2.25" cy="4.28" rx="0.85" ry="1.24"/><ellipse cx="2.72" cy="7.47" rx="0.92" ry="0.73"/><ellipse cx="3.34" cy="13.93" rx="1.03" ry="0.97"/></g><ellipse cx="3.3" cy="7.0" rx="2.6" ry="3.4" fill="#6608f0"/><ellipse cx="2.5" cy="12.5" rx="2.2" ry="2.6" fill="#6608f0"/><ellipse cx="5.0" cy="14.0" rx="1.6" ry="1.4" fill="#6608f0"/><ellipse cx="3.2" cy="10.2" rx="1.0" ry="0.6" fill="#f4f4f4"/></g>
<g transform="translate(460.60,111.10) scale(1.0286,1.0000)"><rect width="7" height="18" fill="#242424"/><path d="M1.6,16.2 L1.0,17.6 M2.6,16.4 L2.4,17.7 M4.4,16.4 L4.6,17.7 M5.4,16.2 L6.0,17.6" stroke="#777" stroke-width="0.45"/><path d="M3.5,0.8 C4.7,0.8 5.4,3.2 6.0,5.6 C6.6,8.2 6.7,11.5 6.55,13.5 C6.35,15.2 5.6,16.3 4.8,16.6 L2.2,16.6 C1.4,16.3 0.65,15.2 0.45,13.5 C0.3,11.5 0.4,8.2 1.0,5.6 C1.6,3.2 2.3,0.8 3.5,0.8 Z" fill="url(#gm)"/><g clip-path="url(#cm)" fill="#8a8a8a" opacity="0.45"><ellipse cx="1.76" cy="14.74" rx="0.87" ry="0.66"/><ellipse cx="1.85" cy="4.56" rx="0.60" ry="1.41"/><ellipse cx="2.07" cy="7.54" rx="1.04" ry="0.92"/></g><ellipse cx="3.0" cy="6.5" rx="2.0" ry="3.2" fill="#6608f0"/><ellipse cx="4.8" cy="9.5" rx="1.5" ry="1.6" fill="#6608f0"/><ellipse cx="3.5" cy="13.5" rx="3.6" ry="2.0" fill="#6608f0"/><ellipse cx="3.2" cy="10.2" rx="1.0" ry="0.6" fill="#f4f4f4"/></g>
<g transform="translate(427.80,131.40) scale(1.0286,1.0000)"><rect width="7" height="18" fill="#242424"/><path d="M1.6,16.2 L1.0,17.6 M2.6,16.4 L2.4,17.7 M4.4,16.4 L4.6,17.7 M5.4,16.2 L6.0,17.6" stroke="#777" stroke-width="0.45"/><path d="M3.5,0.8 C4.7,0.8 5.4,3.2 6.0,5.6 C6.6,8.2 6.7,11.5 6.55,13.5 C6.35,15.2 5.6,16.3 4.8,16.6 L2.2,16.6 C1.4,16.3 0.65,15.2 0.45,13.5 C0.3,11.5 0.4,8.2 1.0,5.6 C1.6,3.2 2.3,0.8 3.5,0.8 Z" fill="url(#gm)"/><g clip-path="url(#cm)" fill="#8a8a8a" opacity="0.45"><ellipse cx="5.69" cy="4.08" rx="0.85" ry="1.05"/><ellipse cx="4.12" cy="5.80" rx="0.53" ry="0.98"/><ellipse cx="3.62" cy="13.28" rx="0.86" ry="0.91"/></g></g>
<g transform="translate(436.00,131.40) scale(1.0286,1.0000)"><rect width="7" height="18" fill="#242424"/><path d="M1.6,16.2 L1.0,17.6 M2.6,16.4 L2.4,17.7 M4.4,16.4 L4.6,17.7 M5.4,16.2 L6.0,17.6" stroke="#777" stroke-width="0.45"/><path d="M3.5,0.8 C4.7,0.8 5.4,3.2 6.0,5.6 C6.6,8.2 6.7,11.5 6.55,13.5 C6.35,15.2 5.6,16.3 4.8,16.6 L2.2,16.6 C1.4,16.3 0.65,15.2 0.45,13.5 C0.3,11.5 0.4,8.2 1.0,5.6 C1.6,3.2 2.3,0.8 3.5,0.8 Z" fill="url(#gm)"/><g clip-path="url(#cm)" fill="#8a8a8a" opacity="0.45"><ellipse cx="4.41" cy="3.29" rx="0.80" ry="1.23"/><ellipse cx="4.56" cy="13.48" rx="1.06" ry="1.27"/><ellipse cx="4.33" cy="6.94" rx="0.70" ry="1.41"/></g></g>
<g transform="translate(444.20,131.40) scale(1.0286,1.0000)"><rect width="7" height="18" fill="#242424"/><path d="M1.6,16.2 L1.0,17.6 M2.6,16.4 L2.4,17.7 M4.4,16.4 L4.6,17.7 M5.4,16.2 L6.0,17.6" stroke="#777" stroke-width="0.45"/><path d="M3.5,0.8 C4.7,0.8 5.4,3.2 6.0,5.6 C6.6,8.2 6.7,11.5 6.55,13.5 C6.35,15.2 5.6,16.3 4.8,16.6 L2.2,16.6 C1.4,16.3 0.65,15.2 0.45,13.5 C0.3,11.5 0.4,8.2 1.0,5.6 C1.6,3.2 2.3,0.8 3.5,0.8 Z" fill="url(#gm)"/><g clip-path="url(#cm)" fill="#8a8a8a" opacity="0.45"><ellipse cx="1.27" cy="4.75" rx="1.07" ry="0.60"/><ellipse cx="5.47" cy="11.68" rx="0.62" ry="1.49"/><ellipse cx="5.19" cy="8.82" rx="1.04" ry="1.29"/></g></g>
<g transform="translate(452.40,131.40) scale(1.0286,1.0000)"><rect width="7" height="18" fill="#242424"/><path d="M1.6,16.2 L1.0,17.6 M2.6,16.4 L2.4,17.7 M4.4,16.4 L4.6,17.7 M5.4,16.2 L6.0,17.6" stroke="#777" stroke-width="0.45"/><path d="M3.5,0.8 C4.7,0.8 5.4,3.2 6.0,5.6 C6.6,8.2 6.7,11.5 6.55,13.5 C6.35,15.2 5.6,16.3 4.8,16.6 L2.2,16.6 C1.4,16.3 0.65,15.2 0.45,13.5 C0.3,11.5 0.4,8.2 1.0,5.6 C1.6,3.2 2.3,0.8 3.5,0.8 Z" fill="url(#gm)"/><g clip-path="url(#cm)" fill="#8a8a8a" opacity="0.45"><ellipse cx="3.22" cy="7.85" rx="1.01" ry="0.92"/><ellipse cx="2.51" cy="11.47" rx="0.62" ry="1.49"/><ellipse cx="2.65" cy="14.04" rx="1.09" ry="0.62"/></g></g>
<g transform="translate(460.60,131.40) scale(1.0286,1.0000)"><rect width="7" height="18" fill="#242424"/><path d="M1.6,16.2 L1.0,17.6 M2.6,16.4 L2.4,17.7 M4.4,16.4 L4.6,17.7 M5.4,16.2 L6.0,17.6" stroke="#777" stroke-width="0.45"/><path d="M3.5,0.8 C4.7,0.8 5.4,3.2 6.0,5.6 C6.6,8.2 6.7,11.5 6.55,13.5 C6.35,15.2 5.6,16.3 4.8,16.6 L2.2,16.6 C1.4,16.3 0.65,15.2 0.45,13.5 C0.3,11.5 0.4,8.2 1.0,5.6 C1.6,3.2 2.3,0.8 3.5,0.8 Z" fill="url(#gm)"/><g clip-path="url(#cm)" fill="#8a8a8a" opacity="0.45"><ellipse cx="2.97" cy="4.21" rx="0.86" ry="1.03"/><ellipse cx="4.70" cy="14.14" rx="0.67" ry="0.95"/><ellipse cx="4.38" cy="4.54" rx="0.88" ry="1.02"/></g></g>
<g transform="translate(427.80,151.50) scale(1.0286,1.0000)"><rect width="7" height="18" fill="#242424"/><path d="M1.6,16.2 L1.0,17.6 M2.6,16.4 L2.4,17.7 M4.4,16.4 L4.6,17.7 M5.4,16.2 L6.0,17.6" stroke="#777" stroke-width="0.45"/><path d="M3.5,0.8 C4.7,0.8 5.4,3.2 6.0,5.6 C6.6,8.2 6.7,11.5 6.55,13.5 C6.35,15.2 5.6,16.3 4.8,16.6 L2.2,16.6 C1.4,16.3 0.65,15.2 0.45,13.5 C0.3,11.5 0.4,8.2 1.0,5.6 C1.6,3.2 2.3,0.8 3.5,0.8 Z" fill="url(#gm)"/><g clip-path="url(#cm)" fill="#8a8a8a" opacity="0.45"><ellipse cx="1.65" cy="8.09" rx="0.90" ry="1.03"/><ellipse cx="1.29" cy="5.34" rx="0.67" ry="1.59"/><ellipse cx="2.00" cy="10.32" rx="1.03" ry="1.01"/></g><g clip-path="url(#cm)"><ellipse cx="2.2" cy="12" rx="1" ry="1" fill="#6608f0"/></g></g>
<g transform="translate(436.00,151.50) scale(1.0286,1.0000)"><rect width="7" height="18" fill="#242424"/><path d="M1.6,16.2 L1.0,17.6 M2.6,16.4 L2.4,17.7 M4.4,16.4 L4.6,17.7 M5.4,16.2 L6.0,17.6" stroke="#777" stroke-width="0.45"/><path d="M3.5,0.8 C4.7,0.8 5.4,3.2 6.0,5.6 C6.6,8.2 6.7,11.5 6.55,13.5 C6.35,15.2 5.6,16.3 4.8,16.6 L2.2,16.6 C1.4,16.3 0.65,15.2 0.45,13.5 C0.3,11.5 0.4,8.2 1.0,5.6 C1.6,3.2 2.3,0.8 3.5,0.8 Z" fill="url(#gm)"/><g clip-path="url(#cm)" fill="#8a8a8a" opacity="0.45"><ellipse cx="3.89" cy="14.58" rx="0.70" ry="1.42"/><ellipse cx="4.39" cy="14.96" rx="0.62" ry="0.83"/><ellipse cx="2.81" cy="7.74" rx="1.06" ry="1.54"/></g></g>
<g transform="translate(444.20,151.50) scale(1.0286,1.0000)"><rect width="7" height="18" fill="#242424"/><path d="M1.6,16.2 L1.0,17.6 M2.6,16.4 L2.4,17.7 M4.4,16.4 L4.6,17.7 M5.4,16.2 L6.0,17.6" stroke="#777" stroke-width="0.45"/><path d="M3.5,0.8 C4.7,0.8 5.4,3.2 6.0,5.6 C6.6,8.2 6.7,11.5 6.55,13.5 C6.35,15.2 5.6,16.3 4.8,16.6 L2.2,16.6 C1.4,16.3 0.65,15.2 0.45,13.5 C0.3,11.5 0.4,8.2 1.0,5.6 C1.6,3.2 2.3,0.8 3.5,0.8 Z" fill="url(#gm)"/><g clip-path="url(#cm)" fill="#8a8a8a" opacity="0.45"><ellipse cx="3.26" cy="9.65" rx="1.10" ry="0.96"/><ellipse cx="2.09" cy="3.30" rx="0.95" ry="0.98"/><ellipse cx="5.73" cy="5.60" rx="0.61" ry="0.79"/></g></g>
<g transform="translate(452.40,151.50) scale(1.0286,1.0000)"><rect width="7" height="18" fill="#242424"/><path d="M1.6,16.2 L1.0,17.6 M2.6,16.4 L2.4,17.7 M4.4,16.4 L4.6,17.7 M5.4,16.2 L6.0,17.6" stroke="#777" stroke-width="0.45"/><path d="M3.5,0.8 C4.7,0.8 5.4,3.2 6.0,5.6 C6.6,8.2 6.7,11.5 6.55,13.5 C6.35,15.2 5.6,16.3 4.8,16.6 L2.2,16.6 C1.4,16.3 0.65,15.2 0.45,13.5 C0.3,11.5 0.4,8.2 1.0,5.6 C1.6,3.2 2.3,0.8 3.5,0.8 Z" fill="url(#gm)"/><g clip-path="url(#cm)" fill="#8a8a8a" opacity="0.45"><ellipse cx="2.44" cy="12.29" rx="0.89" ry="1.06"/><ellipse cx="2.51" cy="12.14" rx="0.81" ry="1.45"/><ellipse cx="5.49" cy="5.84" rx="0.72" ry="1.06"/></g></g>
<g transform="translate(460.60,151.50) scale(1.0286,1.0000)"><rect width="7" height="18" fill="#242424"/><path d="M1.6,16.2 L1.0,17.6 M2.6,16.4 L2.4,17.7 M4.4,16.4 L4.6,17.7 M5.4,16.2 L6.0,17.6" stroke="#777" stroke-width="0.45"/><path d="M3.5,0.8 C4.7,0.8 5.4,3.2 6.0,5.6 C6.6,8.2 6.7,11.5 6.55,13.5 C6.35,15.2 5.6,16.3 4.8,16.6 L2.2,16.6 C1.4,16.3 0.65,15.2 0.45,13.5 C0.3,11.5 0.4,8.2 1.0,5.6 C1.6,3.2 2.3,0.8 3.5,0.8 Z" fill="url(#gm)"/><g clip-path="url(#cm)" fill="#8a8a8a" opacity="0.45"><ellipse cx="3.74" cy="12.38" rx="0.99" ry="1.41"/><ellipse cx="2.66" cy="13.57" rx="0.51" ry="0.65"/><ellipse cx="5.66" cy="8.16" rx="0.50" ry="1.44"/></g></g>
<g transform="translate(427.80,171.40) scale(1.0286,1.0000)"><rect width="7" height="18" fill="#242424"/><path d="M1.6,16.2 L1.0,17.6 M2.6,16.4 L2.4,17.7 M4.4,16.4 L4.6,17.7 M5.4,16.2 L6.0,17.6" stroke="#777" stroke-width="0.45"/><path d="M3.5,0.8 C4.7,0.8 5.4,3.2 6.0,5.6 C6.6,8.2 6.7,11.5 6.55,13.5 C6.35,15.2 5.6,16.3 4.8,16.6 L2.2,16.6 C1.4,16.3 0.65,15.2 0.45,13.5 C0.3,11.5 0.4,8.2 1.0,5.6 C1.6,3.2 2.3,0.8 3.5,0.8 Z" fill="url(#gm)"/><g clip-path="url(#cm)" fill="#8a8a8a" opacity="0.45"><ellipse cx="3.15" cy="5.26" rx="0.80" ry="1.08"/><ellipse cx="2.14" cy="4.32" rx="0.56" ry="1.09"/><ellipse cx="2.38" cy="6.86" rx="0.62" ry="1.17"/></g></g>
<g transform="translate(436.00,171.40) scale(1.0286,1.0000)"><rect width="7" height="18" fill="#242424"/><path d="M1.6,16.2 L1.0,17.6 M2.6,16.4 L2.4,17.7 M4.4,16.4 L4.6,17.7 M5.4,16.2 L6.0,17.6" stroke="#777" stroke-width="0.45"/><path d="M3.5,0.8 C4.7,0.8 5.4,3.2 6.0,5.6 C6.6,8.2 6.7,11.5 6.55,13.5 C6.35,15.2 5.6,16.3 4.8,16.6 L2.2,16.6 C1.4,16.3 0.65,15.2 0.45,13.5 C0.3,11.5 0.4,8.2 1.0,5.6 C1.6,3.2 2.3,0.8 3.5,0.8 Z" fill="url(#gm)"/><g clip-path="url(#cm)" fill="#8a8a8a" opacity="0.45"><ellipse cx="2.85" cy="3.14" rx="1.02" ry="0.68"/><ellipse cx="3.59" cy="6.47" rx="0.63" ry="0.69"/><ellipse cx="4.58" cy="14.21" rx="1.08" ry="1.54"/></g></g>
<g transform="translate(444.20,171.40) scale(1.0286,1.0000)"><rect width="7" height="18" fill="#242424"/><path d="M1.6,16.2 L1.0,17.6 M2.6,16.4 L2.4,17.7 M4.4,16.4 L4.6,17.7 M5.4,16.2 L6.0,17.6" stroke="#777" stroke-width="0.45"/><path d="M3.5,0.8 C4.7,0.8 5.4,3.2 6.0,5.6 C6.6,8.2 6.7,11.5 6.55,13.5 C6.35,15.2 5.6,16.3 4.8,16.6 L2.2,16.6 C1.4,16.3 0.65,15.2 0.45,13.5 C0.3,11.5 0.4,8.2 1.0,5.6 C1.6,3.2 2.3,0.8 3.5,0.8 Z" fill="url(#gm)"/><g clip-path="url(#cm)" fill="#8a8a8a" opacity="0.45"><ellipse cx="1.73" cy="8.41" rx="0.71" ry="1.26"/><ellipse cx="1.48" cy="5.07" rx="0.79" ry="1.12"/><ellipse cx="2.24" cy="7.06" rx="0.62" ry="1.48"/></g></g>
<g transform="translate(452.40,171.40) scale(1.0286,1.0000)"><rect width="7" height="18" fill="#242424"/><path d="M1.6,16.2 L1.0,17.6 M2.6,16.4 L2.4,17.7 M4.4,16.4 L4.6,17.7 M5.4,16.2 L6.0,17.6" stroke="#777" stroke-width="0.45"/><path d="M3.5,0.8 C4.7,0.8 5.4,3.2 6.0,5.6 C6.6,8.2 6.7,11.5 6.55,13.5 C6.35,15.2 5.6,16.3 4.8,16.6 L2.2,16.6 C1.4,16.3 0.65,15.2 0.45,13.5 C0.3,11.5 0.4,8.2 1.0,5.6 C1.6,3.2 2.3,0.8 3.5,0.8 Z" fill="url(#gm)"/><g clip-path="url(#cm)" fill="#8a8a8a" opacity="0.45"><ellipse cx="1.71" cy="5.82" rx="0.55" ry="0.84"/><ellipse cx="4.59" cy="12.78" rx="1.05" ry="1.30"/><ellipse cx="1.74" cy="9.65" rx="0.73" ry="1.45"/></g></g>
<g transform="translate(460.60,171.40) scale(1.0286,1.0000)"><rect width="7" height="18" fill="#242424"/><path d="M1.6,16.2 L1.0,17.6 M2.6,16.4 L2.4,17.7 M4.4,16.4 L4.6,17.7 M5.4,16.2 L6.0,17.6" stroke="#777" stroke-width="0.45"/><path d="M3.5,0.8 C4.7,0.8 5.4,3.2 6.0,5.6 C6.6,8.2 6.7,11.5 6.55,13.5 C6.35,15.2 5.6,16.3 4.8,16.6 L2.2,16.6 C1.4,16.3 0.65,15.2 0.45,13.5 C0.3,11.5 0.4,8.2 1.0,5.6 C1.6,3.2 2.3,0.8 3.5,0.8 Z" fill="url(#gm)"/><g clip-path="url(#cm)" fill="#8a8a8a" opacity="0.45"><ellipse cx="3.71" cy="12.76" rx="0.74" ry="1.22"/><ellipse cx="3.66" cy="7.27" rx="0.95" ry="1.49"/><ellipse cx="3.80" cy="3.24" rx="0.60" ry="0.85"/></g></g>
<g transform="translate(471.20,111.10) scale(1.0286,1.0000)"><rect width="7" height="18" fill="#242424"/><path d="M1.6,16.2 L1.0,17.6 M2.6,16.4 L2.4,17.7 M4.4,16.4 L4.6,17.7 M5.4,16.2 L6.0,17.6" stroke="#777" stroke-width="0.45"/><path d="M3.5,0.8 C4.7,0.8 5.4,3.2 6.0,5.6 C6.6,8.2 6.7,11.5 6.55,13.5 C6.35,15.2 5.6,16.3 4.8,16.6 L2.2,16.6 C1.4,16.3 0.65,15.2 0.45,13.5 C0.3,11.5 0.4,8.2 1.0,5.6 C1.6,3.2 2.3,0.8 3.5,0.8 Z" fill="url(#gm)"/><g clip-path="url(#cm)" fill="#8a8a8a" opacity="0.45"><ellipse cx="4.13" cy="9.65" rx="0.56" ry="1.04"/><ellipse cx="4.62" cy="4.07" rx="0.91" ry="0.78"/><ellipse cx="2.73" cy="4.78" rx="0.70" ry="1.34"/></g><ellipse cx="4.2" cy="6.2" rx="1.6" ry="2.6" fill="#6608f0"/><ellipse cx="2.2" cy="10.0" rx="1.4" ry="1.6" fill="#6608f0"/><ellipse cx="3.8" cy="13.8" rx="3.0" ry="1.8" fill="#6608f0"/><ellipse cx="3.2" cy="10.2" rx="1.0" ry="0.6" fill="#f4f4f4"/></g>
<g transform="translate(479.40,111.10) scale(1.0286,1.0000)"><rect width="7" height="18" fill="#242424"/><path d="M1.6,16.2 L1.0,17.6 M2.6,16.4 L2.4,17.7 M4.4,16.4 L4.6,17.7 M5.4,16.2 L6.0,17.6" stroke="#777" stroke-width="0.45"/><path d="M3.5,0.8 C4.7,0.8 5.4,3.2 6.0,5.6 C6.6,8.2 6.7,11.5 6.55,13.5 C6.35,15.2 5.6,16.3 4.8,16.6 L2.2,16.6 C1.4,16.3 0.65,15.2 0.45,13.5 C0.3,11.5 0.4,8.2 1.0,5.6 C1.6,3.2 2.3,0.8 3.5,0.8 Z" fill="url(#gm)"/><g clip-path="url(#cm)" fill="#8a8a8a" opacity="0.45"><ellipse cx="4.25" cy="5.70" rx="0.71" ry="1.28"/><ellipse cx="3.97" cy="6.30" rx="0.70" ry="1.48"/><ellipse cx="4.06" cy="5.56" rx="0.59" ry="1.37"/></g><ellipse cx="3.3" cy="7.0" rx="2.6" ry="3.4" fill="#6608f0"/><ellipse cx="2.5" cy="12.5" rx="2.2" ry="2.6" fill="#6608f0"/><ellipse cx="5.0" cy="14.0" rx="1.6" ry="1.4" fill="#6608f0"/><ellipse cx="3.2" cy="10.2" rx="1.0" ry="0.6" fill="#f4f4f4"/></g>
<g transform="translate(487.60,111.10) scale(1.0286,1.0000)"><rect width="7" height="18" fill="#242424"/><path d="M1.6,16.2 L1.0,17.6 M2.6,16.4 L2.4,17.7 M4.4,16.4 L4.6,17.7 M5.4,16.2 L6.0,17.6" stroke="#777" stroke-width="0.45"/><path d="M3.5,0.8 C4.7,0.8 5.4,3.2 6.0,5.6 C6.6,8.2 6.7,11.5 6.55,13.5 C6.35,15.2 5.6,16.3 4.8,16.6 L2.2,16.6 C1.4,16.3 0.65,15.2 0.45,13.5 C0.3,11.5 0.4,8.2 1.0,5.6 C1.6,3.2 2.3,0.8 3.5,0.8 Z" fill="url(#gm)"/><g clip-path="url(#cm)" fill="#8a8a8a" opacity="0.45"><ellipse cx="4.62" cy="3.50" rx="0.75" ry="1.59"/><ellipse cx="4.45" cy="3.12" rx="0.70" ry="1.55"/><ellipse cx="2.24" cy="5.10" rx="0.69" ry="0.63"/></g><ellipse cx="3.0" cy="6.5" rx="2.0" ry="3.2" fill="#6608f0"/><ellipse cx="4.8" cy="9.5" rx="1.5" ry="1.6" fill="#6608f0"/><ellipse cx="3.5" cy="13.5" rx="3.6" ry="2.0" fill="#6608f0"/><ellipse cx="3.2" cy="10.2" rx="1.0" ry="0.6" fill="#f4f4f4"/></g>
<g transform="translate(495.80,111.10) scale(1.0286,1.0000)"><rect width="7" height="18" fill="#242424"/><path d="M1.6,16.2 L1.0,17.6 M2.6,16.4 L2.4,17.7 M4.4,16.4 L4.6,17.7 M5.4,16.2 L6.0,17.6" stroke="#777" stroke-width="0.45"/><path d="M3.5,0.8 C4.7,0.8 5.4,3.2 6.0,5.6 C6.6,8.2 6.7,11.5 6.55,13.5 C6.35,15.2 5.6,16.3 4.8,16.6 L2.2,16.6 C1.4,16.3 0.65,15.2 0.45,13.5 C0.3,11.5 0.4,8.2 1.0,5.6 C1.6,3.2 2.3,0.8 3.5,0.8 Z" fill="url(#gm)"/><g clip-path="url(#cm)" fill="#8a8a8a" opacity="0.45"><ellipse cx="5.13" cy="10.51" rx="0.61" ry="1.04"/><ellipse cx="4.41" cy="10.15" rx="0.55" ry="0.72"/><ellipse cx="2.50" cy="6.78" rx="0.56" ry="0.81"/></g><ellipse cx="3.8" cy="7.5" rx="2.8" ry="4.2" fill="#6608f0"/><ellipse cx="3.0" cy="13.5" rx="2.8" ry="2.2" fill="#6608f0"/><ellipse cx="3.2" cy="10.2" rx="1.0" ry="0.6" fill="#f4f4f4"/></g>
<g transform="translate(504.00,111.10) scale(1.0286,1.0000)"><rect width="7" height="18" fill="#242424"/><path d="M1.6,16.2 L1.0,17.6 M2.6,16.4 L2.4,17.7 M4.4,16.4 L4.6,17.7 M5.4,16.2 L6.0,17.6" stroke="#777" stroke-width="0.45"/><path d="M3.5,0.8 C4.7,0.8 5.4,3.2 6.0,5.6 C6.6,8.2 6.7,11.5 6.55,13.5 C6.35,15.2 5.6,16.3 4.8,16.6 L2.2,16.6 C1.4,16.3 0.65,15.2 0.45,13.5 C0.3,11.5 0.4,8.2 1.0,5.6 C1.6,3.2 2.3,0.8 3.5,0.8 Z" fill="url(#gm)"/><g clip-path="url(#cm)" fill="#8a8a8a" opacity="0.45"><ellipse cx="5.05" cy="8.33" rx="0.65" ry="0.95"/><ellipse cx="5.34" cy="9.26" rx="0.80" ry="0.78"/><ellipse cx="1.22" cy="3.90" rx="1.01" ry="0.68"/></g><ellipse cx="3.6" cy="5.5" rx="1.8" ry="2.8" fill="#6608f0"/><ellipse cx="2.0" cy="9.5" rx="1.6" ry="1.8" fill="#6608f0"/><ellipse cx="4.6" cy="11.5" rx="1.5" ry="1.4" fill="#6608f0"/><ellipse cx="3.5" cy="14.0" rx="3.4" ry="1.6" fill="#6608f0"/><ellipse cx="3.2" cy="10.2" rx="1.0" ry="0.6" fill="#f4f4f4"/></g>
<g transform="translate(471.20,131.40) scale(1.0286,1.0000)"><rect width="7" height="18" fill="#242424"/><path d="M1.6,16.2 L1.0,17.6 M2.6,16.4 L2.4,17.7 M4.4,16.4 L4.6,17.7 M5.4,16.2 L6.0,17.6" stroke="#777" stroke-width="0.45"/><path d="M3.5,0.8 C4.7,0.8 5.4,3.2 6.0,5.6 C6.6,8.2 6.7,11.5 6.55,13.5 C6.35,15.2 5.6,16.3 4.8,16.6 L2.2,16.6 C1.4,16.3 0.65,15.2 0.45,13.5 C0.3,11.5 0.4,8.2 1.0,5.6 C1.6,3.2 2.3,0.8 3.5,0.8 Z" fill="url(#gm)"/><g clip-path="url(#cm)" fill="#8a8a8a" opacity="0.45"><ellipse cx="1.98" cy="12.05" rx="0.89" ry="0.74"/><ellipse cx="4.61" cy="14.25" rx="0.61" ry="0.95"/><ellipse cx="3.73" cy="9.91" rx="0.64" ry="0.92"/></g></g>
<g transform="translate(479.40,131.40) scale(1.0286,1.0000)"><rect width="7" height="18" fill="#242424"/><path d="M1.6,16.2 L1.0,17.6 M2.6,16.4 L2.4,17.7 M4.4,16.4 L4.6,17.7 M5.4,16.2 L6.0,17.6" stroke="#777" stroke-width="0.45"/><path d="M3.5,0.8 C4.7,0.8 5.4,3.2 6.0,5.6 C6.6,8.2 6.7,11.5 6.55,13.5 C6.35,15.2 5.6,16.3 4.8,16.6 L2.2,16.6 C1.4,16.3 0.65,15.2 0.45,13.5 C0.3,11.5 0.4,8.2 1.0,5.6 C1.6,3.2 2.3,0.8 3.5,0.8 Z" fill="url(#gm)"/><g clip-path="url(#cm)" fill="#8a8a8a" opacity="0.45"><ellipse cx="5.64" cy="4.50" rx="0.71" ry="1.55"/><ellipse cx="4.38" cy="5.91" rx="0.66" ry="1.26"/><ellipse cx="1.25" cy="9.90" rx="1.07" ry="1.55"/></g></g>
<g transform="translate(487.60,131.40) scale(1.0286,1.0000)"><rect width="7" height="18" fill="#242424"/><path d="M1.6,16.2 L1.0,17.6 M2.6,16.4 L2.4,17.7 M4.4,16.4 L4.6,17.7 M5.4,16.2 L6.0,17.6" stroke="#777" stroke-width="0.45"/><path d="M3.5,0.8 C4.7,0.8 5.4,3.2 6.0,5.6 C6.6,8.2 6.7,11.5 6.55,13.5 C6.35,15.2 5.6,16.3 4.8,16.6 L2.2,16.6 C1.4,16.3 0.65,15.2 0.45,13.5 C0.3,11.5 0.4,8.2 1.0,5.6 C1.6,3.2 2.3,0.8 3.5,0.8 Z" fill="url(#gm)"/><g clip-path="url(#cm)" fill="#8a8a8a" opacity="0.45"><ellipse cx="5.27" cy="11.62" rx="0.93" ry="1.45"/><ellipse cx="5.71" cy="4.63" rx="0.87" ry="1.26"/><ellipse cx="4.38" cy="12.98" rx="0.72" ry="0.61"/></g></g>
<g transform="translate(495.80,131.40) scale(1.0286,1.0000)"><rect width="7" height="18" fill="#242424"/><path d="M1.6,16.2 L1.0,17.6 M2.6,16.4 L2.4,17.7 M4.4,16.4 L4.6,17.7 M5.4,16.2 L6.0,17.6" stroke="#777" stroke-width="0.45"/><path d="M3.5,0.8 C4.7,0.8 5.4,3.2 6.0,5.6 C6.6,8.2 6.7,11.5 6.55,13.5 C6.35,15.2 5.6,16.3 4.8,16.6 L2.2,16.6 C1.4,16.3 0.65,15.2 0.45,13.5 C0.3,11.5 0.4,8.2 1.0,5.6 C1.6,3.2 2.3,0.8 3.5,0.8 Z" fill="url(#gm)"/><g clip-path="url(#cm)" fill="#8a8a8a" opacity="0.45"><ellipse cx="5.49" cy="13.67" rx="0.93" ry="1.31"/><ellipse cx="2.85" cy="10.64" rx="0.94" ry="1.41"/><ellipse cx="1.29" cy="12.13" rx="0.60" ry="1.32"/></g></g>
<g transform="translate(504.00,131.40) scale(1.0286,1.0000)"><rect width="7" height="18" fill="#242424"/><path d="M1.6,16.2 L1.0,17.6 M2.6,16.4 L2.4,17.7 M4.4,16.4 L4.6,17.7 M5.4,16.2 L6.0,17.6" stroke="#777" stroke-width="0.45"/><path d="M3.5,0.8 C4.7,0.8 5.4,3.2 6.0,5.6 C6.6,8.2 6.7,11.5 6.55,13.5 C6.35,15.2 5.6,16.3 4.8,16.6 L2.2,16.6 C1.4,16.3 0.65,15.2 0.45,13.5 C0.3,11.5 0.4,8.2 1.0,5.6 C1.6,3.2 2.3,0.8 3.5,0.8 Z" fill="url(#gm)"/><g clip-path="url(#cm)" fill="#8a8a8a" opacity="0.45"><ellipse cx="3.92" cy="14.47" rx="1.04" ry="1.01"/><ellipse cx="1.48" cy="6.28" rx="0.78" ry="1.36"/><ellipse cx="4.69" cy="8.71" rx="0.97" ry="1.47"/></g></g>
<g transform="translate(471.20,151.50) scale(1.0286,1.0000)"><rect width="7" height="18" fill="#242424"/><path d="M1.6,16.2 L1.0,17.6 M2.6,16.4 L2.4,17.7 M4.4,16.4 L4.6,17.7 M5.4,16.2 L6.0,17.6" stroke="#777" stroke-width="0.45"/><path d="M3.5,0.8 C4.7,0.8 5.4,3.2 6.0,5.6 C6.6,8.2 6.7,11.5 6.55,13.5 C6.35,15.2 5.6,16.3 4.8,16.6 L2.2,16.6 C1.4,16.3 0.65,15.2 0.45,13.5 C0.3,11.5 0.4,8.2 1.0,5.6 C1.6,3.2 2.3,0.8 3.5,0.8 Z" fill="url(#gm)"/><g clip-path="url(#cm)" fill="#8a8a8a" opacity="0.45"><ellipse cx="1.74" cy="3.82" rx="0.51" ry="1.29"/><ellipse cx="2.28" cy="11.99" rx="1.01" ry="1.39"/><ellipse cx="2.96" cy="11.68" rx="1.04" ry="0.91"/></g></g>
<g transform="translate(479.40,151.50) scale(1.0286,1.0000)"><rect width="7" height="18" fill="#242424"/><path d="M1.6,16.2 L1.0,17.6 M2.6,16.4 L2.4,17.7 M4.4,16.4 L4.6,17.7 M5.4,16.2 L6.0,17.6" stroke="#777" stroke-width="0.45"/><path d="M3.5,0.8 C4.7,0.8 5.4,3.2 6.0,5.6 C6.6,8.2 6.7,11.5 6.55,13.5 C6.35,15.2 5.6,16.3 4.8,16.6 L2.2,16.6 C1.4,16.3 0.65,15.2 0.45,13.5 C0.3,11.5 0.4,8.2 1.0,5.6 C1.6,3.2 2.3,0.8 3.5,0.8 Z" fill="url(#gm)"/><g clip-path="url(#cm)" fill="#8a8a8a" opacity="0.45"><ellipse cx="5.69" cy="11.95" rx="1.02" ry="0.86"/><ellipse cx="3.64" cy="12.87" rx="0.64" ry="1.49"/><ellipse cx="5.23" cy="12.20" rx="0.70" ry="0.65"/></g><g clip-path="url(#cm)"><ellipse cx="3" cy="12" rx="1.1" ry="0.9" fill="#6608f0"/></g></g>
<g transform="translate(487.60,151.50) scale(1.0286,1.0000)"><rect width="7" height="18" fill="#242424"/><path d="M1.6,16.2 L1.0,17.6 M2.6,16.4 L2.4,17.7 M4.4,16.4 L4.6,17.7 M5.4,16.2 L6.0,17.6" stroke="#777" stroke-width="0.45"/><path d="M3.5,0.8 C4.7,0.8 5.4,3.2 6.0,5.6 C6.6,8.2 6.7,11.5 6.55,13.5 C6.35,15.2 5.6,16.3 4.8,16.6 L2.2,16.6 C1.4,16.3 0.65,15.2 0.45,13.5 C0.3,11.5 0.4,8.2 1.0,5.6 C1.6,3.2 2.3,0.8 3.5,0.8 Z" fill="url(#gm)"/><g clip-path="url(#cm)" fill="#8a8a8a" opacity="0.45"><ellipse cx="2.89" cy="11.07" rx="0.93" ry="1.50"/><ellipse cx="4.18" cy="6.75" rx="0.76" ry="0.80"/><ellipse cx="2.10" cy="3.88" rx="0.74" ry="1.44"/></g></g>
<g transform="translate(495.80,151.50) scale(1.0286,1.0000)"><rect width="7" height="18" fill="#242424"/><path d="M1.6,16.2 L1.0,17.6 M2.6,16.4 L2.4,17.7 M4.4,16.4 L4.6,17.7 M5.4,16.2 L6.0,17.6" stroke="#777" stroke-width="0.45"/><path d="M3.5,0.8 C4.7,0.8 5.4,3.2 6.0,5.6 C6.6,8.2 6.7,11.5 6.55,13.5 C6.35,15.2 5.6,16.3 4.8,16.6 L2.2,16.6 C1.4,16.3 0.65,15.2 0.45,13.5 C0.3,11.5 0.4,8.2 1.0,5.6 C1.6,3.2 2.3,0.8 3.5,0.8 Z" fill="url(#gm)"/><g clip-path="url(#cm)" fill="#8a8a8a" opacity="0.45"><ellipse cx="1.52" cy="11.13" rx="0.51" ry="1.46"/><ellipse cx="5.10" cy="11.89" rx="0.75" ry="0.86"/><ellipse cx="5.33" cy="6.67" rx="0.55" ry="0.85"/></g></g>
<g transform="translate(504.00,151.50) scale(1.0286,1.0000)"><rect width="7" height="18" fill="#242424"/><path d="M1.6,16.2 L1.0,17.6 M2.6,16.4 L2.4,17.7 M4.4,16.4 L4.6,17.7 M5.4,16.2 L6.0,17.6" stroke="#777" stroke-width="0.45"/><path d="M3.5,0.8 C4.7,0.8 5.4,3.2 6.0,5.6 C6.6,8.2 6.7,11.5 6.55,13.5 C6.35,15.2 5.6,16.3 4.8,16.6 L2.2,16.6 C1.4,16.3 0.65,15.2 0.45,13.5 C0.3,11.5 0.4,8.2 1.0,5.6 C1.6,3.2 2.3,0.8 3.5,0.8 Z" fill="url(#gm)"/><g clip-path="url(#cm)" fill="#8a8a8a" opacity="0.45"><ellipse cx="3.97" cy="15.00" rx="0.66" ry="1.18"/><ellipse cx="5.72" cy="8.49" rx="0.75" ry="0.99"/><ellipse cx="1.63" cy="10.20" rx="0.52" ry="1.21"/></g></g>
<g transform="translate(471.20,171.40) scale(1.0286,1.0000)"><rect width="7" height="18" fill="#242424"/><path d="M1.6,16.2 L1.0,17.6 M2.6,16.4 L2.4,17.7 M4.4,16.4 L4.6,17.7 M5.4,16.2 L6.0,17.6" stroke="#777" stroke-width="0.45"/><path d="M3.5,0.8 C4.7,0.8 5.4,3.2 6.0,5.6 C6.6,8.2 6.7,11.5 6.55,13.5 C6.35,15.2 5.6,16.3 4.8,16.6 L2.2,16.6 C1.4,16.3 0.65,15.2 0.45,13.5 C0.3,11.5 0.4,8.2 1.0,5.6 C1.6,3.2 2.3,0.8 3.5,0.8 Z" fill="url(#gm)"/><g clip-path="url(#cm)" fill="#8a8a8a" opacity="0.45"><ellipse cx="1.76" cy="3.41" rx="0.65" ry="0.95"/><ellipse cx="4.11" cy="8.93" rx="1.02" ry="0.94"/><ellipse cx="3.74" cy="13.25" rx="0.56" ry="1.31"/></g></g>
<g transform="translate(479.40,171.40) scale(1.0286,1.0000)"><rect width="7" height="18" fill="#242424"/><path d="M1.6,16.2 L1.0,17.6 M2.6,16.4 L2.4,17.7 M4.4,16.4 L4.6,17.7 M5.4,16.2 L6.0,17.6" stroke="#777" stroke-width="0.45"/><path d="M3.5,0.8 C4.7,0.8 5.4,3.2 6.0,5.6 C6.6,8.2 6.7,11.5 6.55,13.5 C6.35,15.2 5.6,16.3 4.8,16.6 L2.2,16.6 C1.4,16.3 0.65,15.2 0.45,13.5 C0.3,11.5 0.4,8.2 1.0,5.6 C1.6,3.2 2.3,0.8 3.5,0.8 Z" fill="url(#gm)"/><g clip-path="url(#cm)" fill="#8a8a8a" opacity="0.45"><ellipse cx="5.79" cy="7.09" rx="0.76" ry="1.04"/><ellipse cx="2.80" cy="4.27" rx="0.96" ry="1.17"/><ellipse cx="3.91" cy="3.53" rx="0.94" ry="1.44"/></g></g>
<g transform="translate(487.60,171.40) scale(1.0286,1.0000)"><rect width="7" height="18" fill="#242424"/><path d="M1.6,16.2 L1.0,17.6 M2.6,16.4 L2.4,17.7 M4.4,16.4 L4.6,17.7 M5.4,16.2 L6.0,17.6" stroke="#777" stroke-width="0.45"/><path d="M3.5,0.8 C4.7,0.8 5.4,3.2 6.0,5.6 C6.6,8.2 6.7,11.5 6.55,13.5 C6.35,15.2 5.6,16.3 4.8,16.6 L2.2,16.6 C1.4,16.3 0.65,15.2 0.45,13.5 C0.3,11.5 0.4,8.2 1.0,5.6 C1.6,3.2 2.3,0.8 3.5,0.8 Z" fill="url(#gm)"/><g clip-path="url(#cm)" fill="#8a8a8a" opacity="0.45"><ellipse cx="4.50" cy="3.35" rx="0.87" ry="1.39"/><ellipse cx="2.90" cy="3.96" rx="0.83" ry="1.07"/><ellipse cx="2.90" cy="7.54" rx="0.55" ry="1.13"/></g></g>
<g transform="translate(495.80,171.40) scale(1.0286,1.0000)"><rect width="7" height="18" fill="#242424"/><path d="M1.6,16.2 L1.0,17.6 M2.6,16.4 L2.4,17.7 M4.4,16.4 L4.6,17.7 M5.4,16.2 L6.0,17.6" stroke="#777" stroke-width="0.45"/><path d="M3.5,0.8 C4.7,0.8 5.4,3.2 6.0,5.6 C6.6,8.2 6.7,11.5 6.55,13.5 C6.35,15.2 5.6,16.3 4.8,16.6 L2.2,16.6 C1.4,16.3 0.65,15.2 0.45,13.5 C0.3,11.5 0.4,8.2 1.0,5.6 C1.6,3.2 2.3,0.8 3.5,0.8 Z" fill="url(#gm)"/><g clip-path="url(#cm)" fill="#8a8a8a" opacity="0.45"><ellipse cx="3.83" cy="5.98" rx="1.08" ry="1.28"/><ellipse cx="4.77" cy="10.61" rx="0.63" ry="0.66"/><ellipse cx="4.24" cy="9.00" rx="0.57" ry="0.63"/></g></g>
<g transform="translate(504.00,171.40) scale(1.0286,1.0000)"><rect width="7" height="18" fill="#242424"/><path d="M1.6,16.2 L1.0,17.6 M2.6,16.4 L2.4,17.7 M4.4,16.4 L4.6,17.7 M5.4,16.2 L6.0,17.6" stroke="#777" stroke-width="0.45"/><path d="M3.5,0.8 C4.7,0.8 5.4,3.2 6.0,5.6 C6.6,8.2 6.7,11.5 6.55,13.5 C6.35,15.2 5.6,16.3 4.8,16.6 L2.2,16.6 C1.4,16.3 0.65,15.2 0.45,13.5 C0.3,11.5 0.4,8.2 1.0,5.6 C1.6,3.2 2.3,0.8 3.5,0.8 Z" fill="url(#gm)"/><g clip-path="url(#cm)" fill="#8a8a8a" opacity="0.45"><ellipse cx="1.61" cy="5.69" rx="0.76" ry="0.95"/><ellipse cx="1.91" cy="6.89" rx="0.66" ry="0.92"/><ellipse cx="2.86" cy="8.20" rx="0.96" ry="1.29"/></g></g>
</g>
<text x="299.90" y="208.70" font-size="7.0" text-anchor="middle" fill="#111" >X</text>
<text x="308.50" y="208.70" font-size="7.0" text-anchor="middle" fill="#111" >X</text>
<text x="317.00" y="208.70" font-size="7.0" text-anchor="middle" fill="#111" >X</text>
<text x="325.30" y="208.70" font-size="7.0" text-anchor="middle" fill="#111" >X</text>
<text x="333.40" y="208.70" font-size="7.0" text-anchor="middle" fill="#111" >X</text>
<text x="343.10" y="208.70" font-size="7.0" text-anchor="middle" fill="#111" >X</text>
<text x="351.60" y="208.70" font-size="7.0" text-anchor="middle" fill="#111" >X</text>
<text x="359.90" y="208.70" font-size="7.0" text-anchor="middle" fill="#111" >X</text>
<text x="368.50" y="208.70" font-size="7.0" text-anchor="middle" fill="#111" >X</text>
<text x="377.00" y="208.70" font-size="7.0" text-anchor="middle" fill="#111" >X</text>
<text x="386.90" y="208.70" font-size="7.0" text-anchor="middle" fill="#111" >X</text>
<g transform="translate(392.60,196.80) scale(1.0286,1.0000)"><rect width="7" height="18" fill="#242424"/><path d="M1.6,16.2 L1.0,17.6 M2.6,16.4 L2.4,17.7 M4.4,16.4 L4.6,17.7 M5.4,16.2 L6.0,17.6" stroke="#777" stroke-width="0.45"/><path d="M3.5,0.8 C4.7,0.8 5.4,3.2 6.0,5.6 C6.6,8.2 6.7,11.5 6.55,13.5 C6.35,15.2 5.6,16.3 4.8,16.6 L2.2,16.6 C1.4,16.3 0.65,15.2 0.45,13.5 C0.3,11.5 0.4,8.2 1.0,5.6 C1.6,3.2 2.3,0.8 3.5,0.8 Z" fill="url(#gm)"/><g clip-path="url(#cm)" fill="#8a8a8a" opacity="0.45"><ellipse cx="1.77" cy="4.16" rx="0.72" ry="1.29"/><ellipse cx="1.35" cy="6.36" rx="0.75" ry="1.31"/><ellipse cx="5.19" cy="10.59" rx="0.75" ry="1.49"/></g><g clip-path="url(#cm)"><ellipse cx="2.5" cy="14" rx="1.5" ry="1.3" fill="#6608f0"/></g></g>
<text x="403.10" y="208.70" font-size="7.0" text-anchor="middle" fill="#111" >X</text>
<g transform="translate(409.00,196.80) scale(1.0286,1.0000)"><rect width="7" height="18" fill="#242424"/><path d="M1.6,16.2 L1.0,17.6 M2.6,16.4 L2.4,17.7 M4.4,16.4 L4.6,17.7 M5.4,16.2 L6.0,17.6" stroke="#777" stroke-width="0.45"/><path d="M3.5,0.8 C4.7,0.8 5.4,3.2 6.0,5.6 C6.6,8.2 6.7,11.5 6.55,13.5 C6.35,15.2 5.6,16.3 4.8,16.6 L2.2,16.6 C1.4,16.3 0.65,15.2 0.45,13.5 C0.3,11.5 0.4,8.2 1.0,5.6 C1.6,3.2 2.3,0.8 3.5,0.8 Z" fill="url(#gm)"/><g clip-path="url(#cm)" fill="#8a8a8a" opacity="0.45"><ellipse cx="5.23" cy="5.32" rx="0.59" ry="1.34"/><ellipse cx="2.63" cy="13.33" rx="0.61" ry="0.79"/><ellipse cx="1.32" cy="12.50" rx="0.56" ry="1.54"/></g><g clip-path="url(#cm)"><ellipse cx="2.5" cy="13" rx="2" ry="2" fill="#6608f0"/><ellipse cx="4.5" cy="14" rx="1.5" ry="1.5" fill="#6608f0"/></g></g>
<g transform="translate(417.20,196.80) scale(1.0286,1.0000)"><rect width="7" height="18" fill="#242424"/><path d="M1.6,16.2 L1.0,17.6 M2.6,16.4 L2.4,17.7 M4.4,16.4 L4.6,17.7 M5.4,16.2 L6.0,17.6" stroke="#777" stroke-width="0.45"/><path d="M3.5,0.8 C4.7,0.8 5.4,3.2 6.0,5.6 C6.6,8.2 6.7,11.5 6.55,13.5 C6.35,15.2 5.6,16.3 4.8,16.6 L2.2,16.6 C1.4,16.3 0.65,15.2 0.45,13.5 C0.3,11.5 0.4,8.2 1.0,5.6 C1.6,3.2 2.3,0.8 3.5,0.8 Z" fill="url(#gm)"/><g clip-path="url(#cm)" fill="#8a8a8a" opacity="0.45"><ellipse cx="1.82" cy="12.19" rx="0.64" ry="1.58"/><ellipse cx="3.30" cy="14.86" rx="0.54" ry="1.58"/><ellipse cx="5.73" cy="11.39" rx="0.70" ry="1.16"/></g><g clip-path="url(#cm)"><ellipse cx="3.5" cy="11" rx="3" ry="6" fill="#6608f0"/><ellipse cx="3.5" cy="12" rx="1.32" ry="1.20" fill="#2a6cf8"/><ellipse cx="3.5" cy="12" rx="1.10" ry="1.00" fill="#48e0e8"/></g></g>
<g transform="translate(427.80,196.80) scale(1.0286,1.0000)"><rect width="7" height="18" fill="#242424"/><path d="M1.6,16.2 L1.0,17.6 M2.6,16.4 L2.4,17.7 M4.4,16.4 L4.6,17.7 M5.4,16.2 L6.0,17.6" stroke="#777" stroke-width="0.45"/><path d="M3.5,0.8 C4.7,0.8 5.4,3.2 6.0,5.6 C6.6,8.2 6.7,11.5 6.55,13.5 C6.35,15.2 5.6,16.3 4.8,16.6 L2.2,16.6 C1.4,16.3 0.65,15.2 0.45,13.5 C0.3,11.5 0.4,8.2 1.0,5.6 C1.6,3.2 2.3,0.8 3.5,0.8 Z" fill="url(#gm)"/><g clip-path="url(#cm)" fill="#8a8a8a" opacity="0.45"><ellipse cx="5.02" cy="9.61" rx="1.05" ry="1.40"/><ellipse cx="4.65" cy="4.97" rx="1.02" ry="1.26"/><ellipse cx="4.40" cy="8.69" rx="0.75" ry="1.18"/></g></g>
<g transform="translate(436.00,196.80) scale(1.0286,1.0000)"><rect width="7" height="18" fill="#242424"/><path d="M1.6,16.2 L1.0,17.6 M2.6,16.4 L2.4,17.7 M4.4,16.4 L4.6,17.7 M5.4,16.2 L6.0,17.6" stroke="#777" stroke-width="0.45"/><path d="M3.5,0.8 C4.7,0.8 5.4,3.2 6.0,5.6 C6.6,8.2 6.7,11.5 6.55,13.5 C6.35,15.2 5.6,16.3 4.8,16.6 L2.2,16.6 C1.4,16.3 0.65,15.2 0.45,13.5 C0.3,11.5 0.4,8.2 1.0,5.6 C1.6,3.2 2.3,0.8 3.5,0.8 Z" fill="url(#gm)"/><g clip-path="url(#cm)" fill="#8a8a8a" opacity="0.45"><ellipse cx="5.41" cy="4.72" rx="0.67" ry="0.94"/><ellipse cx="1.30" cy="3.03" rx="0.63" ry="1.01"/><ellipse cx="5.31" cy="6.83" rx="0.76" ry="1.06"/></g></g>
<g transform="translate(444.20,196.80) scale(1.0286,1.0000)"><rect width="7" height="18" fill="#242424"/><path d="M1.6,16.2 L1.0,17.6 M2.6,16.4 L2.4,17.7 M4.4,16.4 L4.6,17.7 M5.4,16.2 L6.0,17.6" stroke="#777" stroke-width="0.45"/><path d="M3.5,0.8 C4.7,0.8 5.4,3.2 6.0,5.6 C6.6,8.2 6.7,11.5 6.55,13.5 C6.35,15.2 5.6,16.3 4.8,16.6 L2.2,16.6 C1.4,16.3 0.65,15.2 0.45,13.5 C0.3,11.5 0.4,8.2 1.0,5.6 C1.6,3.2 2.3,0.8 3.5,0.8 Z" fill="url(#gm)"/><g clip-path="url(#cm)" fill="#8a8a8a" opacity="0.45"><ellipse cx="2.03" cy="7.73" rx="0.56" ry="1.41"/><ellipse cx="4.08" cy="13.60" rx="0.66" ry="0.89"/><ellipse cx="4.25" cy="8.61" rx="0.57" ry="1.32"/></g></g>
<g transform="translate(452.40,196.80) scale(1.0286,1.0000)"><rect width="7" height="18" fill="#242424"/><path d="M1.6,16.2 L1.0,17.6 M2.6,16.4 L2.4,17.7 M4.4,16.4 L4.6,17.7 M5.4,16.2 L6.0,17.6" stroke="#777" stroke-width="0.45"/><path d="M3.5,0.8 C4.7,0.8 5.4,3.2 6.0,5.6 C6.6,8.2 6.7,11.5 6.55,13.5 C6.35,15.2 5.6,16.3 4.8,16.6 L2.2,16.6 C1.4,16.3 0.65,15.2 0.45,13.5 C0.3,11.5 0.4,8.2 1.0,5.6 C1.6,3.2 2.3,0.8 3.5,0.8 Z" fill="url(#gm)"/><g clip-path="url(#cm)" fill="#8a8a8a" opacity="0.45"><ellipse cx="3.34" cy="3.22" rx="0.75" ry="0.89"/><ellipse cx="2.37" cy="6.41" rx="0.65" ry="1.52"/><ellipse cx="3.92" cy="4.95" rx="1.07" ry="1.56"/></g></g>
<g transform="translate(460.60,196.80) scale(1.0286,1.0000)"><rect width="7" height="18" fill="#242424"/><path d="M1.6,16.2 L1.0,17.6 M2.6,16.4 L2.4,17.7 M4.4,16.4 L4.6,17.7 M5.4,16.2 L6.0,17.6" stroke="#777" stroke-width="0.45"/><path d="M3.5,0.8 C4.7,0.8 5.4,3.2 6.0,5.6 C6.6,8.2 6.7,11.5 6.55,13.5 C6.35,15.2 5.6,16.3 4.8,16.6 L2.2,16.6 C1.4,16.3 0.65,15.2 0.45,13.5 C0.3,11.5 0.4,8.2 1.0,5.6 C1.6,3.2 2.3,0.8 3.5,0.8 Z" fill="url(#gm)"/><g clip-path="url(#cm)" fill="#8a8a8a" opacity="0.45"><ellipse cx="3.81" cy="12.24" rx="0.92" ry="1.46"/><ellipse cx="5.19" cy="3.13" rx="0.61" ry="0.61"/><ellipse cx="4.49" cy="4.70" rx="0.66" ry="1.12"/></g></g>
<g transform="translate(471.20,196.80) scale(1.0286,1.0000)"><rect width="7" height="18" fill="#242424"/><path d="M1.6,16.2 L1.0,17.6 M2.6,16.4 L2.4,17.7 M4.4,16.4 L4.6,17.7 M5.4,16.2 L6.0,17.6" stroke="#777" stroke-width="0.45"/><path d="M3.5,0.8 C4.7,0.8 5.4,3.2 6.0,5.6 C6.6,8.2 6.7,11.5 6.55,13.5 C6.35,15.2 5.6,16.3 4.8,16.6 L2.2,16.6 C1.4,16.3 0.65,15.2 0.45,13.5 C0.3,11.5 0.4,8.2 1.0,5.6 C1.6,3.2 2.3,0.8 3.5,0.8 Z" fill="url(#gm)"/><g clip-path="url(#cm)" fill="#8a8a8a" opacity="0.45"><ellipse cx="4.89" cy="5.61" rx="1.09" ry="1.55"/><ellipse cx="3.27" cy="5.15" rx="0.88" ry="1.38"/><ellipse cx="2.32" cy="3.13" rx="1.08" ry="0.65"/></g></g>
<g transform="translate(479.40,196.80) scale(1.0286,1.0000)"><rect width="7" height="18" fill="#242424"/><path d="M1.6,16.2 L1.0,17.6 M2.6,16.4 L2.4,17.7 M4.4,16.4 L4.6,17.7 M5.4,16.2 L6.0,17.6" stroke="#777" stroke-width="0.45"/><path d="M3.5,0.8 C4.7,0.8 5.4,3.2 6.0,5.6 C6.6,8.2 6.7,11.5 6.55,13.5 C6.35,15.2 5.6,16.3 4.8,16.6 L2.2,16.6 C1.4,16.3 0.65,15.2 0.45,13.5 C0.3,11.5 0.4,8.2 1.0,5.6 C1.6,3.2 2.3,0.8 3.5,0.8 Z" fill="url(#gm)"/><g clip-path="url(#cm)" fill="#8a8a8a" opacity="0.45"><ellipse cx="4.64" cy="5.49" rx="0.59" ry="0.77"/><ellipse cx="5.20" cy="8.60" rx="0.84" ry="0.88"/><ellipse cx="4.27" cy="3.76" rx="0.67" ry="1.19"/></g></g>
<text x="491.10" y="208.70" font-size="7.0" text-anchor="middle" fill="#111" >X</text>
<g transform="translate(495.80,196.80) scale(1.0286,1.0000)"><rect width="7" height="18" fill="#242424"/><path d="M1.6,16.2 L1.0,17.6 M2.6,16.4 L2.4,17.7 M4.4,16.4 L4.6,17.7 M5.4,16.2 L6.0,17.6" stroke="#777" stroke-width="0.45"/><path d="M3.5,0.8 C4.7,0.8 5.4,3.2 6.0,5.6 C6.6,8.2 6.7,11.5 6.55,13.5 C6.35,15.2 5.6,16.3 4.8,16.6 L2.2,16.6 C1.4,16.3 0.65,15.2 0.45,13.5 C0.3,11.5 0.4,8.2 1.0,5.6 C1.6,3.2 2.3,0.8 3.5,0.8 Z" fill="url(#gm)"/><g clip-path="url(#cm)" fill="#8a8a8a" opacity="0.45"><ellipse cx="5.51" cy="3.85" rx="0.54" ry="0.70"/><ellipse cx="4.68" cy="12.19" rx="0.89" ry="1.26"/><ellipse cx="3.09" cy="14.19" rx="0.89" ry="0.81"/></g></g>
<g transform="translate(504.00,196.80) scale(1.0286,1.0000)"><rect width="7" height="18" fill="#242424"/><path d="M1.6,16.2 L1.0,17.6 M2.6,16.4 L2.4,17.7 M4.4,16.4 L4.6,17.7 M5.4,16.2 L6.0,17.6" stroke="#777" stroke-width="0.45"/><path d="M3.5,0.8 C4.7,0.8 5.4,3.2 6.0,5.6 C6.6,8.2 6.7,11.5 6.55,13.5 C6.35,15.2 5.6,16.3 4.8,16.6 L2.2,16.6 C1.4,16.3 0.65,15.2 0.45,13.5 C0.3,11.5 0.4,8.2 1.0,5.6 C1.6,3.2 2.3,0.8 3.5,0.8 Z" fill="url(#gm)"/><g clip-path="url(#cm)" fill="#8a8a8a" opacity="0.45"><ellipse cx="5.75" cy="5.87" rx="0.92" ry="1.54"/><ellipse cx="1.67" cy="9.94" rx="0.55" ry="1.09"/><ellipse cx="2.68" cy="7.72" rx="0.53" ry="0.65"/></g></g>
<text x="7.30" y="236.40" font-size="12.5" font-weight="bold" fill="#000" >C</text>
<line x1="51.00" y1="229.00" x2="51.00" y2="344.00" stroke="#111" stroke-width="1.5" />
<line x1="51.00" y1="343.40" x2="219.00" y2="343.40" stroke="#111" stroke-width="1.4" />
<line x1="48.40" y1="343.40" x2="51.00" y2="343.40" stroke="#111" stroke-width="0.9" />
<line x1="49.60" y1="338.07" x2="51.00" y2="338.07" stroke="#111" stroke-width="0.45" />
<line x1="49.60" y1="334.95" x2="51.00" y2="334.95" stroke="#111" stroke-width="0.45" />
<line x1="49.60" y1="332.74" x2="51.00" y2="332.74" stroke="#111" stroke-width="0.45" />
<line x1="49.60" y1="331.03" x2="51.00" y2="331.03" stroke="#111" stroke-width="0.45" />
<line x1="49.60" y1="329.63" x2="51.00" y2="329.63" stroke="#111" stroke-width="0.45" />
<line x1="49.60" y1="328.44" x2="51.00" y2="328.44" stroke="#111" stroke-width="0.45" />
<line x1="49.60" y1="327.42" x2="51.00" y2="327.42" stroke="#111" stroke-width="0.45" />
<line x1="49.60" y1="326.51" x2="51.00" y2="326.51" stroke="#111" stroke-width="0.45" />
<text x="44.00" y="345.60" font-size="6.6" text-anchor="end" fill="#1a1a1a">10<tspan font-size="4.6" dy="-2.8">-4</tspan></text>
<line x1="48.40" y1="325.70" x2="51.00" y2="325.70" stroke="#111" stroke-width="0.9" />
<line x1="49.60" y1="320.37" x2="51.00" y2="320.37" stroke="#111" stroke-width="0.45" />
<line x1="49.60" y1="317.25" x2="51.00" y2="317.25" stroke="#111" stroke-width="0.45" />
<line x1="49.60" y1="315.04" x2="51.00" y2="315.04" stroke="#111" stroke-width="0.45" />
<line x1="49.60" y1="313.33" x2="51.00" y2="313.33" stroke="#111" stroke-width="0.45" />
<line x1="49.60" y1="311.93" x2="51.00" y2="311.93" stroke="#111" stroke-width="0.45" />
<line x1="49.60" y1="310.74" x2="51.00" y2="310.74" stroke="#111" stroke-width="0.45" />
<line x1="49.60" y1="309.72" x2="51.00" y2="309.72" stroke="#111" stroke-width="0.45" />
<line x1="49.60" y1="308.81" x2="51.00" y2="308.81" stroke="#111" stroke-width="0.45" />
<text x="44.00" y="327.90" font-size="6.6" text-anchor="end" fill="#1a1a1a">10<tspan font-size="4.6" dy="-2.8">-3</tspan></text>
<line x1="48.40" y1="308.00" x2="51.00" y2="308.00" stroke="#111" stroke-width="0.9" />
<line x1="49.60" y1="302.67" x2="51.00" y2="302.67" stroke="#111" stroke-width="0.45" />
<line x1="49.60" y1="299.55" x2="51.00" y2="299.55" stroke="#111" stroke-width="0.45" />
<line x1="49.60" y1="297.34" x2="51.00" y2="297.34" stroke="#111" stroke-width="0.45" />
<line x1="49.60" y1="295.63" x2="51.00" y2="295.63" stroke="#111" stroke-width="0.45" />
<line x1="49.60" y1="294.23" x2="51.00" y2="294.23" stroke="#111" stroke-width="0.45" />
<line x1="49.60" y1="293.04" x2="51.00" y2="293.04" stroke="#111" stroke-width="0.45" />
<line x1="49.60" y1="292.02" x2="51.00" y2="292.02" stroke="#111" stroke-width="0.45" />
<line x1="49.60" y1="291.11" x2="51.00" y2="291.11" stroke="#111" stroke-width="0.45" />
<text x="44.00" y="310.20" font-size="6.6" text-anchor="end" fill="#1a1a1a">10<tspan font-size="4.6" dy="-2.8">-2</tspan></text>
<line x1="48.40" y1="290.30" x2="51.00" y2="290.30" stroke="#111" stroke-width="0.9" />
<line x1="49.60" y1="284.97" x2="51.00" y2="284.97" stroke="#111" stroke-width="0.45" />
<line x1="49.60" y1="281.85" x2="51.00" y2="281.85" stroke="#111" stroke-width="0.45" />
<line x1="49.60" y1="279.64" x2="51.00" y2="279.64" stroke="#111" stroke-width="0.45" />
<line x1="49.60" y1="277.93" x2="51.00" y2="277.93" stroke="#111" stroke-width="0.45" />
<line x1="49.60" y1="276.53" x2="51.00" y2="276.53" stroke="#111" stroke-width="0.45" />
<line x1="49.60" y1="275.34" x2="51.00" y2="275.34" stroke="#111" stroke-width="0.45" />
<line x1="49.60" y1="274.32" x2="51.00" y2="274.32" stroke="#111" stroke-width="0.45" />
<line x1="49.60" y1="273.41" x2="51.00" y2="273.41" stroke="#111" stroke-width="0.45" />
<text x="44.00" y="292.50" font-size="6.6" text-anchor="end" fill="#1a1a1a">10<tspan font-size="4.6" dy="-2.8">-1</tspan></text>
<line x1="48.40" y1="272.60" x2="51.00" y2="272.60" stroke="#111" stroke-width="0.9" />
<line x1="49.60" y1="267.27" x2="51.00" y2="267.27" stroke="#111" stroke-width="0.45" />
<line x1="49.60" y1="264.15" x2="51.00" y2="264.15" stroke="#111" stroke-width="0.45" />
<line x1="49.60" y1="261.94" x2="51.00" y2="261.94" stroke="#111" stroke-width="0.45" />
<line x1="49.60" y1="260.23" x2="51.00" y2="260.23" stroke="#111" stroke-width="0.45" />
<line x1="49.60" y1="258.83" x2="51.00" y2="258.83" stroke="#111" stroke-width="0.45" />
<line x1="49.60" y1="257.64" x2="51.00" y2="257.64" stroke="#111" stroke-width="0.45" />
<line x1="49.60" y1="256.62" x2="51.00" y2="256.62" stroke="#111" stroke-width="0.45" />
<line x1="49.60" y1="255.71" x2="51.00" y2="255.71" stroke="#111" stroke-width="0.45" />
<text x="44.00" y="274.80" font-size="6.6" text-anchor="end" fill="#1a1a1a">10<tspan font-size="4.6" dy="-2.8">0</tspan></text>
<line x1="48.40" y1="254.90" x2="51.00" y2="254.90" stroke="#111" stroke-width="0.9" />
<line x1="49.60" y1="249.57" x2="51.00" y2="249.57" stroke="#111" stroke-width="0.45" />
<line x1="49.60" y1="246.45" x2="51.00" y2="246.45" stroke="#111" stroke-width="0.45" />
<line x1="49.60" y1="244.24" x2="51.00" y2="244.24" stroke="#111" stroke-width="0.45" />
<line x1="49.60" y1="242.53" x2="51.00" y2="242.53" stroke="#111" stroke-width="0.45" />
<line x1="49.60" y1="241.13" x2="51.00" y2="241.13" stroke="#111" stroke-width="0.45" />
<line x1="49.60" y1="239.94" x2="51.00" y2="239.94" stroke="#111" stroke-width="0.45" />
<line x1="49.60" y1="238.92" x2="51.00" y2="238.92" stroke="#111" stroke-width="0.45" />
<line x1="49.60" y1="238.01" x2="51.00" y2="238.01" stroke="#111" stroke-width="0.45" />
<text x="44.00" y="257.10" font-size="6.6" text-anchor="end" fill="#1a1a1a">10<tspan font-size="4.6" dy="-2.8">1</tspan></text>
<line x1="48.40" y1="237.20" x2="51.00" y2="237.20" stroke="#111" stroke-width="0.9" />
<text x="44.00" y="239.40" font-size="6.6" text-anchor="end" fill="#1a1a1a">10<tspan font-size="4.6" dy="-2.8">2</tspan></text>
<rect x="53.75" y="238.00" width="3.30" height="34.60" fill="#52a040" />
<rect x="60.36" y="238.10" width="3.30" height="34.50" fill="#474e63" />
<rect x="66.97" y="238.20" width="3.30" height="34.40" fill="#474e63" />
<rect x="73.58" y="238.50" width="3.30" height="34.10" fill="#52a040" />
<rect x="80.19" y="238.80" width="3.30" height="33.80" fill="#474e63" />
<rect x="86.80" y="239.20" width="3.30" height="33.40" fill="#6cb04a" />
<rect x="93.41" y="240.30" width="3.30" height="32.30" fill="#474e63" />
<rect x="100.02" y="241.00" width="3.30" height="31.60" fill="#6cb04a" />
<rect x="106.63" y="241.80" width="3.30" height="30.80" fill="#474e63" />
<rect x="113.24" y="245.70" width="3.30" height="26.90" fill="#6cb04a" />
<rect x="119.85" y="258.50" width="3.30" height="14.10" fill="#b0103c" />
<rect x="126.46" y="268.90" width="3.30" height="3.70" fill="#b0103c" />
<rect x="133.07" y="271.50" width="3.30" height="1.10" fill="#b0103c" />
<rect x="146.29" y="272.60" width="3.30" height="5.10" fill="#b0103c" />
<rect x="152.90" y="272.60" width="3.30" height="30.50" fill="#e0961c" />
<rect x="159.51" y="272.60" width="3.30" height="31.20" fill="#e0961c" />
<rect x="166.12" y="272.60" width="3.30" height="33.20" fill="#e0961c" />
<rect x="172.73" y="272.60" width="3.30" height="35.60" fill="#e0961c" />
<rect x="179.34" y="272.60" width="3.30" height="37.40" fill="#e0961c" />
<rect x="185.95" y="272.60" width="3.30" height="40.00" fill="#4a1a60" />
<rect x="192.56" y="272.60" width="3.30" height="40.00" fill="#4a1a60" />
<rect x="199.17" y="272.60" width="3.30" height="41.60" fill="#4a1a60" />
<rect x="205.78" y="272.60" width="3.30" height="43.90" fill="#4a1a60" />
<rect x="212.39" y="272.60" width="3.30" height="52.40" fill="#4a1a60" />
<line x1="51.00" y1="272.60" x2="219.00" y2="272.60" stroke="#111" stroke-width="1.4" />
<text transform="translate(125.70,240.80) scale(1.0460,1)" font-size="6.8" fill="#1a1a1a">d7/d0</text>
<g style="will-change:transform"><text transform="translate(17.40,286.10) rotate(-90) scale(0.7158,1)" font-size="8.6" text-anchor="middle" fill="#000" stroke="#000" stroke-width="0.2">Fold change d7/d0</text></g>
<g style="will-change:transform"><text transform="translate(28.40,286.10) rotate(-90) scale(0.7664,1)" font-size="8.2" text-anchor="middle" fill="#000" stroke="#000" stroke-width="0.2">(bioluminescence)</text></g>
<text x="271.00" y="240.20" font-size="12.5" font-weight="bold" fill="#000" >F</text>
<line x1="311.30" y1="232.50" x2="311.30" y2="344.90" stroke="#111" stroke-width="1.5" />
<line x1="311.30" y1="344.30" x2="473.80" y2="344.30" stroke="#111" stroke-width="1.4" />
<line x1="308.70" y1="344.30" x2="311.30" y2="344.30" stroke="#111" stroke-width="0.9" />
<line x1="309.90" y1="337.77" x2="311.30" y2="337.77" stroke="#111" stroke-width="0.45" />
<line x1="309.90" y1="333.95" x2="311.30" y2="333.95" stroke="#111" stroke-width="0.45" />
<line x1="309.90" y1="331.24" x2="311.30" y2="331.24" stroke="#111" stroke-width="0.45" />
<line x1="309.90" y1="329.13" x2="311.30" y2="329.13" stroke="#111" stroke-width="0.45" />
<line x1="309.90" y1="327.41" x2="311.30" y2="327.41" stroke="#111" stroke-width="0.45" />
<line x1="309.90" y1="325.96" x2="311.30" y2="325.96" stroke="#111" stroke-width="0.45" />
<line x1="309.90" y1="324.70" x2="311.30" y2="324.70" stroke="#111" stroke-width="0.45" />
<line x1="309.90" y1="323.59" x2="311.30" y2="323.59" stroke="#111" stroke-width="0.45" />
<text x="305.20" y="346.50" font-size="6.6" text-anchor="end" fill="#1a1a1a">10<tspan font-size="4.6" dy="-2.8">-3</tspan></text>
<line x1="308.70" y1="322.60" x2="311.30" y2="322.60" stroke="#111" stroke-width="0.9" />
<line x1="309.90" y1="316.07" x2="311.30" y2="316.07" stroke="#111" stroke-width="0.45" />
<line x1="309.90" y1="312.25" x2="311.30" y2="312.25" stroke="#111" stroke-width="0.45" />
<line x1="309.90" y1="309.54" x2="311.30" y2="309.54" stroke="#111" stroke-width="0.45" />
<line x1="309.90" y1="307.43" x2="311.30" y2="307.43" stroke="#111" stroke-width="0.45" />
<line x1="309.90" y1="305.71" x2="311.30" y2="305.71" stroke="#111" stroke-width="0.45" />
<line x1="309.90" y1="304.26" x2="311.30" y2="304.26" stroke="#111" stroke-width="0.45" />
<line x1="309.90" y1="303.00" x2="311.30" y2="303.00" stroke="#111" stroke-width="0.45" />
<line x1="309.90" y1="301.89" x2="311.30" y2="301.89" stroke="#111" stroke-width="0.45" />
<text x="305.20" y="324.80" font-size="6.6" text-anchor="end" fill="#1a1a1a">10<tspan font-size="4.6" dy="-2.8">-2</tspan></text>
<line x1="308.70" y1="300.90" x2="311.30" y2="300.90" stroke="#111" stroke-width="0.9" />
<line x1="309.90" y1="294.37" x2="311.30" y2="294.37" stroke="#111" stroke-width="0.45" />
<line x1="309.90" y1="290.55" x2="311.30" y2="290.55" stroke="#111" stroke-width="0.45" />
<line x1="309.90" y1="287.84" x2="311.30" y2="287.84" stroke="#111" stroke-width="0.45" />
<line x1="309.90" y1="285.73" x2="311.30" y2="285.73" stroke="#111" stroke-width="0.45" />
<line x1="309.90" y1="284.01" x2="311.30" y2="284.01" stroke="#111" stroke-width="0.45" />
<line x1="309.90" y1="282.56" x2="311.30" y2="282.56" stroke="#111" stroke-width="0.45" />
<line x1="309.90" y1="281.30" x2="311.30" y2="281.30" stroke="#111" stroke-width="0.45" />
<line x1="309.90" y1="280.19" x2="311.30" y2="280.19" stroke="#111" stroke-width="0.45" />
<text x="305.20" y="303.10" font-size="6.6" text-anchor="end" fill="#1a1a1a">10<tspan font-size="4.6" dy="-2.8">-1</tspan></text>
<line x1="308.70" y1="279.20" x2="311.30" y2="279.20" stroke="#111" stroke-width="0.9" />
<line x1="309.90" y1="272.67" x2="311.30" y2="272.67" stroke="#111" stroke-width="0.45" />
<line x1="309.90" y1="268.85" x2="311.30" y2="268.85" stroke="#111" stroke-width="0.45" />
<line x1="309.90" y1="266.14" x2="311.30" y2="266.14" stroke="#111" stroke-width="0.45" />
<line x1="309.90" y1="264.03" x2="311.30" y2="264.03" stroke="#111" stroke-width="0.45" />
<line x1="309.90" y1="262.31" x2="311.30" y2="262.31" stroke="#111" stroke-width="0.45" />
<line x1="309.90" y1="260.86" x2="311.30" y2="260.86" stroke="#111" stroke-width="0.45" />
<line x1="309.90" y1="259.60" x2="311.30" y2="259.60" stroke="#111" stroke-width="0.45" />
<line x1="309.90" y1="258.49" x2="311.30" y2="258.49" stroke="#111" stroke-width="0.45" />
<text x="305.20" y="281.40" font-size="6.6" text-anchor="end" fill="#1a1a1a">10<tspan font-size="4.6" dy="-2.8">0</tspan></text>
<line x1="308.70" y1="257.50" x2="311.30" y2="257.50" stroke="#111" stroke-width="0.9" />
<line x1="309.90" y1="250.97" x2="311.30" y2="250.97" stroke="#111" stroke-width="0.45" />
<line x1="309.90" y1="247.15" x2="311.30" y2="247.15" stroke="#111" stroke-width="0.45" />
<line x1="309.90" y1="244.44" x2="311.30" y2="244.44" stroke="#111" stroke-width="0.45" />
<line x1="309.90" y1="242.33" x2="311.30" y2="242.33" stroke="#111" stroke-width="0.45" />
<line x1="309.90" y1="240.61" x2="311.30" y2="240.61" stroke="#111" stroke-width="0.45" />
<line x1="309.90" y1="239.16" x2="311.30" y2="239.16" stroke="#111" stroke-width="0.45" />
<line x1="309.90" y1="237.90" x2="311.30" y2="237.90" stroke="#111" stroke-width="0.45" />
<line x1="309.90" y1="236.79" x2="311.30" y2="236.79" stroke="#111" stroke-width="0.45" />
<text x="305.20" y="259.70" font-size="6.6" text-anchor="end" fill="#1a1a1a">10<tspan font-size="4.6" dy="-2.8">1</tspan></text>
<line x1="308.70" y1="235.80" x2="311.30" y2="235.80" stroke="#111" stroke-width="0.9" />
<text x="305.20" y="238.00" font-size="6.6" text-anchor="end" fill="#1a1a1a">10<tspan font-size="4.6" dy="-2.8">2</tspan></text>
<rect x="314.75" y="244.80" width="3.30" height="34.40" fill="#474e63" />
<rect x="321.18" y="245.20" width="3.30" height="34.00" fill="#474e63" />
<rect x="327.61" y="250.75" width="3.30" height="28.45" fill="#474e63" />
<rect x="334.04" y="251.00" width="3.30" height="28.20" fill="#474e63" />
<rect x="340.47" y="260.75" width="3.30" height="18.45" fill="#474e63" />
<rect x="353.33" y="279.20" width="3.30" height="8.30" fill="#6cb04a" />
<rect x="359.76" y="279.20" width="3.30" height="23.30" fill="#6cb04a" />
<rect x="366.19" y="279.20" width="3.30" height="29.55" fill="#6cb04a" />
<rect x="372.62" y="279.20" width="3.30" height="52.80" fill="#6cb04a" />
<rect x="379.05" y="279.20" width="3.30" height="55.30" fill="#4a1a60" />
<rect x="385.48" y="279.20" width="3.30" height="57.55" fill="#4a1a60" />
<rect x="391.91" y="279.20" width="3.30" height="57.55" fill="#e0961c" />
<rect x="398.34" y="279.20" width="3.30" height="57.55" fill="#b0103c" />
<rect x="404.77" y="279.20" width="3.30" height="57.55" fill="#b0103c" />
<rect x="411.20" y="279.20" width="3.30" height="58.30" fill="#4a1a60" />
<rect x="417.63" y="279.20" width="3.30" height="58.30" fill="#e0961c" />
<rect x="424.06" y="279.20" width="3.30" height="58.30" fill="#e0961c" />
<rect x="430.49" y="279.20" width="3.30" height="58.80" fill="#b0103c" />
<rect x="436.92" y="279.20" width="3.30" height="58.80" fill="#b0103c" />
<rect x="443.35" y="279.20" width="3.30" height="58.80" fill="#4a1a60" />
<rect x="449.78" y="279.20" width="3.30" height="58.80" fill="#e0961c" />
<rect x="456.21" y="279.20" width="3.30" height="58.80" fill="#b0103c" />
<rect x="462.64" y="279.20" width="3.30" height="58.80" fill="#e0961c" />
<rect x="469.07" y="279.20" width="3.30" height="59.55" fill="#4a1a60" />
<line x1="311.30" y1="279.20" x2="473.80" y2="279.20" stroke="#111" stroke-width="1.4" />
<text transform="translate(383.75,241.30) scale(1.0725,1)" font-size="6.8" fill="#1a1a1a">d7/d0</text>
<g style="will-change:transform"><text transform="translate(278.80,288.30) rotate(-90) scale(0.7074,1)" font-size="8.6" text-anchor="middle" fill="#000" stroke="#000" stroke-width="0.2">Fold change d7/d0</text></g>
<g style="will-change:transform"><text transform="translate(289.60,288.30) rotate(-90) scale(0.7574,1)" font-size="8.2" text-anchor="middle" fill="#000" stroke="#000" stroke-width="0.2">(bioluminescence)</text></g>
<text x="7.30" y="368.30" font-size="12.5" font-weight="bold" fill="#000" >D</text>
<line x1="51.10" y1="370.80" x2="51.10" y2="463.90" stroke="#333" stroke-width="1.6" />
<line x1="51.10" y1="463.30" x2="187.50" y2="463.30" stroke="#222" stroke-width="1.5" />
<line x1="48.50" y1="373.60" x2="51.10" y2="373.60" stroke="#222" stroke-width="1.0" />
<text x="44.90" y="375.90" font-size="6.6" text-anchor="end" fill="#1a1a1a" letter-spacing="0.3">100</text>
<line x1="48.50" y1="418.45" x2="51.10" y2="418.45" stroke="#222" stroke-width="1.0" />
<text x="44.90" y="420.75" font-size="6.6" text-anchor="end" fill="#1a1a1a" letter-spacing="0.3">50</text>
<line x1="48.50" y1="463.30" x2="51.10" y2="463.30" stroke="#222" stroke-width="1.0" />
<text x="44.90" y="465.60" font-size="6.6" text-anchor="end" fill="#1a1a1a" letter-spacing="0.3">0</text>
<line x1="51.00" y1="463.30" x2="51.00" y2="465.90" stroke="#222" stroke-width="1.0" />
<text x="51.00" y="476.30" font-size="6.8" text-anchor="middle" fill="#1a1a1a" >7</text>
<line x1="70.99" y1="463.30" x2="70.99" y2="465.90" stroke="#222" stroke-width="1.0" />
<text x="70.99" y="476.30" font-size="6.8" text-anchor="middle" fill="#1a1a1a" >21</text>
<line x1="90.98" y1="463.30" x2="90.98" y2="465.90" stroke="#222" stroke-width="1.0" />
<text x="90.98" y="476.30" font-size="6.8" text-anchor="middle" fill="#1a1a1a" >35</text>
<line x1="110.98" y1="463.30" x2="110.98" y2="465.90" stroke="#222" stroke-width="1.0" />
<text x="110.98" y="476.30" font-size="6.8" text-anchor="middle" fill="#1a1a1a" >49</text>
<line x1="130.97" y1="463.30" x2="130.97" y2="465.90" stroke="#222" stroke-width="1.0" />
<text x="130.97" y="476.30" font-size="6.8" text-anchor="middle" fill="#1a1a1a" >63</text>
<line x1="150.96" y1="463.30" x2="150.96" y2="465.90" stroke="#222" stroke-width="1.0" />
<text x="150.96" y="476.30" font-size="6.8" text-anchor="middle" fill="#1a1a1a" >77</text>
<line x1="170.95" y1="463.30" x2="170.95" y2="465.90" stroke="#222" stroke-width="1.0" />
<text x="170.95" y="476.30" font-size="6.8" text-anchor="middle" fill="#1a1a1a" >91</text>
<line x1="186.70" y1="373.60" x2="186.70" y2="463.30" stroke="#222" stroke-width="0.7" stroke-dasharray="1,1"/>
<path d="M51.00,373.60 L72.30,373.60 L72.30,391.54 L74.20,391.54 L74.20,409.48 L76.50,409.48 L76.50,463.30" fill="none" stroke="#474e63" stroke-width="1.5"/>
<path d="M72.30,373.60 L82.30,373.60 L82.30,409.48 L93.80,409.48 L93.80,463.30" fill="none" stroke="#6cb04a" stroke-width="1.5"/>
<path d="M82.30,373.60 L121.00,373.60 L121.00,409.48 L140.70,409.48 L140.70,463.30" fill="none" stroke="#b0103c" stroke-width="1.5"/>
<path d="M121.00,373.60 L187.30,373.60" fill="none" stroke="#e0961c" stroke-width="1.5"/>
<path d="M180.70,373.60 L180.70,391.54 L187.30,391.54" fill="none" stroke="#4a1a60" stroke-width="1.5"/>
<text transform="translate(192.20,397.10) scale(0.8368,1)" font-size="6.3" fill="#6f7597">Vehicle</text>
<text transform="translate(192.20,409.20) scale(0.8972,1)" font-size="6.3" fill="#74b454">ART838 + VEN</text>
<text transform="translate(192.20,421.70) scale(0.9103,1)" font-size="6.3" fill="#c02a4a">ART838 + SOR</text>
<text transform="translate(192.20,433.70) scale(0.8968,1)" font-size="6.3" fill="#e6b02a">VEN + SOR</text>
<text transform="translate(192.20,445.90) scale(0.8814,1)" font-size="6.3" fill="#66388a">SAV</text>



<text transform="translate(76.50,365.90) scale(0.9241,1)" font-size="9" fill="#111">Survival (Kaplan-Meier)</text>
<g style="will-change:transform"><text transform="translate(27.90,417.00) rotate(-90) scale(0.9122,1)" font-size="9.4" text-anchor="middle" fill="#111">Percent survival</text></g>
<text transform="translate(92.80,488.90) scale(0.6604,1)" font-size="9.4" fill="#000" stroke="#000" stroke-width="0.25">Days after first dose</text>
<line x1="186.70" y1="463.30" x2="186.70" y2="465.90" stroke="#222" stroke-width="1.0" />
<text x="186.40" y="476.30" font-size="6.8" text-anchor="middle" fill="#1a1a1a" >103</text>
<text x="271.00" y="368.30" font-size="12.5" font-weight="bold" fill="#000" >G</text>
<line x1="315.00" y1="370.95" x2="315.00" y2="464.35" stroke="#333" stroke-width="1.6" />
<line x1="315.00" y1="463.75" x2="452.50" y2="463.75" stroke="#222" stroke-width="1.5" />
<line x1="312.40" y1="373.75" x2="315.00" y2="373.75" stroke="#222" stroke-width="1.0" />
<text x="308.80" y="376.05" font-size="6.6" text-anchor="end" fill="#1a1a1a" letter-spacing="0.3">100</text>
<line x1="312.40" y1="418.75" x2="315.00" y2="418.75" stroke="#222" stroke-width="1.0" />
<text x="308.80" y="421.05" font-size="6.6" text-anchor="end" fill="#1a1a1a" letter-spacing="0.3">50</text>
<line x1="312.40" y1="463.75" x2="315.00" y2="463.75" stroke="#222" stroke-width="1.0" />
<text x="308.80" y="466.05" font-size="6.6" text-anchor="end" fill="#1a1a1a" letter-spacing="0.3">0</text>
<line x1="315.00" y1="463.75" x2="315.00" y2="466.35" stroke="#222" stroke-width="1.0" />
<text x="315.00" y="475.85" font-size="6.8" text-anchor="middle" fill="#1a1a1a" >7</text>
<line x1="326.32" y1="463.75" x2="326.32" y2="466.35" stroke="#222" stroke-width="1.0" />
<text x="326.32" y="475.85" font-size="6.8" text-anchor="middle" fill="#1a1a1a" >14</text>
<line x1="337.63" y1="463.75" x2="337.63" y2="466.35" stroke="#222" stroke-width="1.0" />
<text x="337.63" y="475.85" font-size="6.8" text-anchor="middle" fill="#1a1a1a" >21</text>
<line x1="348.95" y1="463.75" x2="348.95" y2="466.35" stroke="#222" stroke-width="1.0" />
<text x="348.95" y="475.85" font-size="6.8" text-anchor="middle" fill="#1a1a1a" >28</text>
<line x1="360.27" y1="463.75" x2="360.27" y2="466.35" stroke="#222" stroke-width="1.0" />
<text x="360.27" y="475.85" font-size="6.8" text-anchor="middle" fill="#1a1a1a" >35</text>
<line x1="371.58" y1="463.75" x2="371.58" y2="466.35" stroke="#222" stroke-width="1.0" />
<text x="371.58" y="475.85" font-size="6.8" text-anchor="middle" fill="#1a1a1a" >42</text>
<line x1="382.90" y1="463.75" x2="382.90" y2="466.35" stroke="#222" stroke-width="1.0" />
<text x="382.90" y="475.85" font-size="6.8" text-anchor="middle" fill="#1a1a1a" >49</text>
<line x1="394.22" y1="463.75" x2="394.22" y2="466.35" stroke="#222" stroke-width="1.0" />
<text x="394.22" y="475.85" font-size="6.8" text-anchor="middle" fill="#1a1a1a" >56</text>
<line x1="405.54" y1="463.75" x2="405.54" y2="466.35" stroke="#222" stroke-width="1.0" />
<text x="405.54" y="475.85" font-size="6.8" text-anchor="middle" fill="#1a1a1a" >63</text>
<line x1="416.85" y1="463.75" x2="416.85" y2="466.35" stroke="#222" stroke-width="1.0" />
<text x="416.85" y="475.85" font-size="6.8" text-anchor="middle" fill="#1a1a1a" >70</text>
<line x1="428.17" y1="463.75" x2="428.17" y2="466.35" stroke="#222" stroke-width="1.0" />
<text x="428.17" y="475.85" font-size="6.8" text-anchor="middle" fill="#1a1a1a" >77</text>
<line x1="439.49" y1="463.75" x2="439.49" y2="466.35" stroke="#222" stroke-width="1.0" />
<text x="439.49" y="475.85" font-size="6.8" text-anchor="middle" fill="#1a1a1a" >84</text>
<line x1="450.80" y1="463.75" x2="450.80" y2="466.35" stroke="#222" stroke-width="1.0" />
<text x="450.80" y="475.85" font-size="6.8" text-anchor="middle" fill="#1a1a1a" >91</text>
<line x1="451.30" y1="373.75" x2="451.30" y2="463.75" stroke="#222" stroke-width="0.7" stroke-dasharray="1,1"/>
<path d="M315.00,373.75 L348.60,373.75 L348.60,391.75 L351.30,391.75 L351.30,427.75 L353.00,427.75 L353.00,445.75 L361.60,445.75 L361.60,463.75" fill="none" stroke="#474e63" stroke-width="1.5"/>
<path d="M348.60,373.75 L371.60,373.75 L371.60,391.75 L383.90,391.75 L383.90,445.75 L386.10,445.75 L386.10,463.75" fill="none" stroke="#6cb04a" stroke-width="1.5"/>
<path d="M371.60,373.75 L385.40,373.75 L385.40,391.75 L452.00,391.75" fill="none" stroke="#4a1a60" stroke-width="1.5"/>
<path d="M371.60,373.75 L389.30,373.75 L389.30,396.25 L421.70,396.25 L421.70,418.75 L432.90,418.75 L432.90,441.25 L441.10,441.25 L441.10,463.75" fill="none" stroke="#b0103c" stroke-width="1.5"/>
<path d="M389.30,373.75 L452.00,373.75" fill="none" stroke="#e0961c" stroke-width="1.5"/>
<text transform="translate(455.10,397.60) scale(0.8368,1)" font-size="6.3" fill="#6f7597">Vehicle</text>
<text transform="translate(455.10,410.30) scale(0.8972,1)" font-size="6.3" fill="#74b454">ART838 + VEN</text>
<text transform="translate(455.10,422.30) scale(0.9103,1)" font-size="6.3" fill="#c02a4a">ART838 + SOR</text>
<text transform="translate(455.10,434.90) scale(0.8968,1)" font-size="6.3" fill="#e6b02a">VEN + SOR</text>
<text transform="translate(455.10,446.80) scale(0.8814,1)" font-size="6.3" fill="#66388a">SAV</text>



<text transform="translate(340.00,365.90) scale(0.9422,1)" font-size="9" fill="#111">Survival (Kaplan-Meier)</text>
<g style="will-change:transform"><text transform="translate(290.80,417.30) rotate(-90) scale(0.6935,1)" font-size="9.0" text-anchor="middle" fill="#111">Percent survival</text></g>
<text transform="translate(356.70,488.90) scale(0.6640,1)" font-size="9.4" fill="#000" stroke="#000" stroke-width="0.25">Days after first dose</text>
<text x="7.30" y="512.60" font-size="12.5" font-weight="bold" fill="#000" >H</text>
<rect x="99.00" y="535.60" width="383.30" height="57.00" fill="#dddde0" />
<rect x="23.30" y="605.00" width="459.00" height="12.30" fill="#dddde0" />
<rect x="23.30" y="629.50" width="459.00" height="12.20" fill="#dddde0" />
<rect x="23.30" y="653.90" width="459.00" height="12.10" fill="#dddde0" />
<rect x="23.30" y="678.20" width="459.00" height="12.30" fill="#dddde0" />
<rect x="23.3" y="501.5" width="459.00" height="189.00" fill="none" stroke="#c6c6ca" stroke-width="1.0"/>
<line x1="23.30" y1="517.90" x2="482.30" y2="517.90" stroke="#c6c6ca" stroke-width="1.0" />
<line x1="99.00" y1="535.60" x2="482.30" y2="535.60" stroke="#c6c6ca" stroke-width="1.0" />
<line x1="23.30" y1="592.60" x2="482.30" y2="592.60" stroke="#c6c6ca" stroke-width="1.0" />
<line x1="23.30" y1="605.00" x2="482.30" y2="605.00" stroke="#c6c6ca" stroke-width="1.0" />
<line x1="23.30" y1="617.30" x2="482.30" y2="617.30" stroke="#c6c6ca" stroke-width="1.0" />
<line x1="23.30" y1="629.50" x2="482.30" y2="629.50" stroke="#c6c6ca" stroke-width="1.0" />
<line x1="23.30" y1="641.70" x2="482.30" y2="641.70" stroke="#c6c6ca" stroke-width="1.0" />
<line x1="23.30" y1="653.90" x2="482.30" y2="653.90" stroke="#c6c6ca" stroke-width="1.0" />
<line x1="23.30" y1="666.00" x2="482.30" y2="666.00" stroke="#c6c6ca" stroke-width="1.0" />
<line x1="23.30" y1="678.20" x2="482.30" y2="678.20" stroke="#c6c6ca" stroke-width="1.0" />
<line x1="99.00" y1="517.90" x2="99.00" y2="690.50" stroke="#c6c6ca" stroke-width="1.0" />
<line x1="291.50" y1="517.90" x2="291.50" y2="690.50" stroke="#c6c6ca" stroke-width="1.0" />
<line x1="140.90" y1="535.60" x2="140.90" y2="690.50" stroke="#c6c6ca" stroke-width="1.0" />
<line x1="188.40" y1="535.60" x2="188.40" y2="690.50" stroke="#c6c6ca" stroke-width="1.0" />
<line x1="258.50" y1="535.60" x2="258.50" y2="690.50" stroke="#c6c6ca" stroke-width="1.0" />
<line x1="333.40" y1="535.60" x2="333.40" y2="690.50" stroke="#c6c6ca" stroke-width="1.0" />
<line x1="380.80" y1="535.60" x2="380.80" y2="690.50" stroke="#c6c6ca" stroke-width="1.0" />
<line x1="451.60" y1="535.60" x2="451.60" y2="690.50" stroke="#c6c6ca" stroke-width="1.0" />
<text x="176.60" y="512.60" font-size="8.2" font-weight="bold" fill="#111" textLength="151.9" lengthAdjust="spacingAndGlyphs" >Compilation of Xenograft Responses</text>
<text x="153.70" y="530.00" font-size="8.2" font-weight="bold" fill="#111" textLength="82.8" lengthAdjust="spacingAndGlyphs" >MOLM14 AML (n=3)</text>
<text x="349.00" y="530.00" font-size="8.2" font-weight="bold" fill="#111" textLength="75.8" lengthAdjust="spacingAndGlyphs" >MV4;11 AML (n=4)</text>
<text x="61.20" y="553.00" font-size="6.6" text-anchor="middle" fill="#222" >Drug</text>
<text x="61.20" y="561.20" font-size="6.6" text-anchor="middle" fill="#222" >Combinations</text>
<text x="119.95" y="552.70" font-size="6.5" text-anchor="middle" font-weight="bold" fill="#111" >AML</text>
<text x="119.95" y="561.00" font-size="6.5" text-anchor="middle" font-weight="bold" fill="#111" >Burden</text>
<text x="119.95" y="569.20" font-size="6.5" text-anchor="middle" fill="#333" >(d7/d0 fold</text>
<text x="119.95" y="577.40" font-size="6.5" text-anchor="middle" fill="#333" >change)</text>
<text x="164.65" y="556.70" font-size="6.5" text-anchor="middle" font-weight="bold" fill="#111" >Survival</text>
<text x="164.65" y="564.90" font-size="6.5" text-anchor="middle" fill="#333" >(fold change</text>
<text x="164.65" y="573.10" font-size="6.5" text-anchor="middle" fill="#333" >vs vehicle)</text>
<text x="223.45" y="548.60" font-size="6.5" text-anchor="middle" font-weight="bold" fill="#111" >Mice w/</text>
<text x="223.45" y="556.80" font-size="6.5" text-anchor="middle" font-weight="bold" fill="#111" >Undetetectable</text>
<text x="223.45" y="565.00" font-size="6.5" text-anchor="middle" font-weight="bold" fill="#111" >Luminesence</text>
<text x="223.45" y="573.20" font-size="6.5" text-anchor="middle" fill="#333" >(No BLI at</text>
<text x="223.45" y="581.40" font-size="6.5" text-anchor="middle" fill="#333" >experiment end)</text>
<text x="275.00" y="561.00" font-size="6.5" text-anchor="middle" font-weight="bold" fill="#111" >Total</text>
<text x="275.00" y="569.20" font-size="6.5" text-anchor="middle" font-weight="bold" fill="#111" >Mice</text>
<text x="312.45" y="552.70" font-size="6.5" text-anchor="middle" font-weight="bold" fill="#111" >AML</text>
<text x="312.45" y="561.00" font-size="6.5" text-anchor="middle" font-weight="bold" fill="#111" >Burden</text>
<text x="312.45" y="569.20" font-size="6.5" text-anchor="middle" fill="#333" >(d7/d0 fold</text>
<text x="312.45" y="577.40" font-size="6.5" text-anchor="middle" fill="#333" >change)</text>
<text x="357.10" y="556.70" font-size="6.5" text-anchor="middle" font-weight="bold" fill="#111" >Survival</text>
<text x="357.10" y="564.90" font-size="6.5" text-anchor="middle" fill="#333" >(fold change</text>
<text x="357.10" y="573.10" font-size="6.5" text-anchor="middle" fill="#333" >vs vehicle)</text>
<text x="416.20" y="548.60" font-size="6.5" text-anchor="middle" font-weight="bold" fill="#111" >Mice w/</text>
<text x="416.20" y="556.80" font-size="6.5" text-anchor="middle" font-weight="bold" fill="#111" >Undetetectable</text>
<text x="416.20" y="565.00" font-size="6.5" text-anchor="middle" font-weight="bold" fill="#111" >Luminesence</text>
<text x="416.20" y="573.20" font-size="6.5" text-anchor="middle" fill="#333" >(No BLI at</text>
<text x="416.20" y="581.40" font-size="6.5" text-anchor="middle" fill="#333" >experiment end)</text>
<text x="466.95" y="561.00" font-size="6.5" text-anchor="middle" font-weight="bold" fill="#111" >Total</text>
<text x="466.95" y="569.20" font-size="6.5" text-anchor="middle" font-weight="bold" fill="#111" >Mice</text>
<text x="61.15" y="601.80" font-size="6.5" text-anchor="middle" font-weight="bold" fill="#111" >Vehicle</text>
<text x="119.95" y="601.80" font-size="6.5" text-anchor="middle" fill="#222" >48.6</text>
<text x="164.65" y="601.80" font-size="6.5" text-anchor="middle" fill="#222" >1</text>
<text x="223.45" y="601.80" font-size="6.5" text-anchor="middle" fill="#222" >0</text>
<text x="275.00" y="601.80" font-size="6.5" text-anchor="middle" fill="#222" >20</text>
<text x="312.45" y="601.80" font-size="6.5" text-anchor="middle" fill="#222" >26.4</text>
<text x="357.10" y="601.80" font-size="6.5" text-anchor="middle" fill="#222" >1</text>
<text x="416.20" y="601.80" font-size="6.5" text-anchor="middle" fill="#222" >0</text>
<text x="466.95" y="601.80" font-size="6.5" text-anchor="middle" fill="#222" >24</text>
<text x="61.15" y="614.15" font-size="6.5" text-anchor="middle" font-weight="bold" fill="#111" >ART838</text>
<text x="119.95" y="614.15" font-size="6.5" text-anchor="middle" fill="#222" >8.5</text>
<text x="164.65" y="614.15" font-size="6.5" text-anchor="middle" fill="#222" >1.3</text>
<text x="223.45" y="614.15" font-size="6.5" text-anchor="middle" fill="#222" >0</text>
<text x="275.00" y="614.15" font-size="6.5" text-anchor="middle" fill="#222" >10</text>
<text x="312.45" y="614.15" font-size="6.5" text-anchor="middle" fill="#222" >14.2</text>
<text x="357.10" y="614.15" font-size="6.5" text-anchor="middle" fill="#222" >1.2</text>
<text x="416.20" y="614.15" font-size="6.5" text-anchor="middle" fill="#222" >0</text>
<text x="466.95" y="614.15" font-size="6.5" text-anchor="middle" fill="#222" >19</text>
<text x="61.15" y="626.40" font-size="6.5" text-anchor="middle" font-weight="bold" fill="#111" >VEN</text>
<text x="119.95" y="626.40" font-size="6.5" text-anchor="middle" fill="#222" >nd</text>
<text x="164.65" y="626.40" font-size="6.5" text-anchor="middle" fill="#222" >nd</text>
<text x="223.45" y="626.40" font-size="6.5" text-anchor="middle" fill="#222" >nd</text>
<text x="275.00" y="626.40" font-size="6.5" text-anchor="middle" fill="#222" >nd</text>
<text x="312.45" y="626.40" font-size="6.5" text-anchor="middle" fill="#222" >6.4</text>
<text x="357.10" y="626.40" font-size="6.5" text-anchor="middle" fill="#222" >1.1</text>
<text x="416.20" y="626.40" font-size="6.5" text-anchor="middle" fill="#222" >0</text>
<text x="466.95" y="626.40" font-size="6.5" text-anchor="middle" fill="#222" >10</text>
<text x="61.15" y="638.60" font-size="6.5" text-anchor="middle" font-weight="bold" fill="#111" >SOR</text>
<text x="119.95" y="638.60" font-size="6.5" text-anchor="middle" fill="#222" >1.2</text>
<text x="164.65" y="638.60" font-size="6.5" text-anchor="middle" fill="#222" >2.2</text>
<text x="223.45" y="638.60" font-size="6.5" text-anchor="middle" fill="#222" >0</text>
<text x="275.00" y="638.60" font-size="6.5" text-anchor="middle" fill="#222" >5</text>
<text x="312.45" y="638.60" font-size="6.5" text-anchor="middle" fill="#222" >1.5</text>
<text x="357.10" y="638.60" font-size="6.5" text-anchor="middle" fill="#222" >1.5</text>
<text x="416.20" y="638.60" font-size="6.5" text-anchor="middle" fill="#222" >0</text>
<text x="466.95" y="638.60" font-size="6.5" text-anchor="middle" fill="#222" >8</text>
<text x="61.15" y="650.80" font-size="6.5" text-anchor="middle" font-weight="bold" fill="#111" >ART838+VEN</text>
<text x="119.95" y="650.80" font-size="6.5" text-anchor="middle" fill="#222" >40.4</text>
<text x="164.65" y="650.80" font-size="6.5" text-anchor="middle" fill="#222" >1.2</text>
<text x="223.45" y="650.80" font-size="6.5" text-anchor="middle" fill="#222" >0</text>
<text x="275.00" y="650.80" font-size="6.5" text-anchor="middle" fill="#222" >10</text>
<text x="312.45" y="650.80" font-size="6.5" text-anchor="middle" fill="#222" >1.6</text>
<text x="357.10" y="650.80" font-size="6.5" text-anchor="middle" fill="#222" >1.4</text>
<text x="416.20" y="650.80" font-size="6.5" text-anchor="middle" fill="#222" >0</text>
<text x="466.95" y="650.80" font-size="6.5" text-anchor="middle" fill="#222" >15</text>
<text x="61.15" y="662.95" font-size="6.5" text-anchor="middle" font-weight="bold" fill="#111" >ART838+SOR</text>
<text x="119.95" y="662.95" font-size="6.5" text-anchor="middle" fill="#222" >0.88</text>
<text x="164.65" y="662.95" font-size="6.5" text-anchor="middle" fill="#222" >2.2</text>
<text x="223.45" y="662.95" font-size="6.5" text-anchor="middle" fill="#222" >0</text>
<text x="275.00" y="662.95" font-size="6.5" text-anchor="middle" fill="#222" >10</text>
<text x="312.45" y="662.95" font-size="6.5" text-anchor="middle" fill="#222" >0.04</text>
<text x="357.10" y="662.95" font-size="6.5" text-anchor="middle" fill="#222" >2.6</text>
<text x="416.20" y="662.95" font-size="6.5" text-anchor="middle" fill="#222" >0</text>
<text x="466.95" y="662.95" font-size="6.5" text-anchor="middle" fill="#222" >10</text>
<text x="61.15" y="675.10" font-size="6.5" text-anchor="middle" font-weight="bold" fill="#111" >VEN+SOR</text>
<text x="119.95" y="675.10" font-size="6.5" text-anchor="middle" fill="#222" >0.01</text>
<text x="164.65" y="675.10" font-size="6.5" text-anchor="middle" fill="#222" >&gt;4.2</text>
<text x="223.45" y="675.10" font-size="6.5" text-anchor="middle" fill="#222" >7</text>
<text x="275.00" y="675.10" font-size="6.5" text-anchor="middle" fill="#222" >10</text>
<text x="312.45" y="675.10" font-size="6.5" text-anchor="middle" fill="#222" >0.01</text>
<text x="357.10" y="675.10" font-size="6.5" text-anchor="middle" fill="#222" >&gt;2.8</text>
<text x="416.20" y="675.10" font-size="6.5" text-anchor="middle" fill="#222" >9</text>
<text x="466.95" y="675.10" font-size="6.5" text-anchor="middle" fill="#222" >13</text>
<text x="61.15" y="687.35" font-size="6.5" text-anchor="middle" font-weight="bold" fill="#111" >SAV</text>
<text x="119.95" y="687.35" font-size="6.5" text-anchor="middle" fill="#222" >0.01</text>
<text x="164.65" y="687.35" font-size="6.5" text-anchor="middle" fill="#222" >&gt;5.0</text>
<text x="223.45" y="687.35" font-size="6.5" text-anchor="middle" fill="#222" >8</text>
<text x="275.00" y="687.35" font-size="6.5" text-anchor="middle" fill="#222" >19</text>
<text x="312.45" y="687.35" font-size="6.5" text-anchor="middle" fill="#222" >0.01</text>
<text x="357.10" y="687.35" font-size="6.5" text-anchor="middle" fill="#222" >&gt;3.2</text>
<text x="416.20" y="687.35" font-size="6.5" text-anchor="middle" fill="#222" >10</text>
<text x="466.95" y="687.35" font-size="6.5" text-anchor="middle" fill="#222" >24</text>
<rect x="0.5" y="0.5" width="519" height="697" fill="none" stroke="#000" stroke-width="1"/>
</svg>
</body></html>
